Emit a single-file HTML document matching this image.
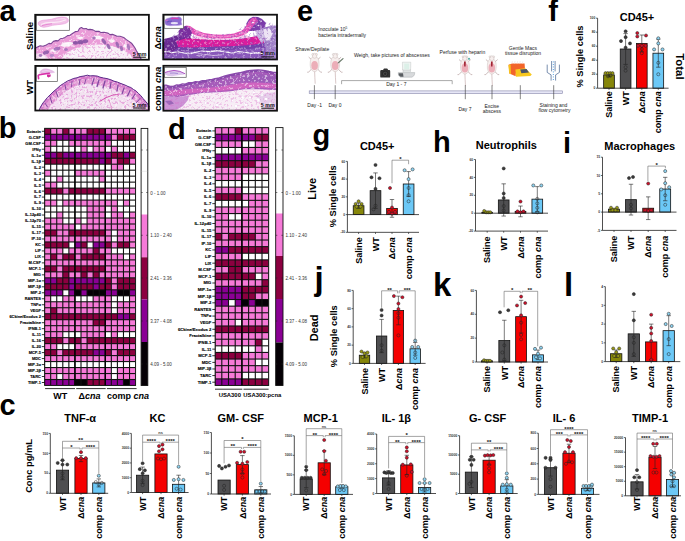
<!DOCTYPE html>
<html><head><meta charset="utf-8"><style>
html,body{margin:0;padding:0;background:#fff;width:685px;height:541px;overflow:hidden}
svg{display:block;font-family:"Liberation Sans",sans-serif}
</style></head><body>
<svg width="685" height="541" viewBox="0 0 685 541" style="font-family:'Liberation Sans', sans-serif">
<rect x="0.00" y="0.00" width="685.00" height="541.00" fill="#fff"/>
<text x="-0.40" y="21.30" font-size="29" font-weight="bold" text-anchor="start" fill="#000">a</text>
<text x="296.90" y="20.70" font-size="29" font-weight="bold" text-anchor="start" fill="#000">e</text>
<text x="548.20" y="21.30" font-size="29" font-weight="bold" text-anchor="start" fill="#000">f</text>
<text x="-1.20" y="138.20" font-size="29" font-weight="bold" text-anchor="start" fill="#000">b</text>
<text x="168.10" y="138.50" font-size="29" font-weight="bold" text-anchor="start" fill="#000">d</text>
<text x="312.50" y="145.10" font-size="29" font-weight="bold" text-anchor="start" fill="#000">g</text>
<text x="432.90" y="152.00" font-size="29" font-weight="bold" text-anchor="start" fill="#000">h</text>
<text x="563.00" y="152.70" font-size="29" font-weight="bold" text-anchor="start" fill="#000">i</text>
<text x="-0.40" y="415.10" font-size="29" font-weight="bold" text-anchor="start" fill="#000">c</text>
<text x="314.50" y="290.00" font-size="33" font-weight="bold" text-anchor="start" fill="#000">j</text>
<text x="432.90" y="296.00" font-size="33" font-weight="bold" text-anchor="start" fill="#000">k</text>
<text x="564.00" y="295.90" font-size="33" font-weight="bold" text-anchor="start" fill="#000">l</text>
<rect x="44.60" y="128.30" width="91.00" height="257.20" fill="#111"/>
<rect x="45.15" y="128.85" width="4.97" height="4.88" fill="#8c0040"/>
<rect x="51.22" y="128.85" width="4.97" height="4.88" fill="#f67ad8"/>
<rect x="57.28" y="128.85" width="4.97" height="4.88" fill="#f67ad8"/>
<rect x="63.35" y="128.85" width="4.97" height="4.88" fill="#8c0040"/>
<rect x="69.42" y="128.85" width="4.97" height="4.88" fill="#f67ad8"/>
<rect x="75.48" y="128.85" width="4.97" height="4.88" fill="#f67ad8"/>
<rect x="81.55" y="128.85" width="4.97" height="4.88" fill="#f67ad8"/>
<rect x="87.62" y="128.85" width="4.97" height="4.88" fill="#8c0040"/>
<rect x="93.68" y="128.85" width="4.97" height="4.88" fill="#8c0040"/>
<rect x="99.75" y="128.85" width="4.97" height="4.88" fill="#8c0040"/>
<rect x="105.82" y="128.85" width="4.97" height="4.88" fill="#f67ad8"/>
<rect x="111.88" y="128.85" width="4.97" height="4.88" fill="#f67ad8"/>
<rect x="117.95" y="128.85" width="4.97" height="4.88" fill="#f67ad8"/>
<rect x="124.02" y="128.85" width="4.97" height="4.88" fill="#f67ad8"/>
<rect x="130.08" y="128.85" width="4.97" height="4.88" fill="#f67ad8"/>
<rect x="45.15" y="134.83" width="4.97" height="4.88" fill="#8a0094"/>
<rect x="51.22" y="134.83" width="4.97" height="4.88" fill="#8a0094"/>
<rect x="57.28" y="134.83" width="4.97" height="4.88" fill="#8a0094"/>
<rect x="63.35" y="134.83" width="4.97" height="4.88" fill="#8a0094"/>
<rect x="69.42" y="134.83" width="4.97" height="4.88" fill="#8a0094"/>
<rect x="75.48" y="134.83" width="4.97" height="4.88" fill="#8a0094"/>
<rect x="81.55" y="134.83" width="4.97" height="4.88" fill="#8a0094"/>
<rect x="87.62" y="134.83" width="4.97" height="4.88" fill="#8a0094"/>
<rect x="93.68" y="134.83" width="4.97" height="4.88" fill="#8a0094"/>
<rect x="99.75" y="134.83" width="4.97" height="4.88" fill="#8a0094"/>
<rect x="105.82" y="134.83" width="4.97" height="4.88" fill="#8a0094"/>
<rect x="111.88" y="134.83" width="4.97" height="4.88" fill="#f67ad8"/>
<rect x="117.95" y="134.83" width="4.97" height="4.88" fill="#8c0040"/>
<rect x="124.02" y="134.83" width="4.97" height="4.88" fill="#8c0040"/>
<rect x="130.08" y="134.83" width="4.97" height="4.88" fill="#8c0040"/>
<rect x="45.15" y="140.81" width="4.97" height="4.88" fill="#f67ad8"/>
<rect x="51.22" y="140.81" width="4.97" height="4.88" fill="#f67ad8"/>
<rect x="57.28" y="140.81" width="4.97" height="4.88" fill="#ffffff"/>
<rect x="63.35" y="140.81" width="4.97" height="4.88" fill="#ffffff"/>
<rect x="69.42" y="140.81" width="4.97" height="4.88" fill="#f67ad8"/>
<rect x="75.48" y="140.81" width="4.97" height="4.88" fill="#f67ad8"/>
<rect x="81.55" y="140.81" width="4.97" height="4.88" fill="#f67ad8"/>
<rect x="87.62" y="140.81" width="4.97" height="4.88" fill="#f67ad8"/>
<rect x="93.68" y="140.81" width="4.97" height="4.88" fill="#f67ad8"/>
<rect x="99.75" y="140.81" width="4.97" height="4.88" fill="#f67ad8"/>
<rect x="105.82" y="140.81" width="4.97" height="4.88" fill="#f67ad8"/>
<rect x="111.88" y="140.81" width="4.97" height="4.88" fill="#ffffff"/>
<rect x="117.95" y="140.81" width="4.97" height="4.88" fill="#ffffff"/>
<rect x="124.02" y="140.81" width="4.97" height="4.88" fill="#ffffff"/>
<rect x="130.08" y="140.81" width="4.97" height="4.88" fill="#ffffff"/>
<rect x="45.15" y="146.79" width="4.97" height="4.88" fill="#f67ad8"/>
<rect x="51.22" y="146.79" width="4.97" height="4.88" fill="#ffffff"/>
<rect x="57.28" y="146.79" width="4.97" height="4.88" fill="#ffffff"/>
<rect x="63.35" y="146.79" width="4.97" height="4.88" fill="#ffffff"/>
<rect x="69.42" y="146.79" width="4.97" height="4.88" fill="#ffffff"/>
<rect x="75.48" y="146.79" width="4.97" height="4.88" fill="#ffffff"/>
<rect x="81.55" y="146.79" width="4.97" height="4.88" fill="#f67ad8"/>
<rect x="87.62" y="146.79" width="4.97" height="4.88" fill="#ffffff"/>
<rect x="93.68" y="146.79" width="4.97" height="4.88" fill="#f67ad8"/>
<rect x="99.75" y="146.79" width="4.97" height="4.88" fill="#f67ad8"/>
<rect x="105.82" y="146.79" width="4.97" height="4.88" fill="#ffffff"/>
<rect x="111.88" y="146.79" width="4.97" height="4.88" fill="#f67ad8"/>
<rect x="117.95" y="146.79" width="4.97" height="4.88" fill="#ffffff"/>
<rect x="124.02" y="146.79" width="4.97" height="4.88" fill="#ffffff"/>
<rect x="130.08" y="146.79" width="4.97" height="4.88" fill="#ffffff"/>
<rect x="45.15" y="152.78" width="4.97" height="4.88" fill="#8a0094"/>
<rect x="51.22" y="152.78" width="4.97" height="4.88" fill="#8a0094"/>
<rect x="57.28" y="152.78" width="4.97" height="4.88" fill="#8c0040"/>
<rect x="63.35" y="152.78" width="4.97" height="4.88" fill="#8a0094"/>
<rect x="69.42" y="152.78" width="4.97" height="4.88" fill="#8a0094"/>
<rect x="75.48" y="152.78" width="4.97" height="4.88" fill="#8a0094"/>
<rect x="81.55" y="152.78" width="4.97" height="4.88" fill="#8a0094"/>
<rect x="87.62" y="152.78" width="4.97" height="4.88" fill="#8a0094"/>
<rect x="93.68" y="152.78" width="4.97" height="4.88" fill="#8a0094"/>
<rect x="99.75" y="152.78" width="4.97" height="4.88" fill="#8a0094"/>
<rect x="105.82" y="152.78" width="4.97" height="4.88" fill="#8a0094"/>
<rect x="111.88" y="152.78" width="4.97" height="4.88" fill="#8c0040"/>
<rect x="117.95" y="152.78" width="4.97" height="4.88" fill="#8c0040"/>
<rect x="124.02" y="152.78" width="4.97" height="4.88" fill="#8a0094"/>
<rect x="130.08" y="152.78" width="4.97" height="4.88" fill="#8c0040"/>
<rect x="45.15" y="158.76" width="4.97" height="4.88" fill="#8c0040"/>
<rect x="51.22" y="158.76" width="4.97" height="4.88" fill="#8c0040"/>
<rect x="57.28" y="158.76" width="4.97" height="4.88" fill="#8c0040"/>
<rect x="63.35" y="158.76" width="4.97" height="4.88" fill="#8c0040"/>
<rect x="69.42" y="158.76" width="4.97" height="4.88" fill="#8c0040"/>
<rect x="75.48" y="158.76" width="4.97" height="4.88" fill="#8c0040"/>
<rect x="81.55" y="158.76" width="4.97" height="4.88" fill="#8c0040"/>
<rect x="87.62" y="158.76" width="4.97" height="4.88" fill="#8c0040"/>
<rect x="93.68" y="158.76" width="4.97" height="4.88" fill="#8c0040"/>
<rect x="99.75" y="158.76" width="4.97" height="4.88" fill="#8a0094"/>
<rect x="105.82" y="158.76" width="4.97" height="4.88" fill="#8c0040"/>
<rect x="111.88" y="158.76" width="4.97" height="4.88" fill="#f67ad8"/>
<rect x="117.95" y="158.76" width="4.97" height="4.88" fill="#8c0040"/>
<rect x="124.02" y="158.76" width="4.97" height="4.88" fill="#8c0040"/>
<rect x="130.08" y="158.76" width="4.97" height="4.88" fill="#f67ad8"/>
<rect x="45.15" y="164.74" width="4.97" height="4.88" fill="#ffffff"/>
<rect x="51.22" y="164.74" width="4.97" height="4.88" fill="#ffffff"/>
<rect x="57.28" y="164.74" width="4.97" height="4.88" fill="#ffffff"/>
<rect x="63.35" y="164.74" width="4.97" height="4.88" fill="#ffffff"/>
<rect x="69.42" y="164.74" width="4.97" height="4.88" fill="#ffffff"/>
<rect x="75.48" y="164.74" width="4.97" height="4.88" fill="#ffffff"/>
<rect x="81.55" y="164.74" width="4.97" height="4.88" fill="#ffffff"/>
<rect x="87.62" y="164.74" width="4.97" height="4.88" fill="#ffffff"/>
<rect x="93.68" y="164.74" width="4.97" height="4.88" fill="#ffffff"/>
<rect x="99.75" y="164.74" width="4.97" height="4.88" fill="#ffffff"/>
<rect x="105.82" y="164.74" width="4.97" height="4.88" fill="#ffffff"/>
<rect x="111.88" y="164.74" width="4.97" height="4.88" fill="#f67ad8"/>
<rect x="117.95" y="164.74" width="4.97" height="4.88" fill="#f67ad8"/>
<rect x="124.02" y="164.74" width="4.97" height="4.88" fill="#ffffff"/>
<rect x="130.08" y="164.74" width="4.97" height="4.88" fill="#ffffff"/>
<rect x="45.15" y="170.72" width="4.97" height="4.88" fill="#f67ad8"/>
<rect x="51.22" y="170.72" width="4.97" height="4.88" fill="#ffffff"/>
<rect x="57.28" y="170.72" width="4.97" height="4.88" fill="#ffffff"/>
<rect x="63.35" y="170.72" width="4.97" height="4.88" fill="#ffffff"/>
<rect x="69.42" y="170.72" width="4.97" height="4.88" fill="#ffffff"/>
<rect x="75.48" y="170.72" width="4.97" height="4.88" fill="#f67ad8"/>
<rect x="81.55" y="170.72" width="4.97" height="4.88" fill="#f67ad8"/>
<rect x="87.62" y="170.72" width="4.97" height="4.88" fill="#f67ad8"/>
<rect x="93.68" y="170.72" width="4.97" height="4.88" fill="#f67ad8"/>
<rect x="99.75" y="170.72" width="4.97" height="4.88" fill="#f67ad8"/>
<rect x="105.82" y="170.72" width="4.97" height="4.88" fill="#ffffff"/>
<rect x="111.88" y="170.72" width="4.97" height="4.88" fill="#ffffff"/>
<rect x="117.95" y="170.72" width="4.97" height="4.88" fill="#ffffff"/>
<rect x="124.02" y="170.72" width="4.97" height="4.88" fill="#ffffff"/>
<rect x="130.08" y="170.72" width="4.97" height="4.88" fill="#ffffff"/>
<rect x="45.15" y="176.70" width="4.97" height="4.88" fill="#ffffff"/>
<rect x="51.22" y="176.70" width="4.97" height="4.88" fill="#ffffff"/>
<rect x="57.28" y="176.70" width="4.97" height="4.88" fill="#f67ad8"/>
<rect x="63.35" y="176.70" width="4.97" height="4.88" fill="#ffffff"/>
<rect x="69.42" y="176.70" width="4.97" height="4.88" fill="#ffffff"/>
<rect x="75.48" y="176.70" width="4.97" height="4.88" fill="#ffffff"/>
<rect x="81.55" y="176.70" width="4.97" height="4.88" fill="#ffffff"/>
<rect x="87.62" y="176.70" width="4.97" height="4.88" fill="#ffffff"/>
<rect x="93.68" y="176.70" width="4.97" height="4.88" fill="#ffffff"/>
<rect x="99.75" y="176.70" width="4.97" height="4.88" fill="#f67ad8"/>
<rect x="105.82" y="176.70" width="4.97" height="4.88" fill="#ffffff"/>
<rect x="111.88" y="176.70" width="4.97" height="4.88" fill="#ffffff"/>
<rect x="117.95" y="176.70" width="4.97" height="4.88" fill="#ffffff"/>
<rect x="124.02" y="176.70" width="4.97" height="4.88" fill="#ffffff"/>
<rect x="130.08" y="176.70" width="4.97" height="4.88" fill="#ffffff"/>
<rect x="45.15" y="182.68" width="4.97" height="4.88" fill="#f67ad8"/>
<rect x="51.22" y="182.68" width="4.97" height="4.88" fill="#f67ad8"/>
<rect x="57.28" y="182.68" width="4.97" height="4.88" fill="#ffffff"/>
<rect x="63.35" y="182.68" width="4.97" height="4.88" fill="#ffffff"/>
<rect x="69.42" y="182.68" width="4.97" height="4.88" fill="#ffffff"/>
<rect x="75.48" y="182.68" width="4.97" height="4.88" fill="#ffffff"/>
<rect x="81.55" y="182.68" width="4.97" height="4.88" fill="#ffffff"/>
<rect x="87.62" y="182.68" width="4.97" height="4.88" fill="#ffffff"/>
<rect x="93.68" y="182.68" width="4.97" height="4.88" fill="#ffffff"/>
<rect x="99.75" y="182.68" width="4.97" height="4.88" fill="#ffffff"/>
<rect x="105.82" y="182.68" width="4.97" height="4.88" fill="#ffffff"/>
<rect x="111.88" y="182.68" width="4.97" height="4.88" fill="#ffffff"/>
<rect x="117.95" y="182.68" width="4.97" height="4.88" fill="#ffffff"/>
<rect x="124.02" y="182.68" width="4.97" height="4.88" fill="#ffffff"/>
<rect x="130.08" y="182.68" width="4.97" height="4.88" fill="#ffffff"/>
<rect x="45.15" y="188.66" width="4.97" height="4.88" fill="#8c0040"/>
<rect x="51.22" y="188.66" width="4.97" height="4.88" fill="#8c0040"/>
<rect x="57.28" y="188.66" width="4.97" height="4.88" fill="#8c0040"/>
<rect x="63.35" y="188.66" width="4.97" height="4.88" fill="#f67ad8"/>
<rect x="69.42" y="188.66" width="4.97" height="4.88" fill="#8c0040"/>
<rect x="75.48" y="188.66" width="4.97" height="4.88" fill="#8c0040"/>
<rect x="81.55" y="188.66" width="4.97" height="4.88" fill="#8c0040"/>
<rect x="87.62" y="188.66" width="4.97" height="4.88" fill="#8c0040"/>
<rect x="93.68" y="188.66" width="4.97" height="4.88" fill="#8c0040"/>
<rect x="99.75" y="188.66" width="4.97" height="4.88" fill="#8c0040"/>
<rect x="105.82" y="188.66" width="4.97" height="4.88" fill="#f67ad8"/>
<rect x="111.88" y="188.66" width="4.97" height="4.88" fill="#f67ad8"/>
<rect x="117.95" y="188.66" width="4.97" height="4.88" fill="#f67ad8"/>
<rect x="124.02" y="188.66" width="4.97" height="4.88" fill="#f67ad8"/>
<rect x="130.08" y="188.66" width="4.97" height="4.88" fill="#f67ad8"/>
<rect x="45.15" y="194.65" width="4.97" height="4.88" fill="#ffffff"/>
<rect x="51.22" y="194.65" width="4.97" height="4.88" fill="#ffffff"/>
<rect x="57.28" y="194.65" width="4.97" height="4.88" fill="#ffffff"/>
<rect x="63.35" y="194.65" width="4.97" height="4.88" fill="#ffffff"/>
<rect x="69.42" y="194.65" width="4.97" height="4.88" fill="#ffffff"/>
<rect x="75.48" y="194.65" width="4.97" height="4.88" fill="#ffffff"/>
<rect x="81.55" y="194.65" width="4.97" height="4.88" fill="#ffffff"/>
<rect x="87.62" y="194.65" width="4.97" height="4.88" fill="#ffffff"/>
<rect x="93.68" y="194.65" width="4.97" height="4.88" fill="#ffffff"/>
<rect x="99.75" y="194.65" width="4.97" height="4.88" fill="#ffffff"/>
<rect x="105.82" y="194.65" width="4.97" height="4.88" fill="#ffffff"/>
<rect x="111.88" y="194.65" width="4.97" height="4.88" fill="#ffffff"/>
<rect x="117.95" y="194.65" width="4.97" height="4.88" fill="#ffffff"/>
<rect x="124.02" y="194.65" width="4.97" height="4.88" fill="#ffffff"/>
<rect x="130.08" y="194.65" width="4.97" height="4.88" fill="#ffffff"/>
<rect x="45.15" y="200.63" width="4.97" height="4.88" fill="#f67ad8"/>
<rect x="51.22" y="200.63" width="4.97" height="4.88" fill="#f67ad8"/>
<rect x="57.28" y="200.63" width="4.97" height="4.88" fill="#ffffff"/>
<rect x="63.35" y="200.63" width="4.97" height="4.88" fill="#f67ad8"/>
<rect x="69.42" y="200.63" width="4.97" height="4.88" fill="#f67ad8"/>
<rect x="75.48" y="200.63" width="4.97" height="4.88" fill="#f67ad8"/>
<rect x="81.55" y="200.63" width="4.97" height="4.88" fill="#f67ad8"/>
<rect x="87.62" y="200.63" width="4.97" height="4.88" fill="#f67ad8"/>
<rect x="93.68" y="200.63" width="4.97" height="4.88" fill="#f67ad8"/>
<rect x="99.75" y="200.63" width="4.97" height="4.88" fill="#f67ad8"/>
<rect x="105.82" y="200.63" width="4.97" height="4.88" fill="#f67ad8"/>
<rect x="111.88" y="200.63" width="4.97" height="4.88" fill="#f67ad8"/>
<rect x="117.95" y="200.63" width="4.97" height="4.88" fill="#ffffff"/>
<rect x="124.02" y="200.63" width="4.97" height="4.88" fill="#f67ad8"/>
<rect x="130.08" y="200.63" width="4.97" height="4.88" fill="#ffffff"/>
<rect x="45.15" y="206.61" width="4.97" height="4.88" fill="#ffffff"/>
<rect x="51.22" y="206.61" width="4.97" height="4.88" fill="#ffffff"/>
<rect x="57.28" y="206.61" width="4.97" height="4.88" fill="#ffffff"/>
<rect x="63.35" y="206.61" width="4.97" height="4.88" fill="#ffffff"/>
<rect x="69.42" y="206.61" width="4.97" height="4.88" fill="#ffffff"/>
<rect x="75.48" y="206.61" width="4.97" height="4.88" fill="#ffffff"/>
<rect x="81.55" y="206.61" width="4.97" height="4.88" fill="#ffffff"/>
<rect x="87.62" y="206.61" width="4.97" height="4.88" fill="#f67ad8"/>
<rect x="93.68" y="206.61" width="4.97" height="4.88" fill="#f67ad8"/>
<rect x="99.75" y="206.61" width="4.97" height="4.88" fill="#f67ad8"/>
<rect x="105.82" y="206.61" width="4.97" height="4.88" fill="#ffffff"/>
<rect x="111.88" y="206.61" width="4.97" height="4.88" fill="#f67ad8"/>
<rect x="117.95" y="206.61" width="4.97" height="4.88" fill="#ffffff"/>
<rect x="124.02" y="206.61" width="4.97" height="4.88" fill="#ffffff"/>
<rect x="130.08" y="206.61" width="4.97" height="4.88" fill="#ffffff"/>
<rect x="45.15" y="212.59" width="4.97" height="4.88" fill="#ffffff"/>
<rect x="51.22" y="212.59" width="4.97" height="4.88" fill="#ffffff"/>
<rect x="57.28" y="212.59" width="4.97" height="4.88" fill="#f67ad8"/>
<rect x="63.35" y="212.59" width="4.97" height="4.88" fill="#ffffff"/>
<rect x="69.42" y="212.59" width="4.97" height="4.88" fill="#ffffff"/>
<rect x="75.48" y="212.59" width="4.97" height="4.88" fill="#ffffff"/>
<rect x="81.55" y="212.59" width="4.97" height="4.88" fill="#ffffff"/>
<rect x="87.62" y="212.59" width="4.97" height="4.88" fill="#f67ad8"/>
<rect x="93.68" y="212.59" width="4.97" height="4.88" fill="#f67ad8"/>
<rect x="99.75" y="212.59" width="4.97" height="4.88" fill="#f67ad8"/>
<rect x="105.82" y="212.59" width="4.97" height="4.88" fill="#ffffff"/>
<rect x="111.88" y="212.59" width="4.97" height="4.88" fill="#f67ad8"/>
<rect x="117.95" y="212.59" width="4.97" height="4.88" fill="#f67ad8"/>
<rect x="124.02" y="212.59" width="4.97" height="4.88" fill="#ffffff"/>
<rect x="130.08" y="212.59" width="4.97" height="4.88" fill="#f67ad8"/>
<rect x="45.15" y="218.57" width="4.97" height="4.88" fill="#f67ad8"/>
<rect x="51.22" y="218.57" width="4.97" height="4.88" fill="#f67ad8"/>
<rect x="57.28" y="218.57" width="4.97" height="4.88" fill="#f67ad8"/>
<rect x="63.35" y="218.57" width="4.97" height="4.88" fill="#ffffff"/>
<rect x="69.42" y="218.57" width="4.97" height="4.88" fill="#ffffff"/>
<rect x="75.48" y="218.57" width="4.97" height="4.88" fill="#f67ad8"/>
<rect x="81.55" y="218.57" width="4.97" height="4.88" fill="#ffffff"/>
<rect x="87.62" y="218.57" width="4.97" height="4.88" fill="#f67ad8"/>
<rect x="93.68" y="218.57" width="4.97" height="4.88" fill="#f67ad8"/>
<rect x="99.75" y="218.57" width="4.97" height="4.88" fill="#f67ad8"/>
<rect x="105.82" y="218.57" width="4.97" height="4.88" fill="#f67ad8"/>
<rect x="111.88" y="218.57" width="4.97" height="4.88" fill="#f67ad8"/>
<rect x="117.95" y="218.57" width="4.97" height="4.88" fill="#f67ad8"/>
<rect x="124.02" y="218.57" width="4.97" height="4.88" fill="#f67ad8"/>
<rect x="130.08" y="218.57" width="4.97" height="4.88" fill="#f67ad8"/>
<rect x="45.15" y="224.55" width="4.97" height="4.88" fill="#f67ad8"/>
<rect x="51.22" y="224.55" width="4.97" height="4.88" fill="#f67ad8"/>
<rect x="57.28" y="224.55" width="4.97" height="4.88" fill="#f67ad8"/>
<rect x="63.35" y="224.55" width="4.97" height="4.88" fill="#f67ad8"/>
<rect x="69.42" y="224.55" width="4.97" height="4.88" fill="#f67ad8"/>
<rect x="75.48" y="224.55" width="4.97" height="4.88" fill="#ffffff"/>
<rect x="81.55" y="224.55" width="4.97" height="4.88" fill="#f67ad8"/>
<rect x="87.62" y="224.55" width="4.97" height="4.88" fill="#f67ad8"/>
<rect x="93.68" y="224.55" width="4.97" height="4.88" fill="#f67ad8"/>
<rect x="99.75" y="224.55" width="4.97" height="4.88" fill="#f67ad8"/>
<rect x="105.82" y="224.55" width="4.97" height="4.88" fill="#f67ad8"/>
<rect x="111.88" y="224.55" width="4.97" height="4.88" fill="#f67ad8"/>
<rect x="117.95" y="224.55" width="4.97" height="4.88" fill="#f67ad8"/>
<rect x="124.02" y="224.55" width="4.97" height="4.88" fill="#f67ad8"/>
<rect x="130.08" y="224.55" width="4.97" height="4.88" fill="#f67ad8"/>
<rect x="45.15" y="230.53" width="4.97" height="4.88" fill="#8c0040"/>
<rect x="51.22" y="230.53" width="4.97" height="4.88" fill="#8c0040"/>
<rect x="57.28" y="230.53" width="4.97" height="4.88" fill="#f67ad8"/>
<rect x="63.35" y="230.53" width="4.97" height="4.88" fill="#f67ad8"/>
<rect x="69.42" y="230.53" width="4.97" height="4.88" fill="#8c0040"/>
<rect x="75.48" y="230.53" width="4.97" height="4.88" fill="#8c0040"/>
<rect x="81.55" y="230.53" width="4.97" height="4.88" fill="#8c0040"/>
<rect x="87.62" y="230.53" width="4.97" height="4.88" fill="#8c0040"/>
<rect x="93.68" y="230.53" width="4.97" height="4.88" fill="#8c0040"/>
<rect x="99.75" y="230.53" width="4.97" height="4.88" fill="#8c0040"/>
<rect x="105.82" y="230.53" width="4.97" height="4.88" fill="#f67ad8"/>
<rect x="111.88" y="230.53" width="4.97" height="4.88" fill="#ffffff"/>
<rect x="117.95" y="230.53" width="4.97" height="4.88" fill="#f67ad8"/>
<rect x="124.02" y="230.53" width="4.97" height="4.88" fill="#f67ad8"/>
<rect x="130.08" y="230.53" width="4.97" height="4.88" fill="#f67ad8"/>
<rect x="45.15" y="236.52" width="4.97" height="4.88" fill="#f67ad8"/>
<rect x="51.22" y="236.52" width="4.97" height="4.88" fill="#f67ad8"/>
<rect x="57.28" y="236.52" width="4.97" height="4.88" fill="#f67ad8"/>
<rect x="63.35" y="236.52" width="4.97" height="4.88" fill="#f67ad8"/>
<rect x="69.42" y="236.52" width="4.97" height="4.88" fill="#f67ad8"/>
<rect x="75.48" y="236.52" width="4.97" height="4.88" fill="#f67ad8"/>
<rect x="81.55" y="236.52" width="4.97" height="4.88" fill="#f67ad8"/>
<rect x="87.62" y="236.52" width="4.97" height="4.88" fill="#f67ad8"/>
<rect x="93.68" y="236.52" width="4.97" height="4.88" fill="#f67ad8"/>
<rect x="99.75" y="236.52" width="4.97" height="4.88" fill="#f67ad8"/>
<rect x="105.82" y="236.52" width="4.97" height="4.88" fill="#f67ad8"/>
<rect x="111.88" y="236.52" width="4.97" height="4.88" fill="#ffffff"/>
<rect x="117.95" y="236.52" width="4.97" height="4.88" fill="#f67ad8"/>
<rect x="124.02" y="236.52" width="4.97" height="4.88" fill="#f67ad8"/>
<rect x="130.08" y="236.52" width="4.97" height="4.88" fill="#f67ad8"/>
<rect x="45.15" y="242.50" width="4.97" height="4.88" fill="#8c0040"/>
<rect x="51.22" y="242.50" width="4.97" height="4.88" fill="#8c0040"/>
<rect x="57.28" y="242.50" width="4.97" height="4.88" fill="#8c0040"/>
<rect x="63.35" y="242.50" width="4.97" height="4.88" fill="#8c0040"/>
<rect x="69.42" y="242.50" width="4.97" height="4.88" fill="#ffffff"/>
<rect x="75.48" y="242.50" width="4.97" height="4.88" fill="#8a0094"/>
<rect x="81.55" y="242.50" width="4.97" height="4.88" fill="#8c0040"/>
<rect x="87.62" y="242.50" width="4.97" height="4.88" fill="#ffffff"/>
<rect x="93.68" y="242.50" width="4.97" height="4.88" fill="#8a0094"/>
<rect x="99.75" y="242.50" width="4.97" height="4.88" fill="#8a0094"/>
<rect x="105.82" y="242.50" width="4.97" height="4.88" fill="#8c0040"/>
<rect x="111.88" y="242.50" width="4.97" height="4.88" fill="#f67ad8"/>
<rect x="117.95" y="242.50" width="4.97" height="4.88" fill="#8c0040"/>
<rect x="124.02" y="242.50" width="4.97" height="4.88" fill="#8c0040"/>
<rect x="130.08" y="242.50" width="4.97" height="4.88" fill="#f67ad8"/>
<rect x="45.15" y="248.48" width="4.97" height="4.88" fill="#f67ad8"/>
<rect x="51.22" y="248.48" width="4.97" height="4.88" fill="#f67ad8"/>
<rect x="57.28" y="248.48" width="4.97" height="4.88" fill="#f67ad8"/>
<rect x="63.35" y="248.48" width="4.97" height="4.88" fill="#ffffff"/>
<rect x="69.42" y="248.48" width="4.97" height="4.88" fill="#f67ad8"/>
<rect x="75.48" y="248.48" width="4.97" height="4.88" fill="#f67ad8"/>
<rect x="81.55" y="248.48" width="4.97" height="4.88" fill="#f67ad8"/>
<rect x="87.62" y="248.48" width="4.97" height="4.88" fill="#f67ad8"/>
<rect x="93.68" y="248.48" width="4.97" height="4.88" fill="#8c0040"/>
<rect x="99.75" y="248.48" width="4.97" height="4.88" fill="#f67ad8"/>
<rect x="105.82" y="248.48" width="4.97" height="4.88" fill="#f67ad8"/>
<rect x="111.88" y="248.48" width="4.97" height="4.88" fill="#ffffff"/>
<rect x="117.95" y="248.48" width="4.97" height="4.88" fill="#ffffff"/>
<rect x="124.02" y="248.48" width="4.97" height="4.88" fill="#ffffff"/>
<rect x="130.08" y="248.48" width="4.97" height="4.88" fill="#ffffff"/>
<rect x="45.15" y="254.46" width="4.97" height="4.88" fill="#f67ad8"/>
<rect x="51.22" y="254.46" width="4.97" height="4.88" fill="#8c0040"/>
<rect x="57.28" y="254.46" width="4.97" height="4.88" fill="#f67ad8"/>
<rect x="63.35" y="254.46" width="4.97" height="4.88" fill="#8c0040"/>
<rect x="69.42" y="254.46" width="4.97" height="4.88" fill="#8c0040"/>
<rect x="75.48" y="254.46" width="4.97" height="4.88" fill="#f67ad8"/>
<rect x="81.55" y="254.46" width="4.97" height="4.88" fill="#8c0040"/>
<rect x="87.62" y="254.46" width="4.97" height="4.88" fill="#8c0040"/>
<rect x="93.68" y="254.46" width="4.97" height="4.88" fill="#8c0040"/>
<rect x="99.75" y="254.46" width="4.97" height="4.88" fill="#8c0040"/>
<rect x="105.82" y="254.46" width="4.97" height="4.88" fill="#f67ad8"/>
<rect x="111.88" y="254.46" width="4.97" height="4.88" fill="#f67ad8"/>
<rect x="117.95" y="254.46" width="4.97" height="4.88" fill="#f67ad8"/>
<rect x="124.02" y="254.46" width="4.97" height="4.88" fill="#ffffff"/>
<rect x="130.08" y="254.46" width="4.97" height="4.88" fill="#f67ad8"/>
<rect x="45.15" y="260.44" width="4.97" height="4.88" fill="#f67ad8"/>
<rect x="51.22" y="260.44" width="4.97" height="4.88" fill="#f67ad8"/>
<rect x="57.28" y="260.44" width="4.97" height="4.88" fill="#f67ad8"/>
<rect x="63.35" y="260.44" width="4.97" height="4.88" fill="#f67ad8"/>
<rect x="69.42" y="260.44" width="4.97" height="4.88" fill="#f67ad8"/>
<rect x="75.48" y="260.44" width="4.97" height="4.88" fill="#f67ad8"/>
<rect x="81.55" y="260.44" width="4.97" height="4.88" fill="#f67ad8"/>
<rect x="87.62" y="260.44" width="4.97" height="4.88" fill="#f67ad8"/>
<rect x="93.68" y="260.44" width="4.97" height="4.88" fill="#f67ad8"/>
<rect x="99.75" y="260.44" width="4.97" height="4.88" fill="#f67ad8"/>
<rect x="105.82" y="260.44" width="4.97" height="4.88" fill="#f67ad8"/>
<rect x="111.88" y="260.44" width="4.97" height="4.88" fill="#f67ad8"/>
<rect x="117.95" y="260.44" width="4.97" height="4.88" fill="#f67ad8"/>
<rect x="124.02" y="260.44" width="4.97" height="4.88" fill="#f67ad8"/>
<rect x="130.08" y="260.44" width="4.97" height="4.88" fill="#f67ad8"/>
<rect x="45.15" y="266.42" width="4.97" height="4.88" fill="#8c0040"/>
<rect x="51.22" y="266.42" width="4.97" height="4.88" fill="#8c0040"/>
<rect x="57.28" y="266.42" width="4.97" height="4.88" fill="#f67ad8"/>
<rect x="63.35" y="266.42" width="4.97" height="4.88" fill="#8c0040"/>
<rect x="69.42" y="266.42" width="4.97" height="4.88" fill="#8c0040"/>
<rect x="75.48" y="266.42" width="4.97" height="4.88" fill="#8c0040"/>
<rect x="81.55" y="266.42" width="4.97" height="4.88" fill="#8c0040"/>
<rect x="87.62" y="266.42" width="4.97" height="4.88" fill="#8c0040"/>
<rect x="93.68" y="266.42" width="4.97" height="4.88" fill="#8c0040"/>
<rect x="99.75" y="266.42" width="4.97" height="4.88" fill="#8c0040"/>
<rect x="105.82" y="266.42" width="4.97" height="4.88" fill="#f67ad8"/>
<rect x="111.88" y="266.42" width="4.97" height="4.88" fill="#f67ad8"/>
<rect x="117.95" y="266.42" width="4.97" height="4.88" fill="#f67ad8"/>
<rect x="124.02" y="266.42" width="4.97" height="4.88" fill="#f67ad8"/>
<rect x="130.08" y="266.42" width="4.97" height="4.88" fill="#f67ad8"/>
<rect x="45.15" y="272.40" width="4.97" height="4.88" fill="#f67ad8"/>
<rect x="51.22" y="272.40" width="4.97" height="4.88" fill="#f67ad8"/>
<rect x="57.28" y="272.40" width="4.97" height="4.88" fill="#f67ad8"/>
<rect x="63.35" y="272.40" width="4.97" height="4.88" fill="#8c0040"/>
<rect x="69.42" y="272.40" width="4.97" height="4.88" fill="#f67ad8"/>
<rect x="75.48" y="272.40" width="4.97" height="4.88" fill="#f67ad8"/>
<rect x="81.55" y="272.40" width="4.97" height="4.88" fill="#8c0040"/>
<rect x="87.62" y="272.40" width="4.97" height="4.88" fill="#f67ad8"/>
<rect x="93.68" y="272.40" width="4.97" height="4.88" fill="#8c0040"/>
<rect x="99.75" y="272.40" width="4.97" height="4.88" fill="#f67ad8"/>
<rect x="105.82" y="272.40" width="4.97" height="4.88" fill="#f67ad8"/>
<rect x="111.88" y="272.40" width="4.97" height="4.88" fill="#f67ad8"/>
<rect x="117.95" y="272.40" width="4.97" height="4.88" fill="#f67ad8"/>
<rect x="124.02" y="272.40" width="4.97" height="4.88" fill="#f67ad8"/>
<rect x="130.08" y="272.40" width="4.97" height="4.88" fill="#f67ad8"/>
<rect x="45.15" y="278.38" width="4.97" height="4.88" fill="#8a0094"/>
<rect x="51.22" y="278.38" width="4.97" height="4.88" fill="#8a0094"/>
<rect x="57.28" y="278.38" width="4.97" height="4.88" fill="#8c0040"/>
<rect x="63.35" y="278.38" width="4.97" height="4.88" fill="#8c0040"/>
<rect x="69.42" y="278.38" width="4.97" height="4.88" fill="#8a0094"/>
<rect x="75.48" y="278.38" width="4.97" height="4.88" fill="#8a0094"/>
<rect x="81.55" y="278.38" width="4.97" height="4.88" fill="#8a0094"/>
<rect x="87.62" y="278.38" width="4.97" height="4.88" fill="#8a0094"/>
<rect x="93.68" y="278.38" width="4.97" height="4.88" fill="#8a0094"/>
<rect x="99.75" y="278.38" width="4.97" height="4.88" fill="#8a0094"/>
<rect x="105.82" y="278.38" width="4.97" height="4.88" fill="#8c0040"/>
<rect x="111.88" y="278.38" width="4.97" height="4.88" fill="#f67ad8"/>
<rect x="117.95" y="278.38" width="4.97" height="4.88" fill="#8c0040"/>
<rect x="124.02" y="278.38" width="4.97" height="4.88" fill="#8c0040"/>
<rect x="130.08" y="278.38" width="4.97" height="4.88" fill="#8c0040"/>
<rect x="45.15" y="284.37" width="4.97" height="4.88" fill="#8c0040"/>
<rect x="51.22" y="284.37" width="4.97" height="4.88" fill="#8c0040"/>
<rect x="57.28" y="284.37" width="4.97" height="4.88" fill="#8c0040"/>
<rect x="63.35" y="284.37" width="4.97" height="4.88" fill="#8c0040"/>
<rect x="69.42" y="284.37" width="4.97" height="4.88" fill="#8a0094"/>
<rect x="75.48" y="284.37" width="4.97" height="4.88" fill="#8c0040"/>
<rect x="81.55" y="284.37" width="4.97" height="4.88" fill="#8c0040"/>
<rect x="87.62" y="284.37" width="4.97" height="4.88" fill="#8c0040"/>
<rect x="93.68" y="284.37" width="4.97" height="4.88" fill="#8a0094"/>
<rect x="99.75" y="284.37" width="4.97" height="4.88" fill="#8c0040"/>
<rect x="105.82" y="284.37" width="4.97" height="4.88" fill="#8c0040"/>
<rect x="111.88" y="284.37" width="4.97" height="4.88" fill="#f67ad8"/>
<rect x="117.95" y="284.37" width="4.97" height="4.88" fill="#8c0040"/>
<rect x="124.02" y="284.37" width="4.97" height="4.88" fill="#8c0040"/>
<rect x="130.08" y="284.37" width="4.97" height="4.88" fill="#8c0040"/>
<rect x="45.15" y="290.35" width="4.97" height="4.88" fill="#8a0094"/>
<rect x="51.22" y="290.35" width="4.97" height="4.88" fill="#8a0094"/>
<rect x="57.28" y="290.35" width="4.97" height="4.88" fill="#8a0094"/>
<rect x="63.35" y="290.35" width="4.97" height="4.88" fill="#ffffff"/>
<rect x="69.42" y="290.35" width="4.97" height="4.88" fill="#8a0094"/>
<rect x="75.48" y="290.35" width="4.97" height="4.88" fill="#050005"/>
<rect x="81.55" y="290.35" width="4.97" height="4.88" fill="#8a0094"/>
<rect x="87.62" y="290.35" width="4.97" height="4.88" fill="#050005"/>
<rect x="93.68" y="290.35" width="4.97" height="4.88" fill="#050005"/>
<rect x="99.75" y="290.35" width="4.97" height="4.88" fill="#050005"/>
<rect x="105.82" y="290.35" width="4.97" height="4.88" fill="#8a0094"/>
<rect x="111.88" y="290.35" width="4.97" height="4.88" fill="#8a0094"/>
<rect x="117.95" y="290.35" width="4.97" height="4.88" fill="#050005"/>
<rect x="124.02" y="290.35" width="4.97" height="4.88" fill="#050005"/>
<rect x="130.08" y="290.35" width="4.97" height="4.88" fill="#8a0094"/>
<rect x="45.15" y="296.33" width="4.97" height="4.88" fill="#f67ad8"/>
<rect x="51.22" y="296.33" width="4.97" height="4.88" fill="#ffffff"/>
<rect x="57.28" y="296.33" width="4.97" height="4.88" fill="#ffffff"/>
<rect x="63.35" y="296.33" width="4.97" height="4.88" fill="#f67ad8"/>
<rect x="69.42" y="296.33" width="4.97" height="4.88" fill="#f67ad8"/>
<rect x="75.48" y="296.33" width="4.97" height="4.88" fill="#ffffff"/>
<rect x="81.55" y="296.33" width="4.97" height="4.88" fill="#ffffff"/>
<rect x="87.62" y="296.33" width="4.97" height="4.88" fill="#ffffff"/>
<rect x="93.68" y="296.33" width="4.97" height="4.88" fill="#f67ad8"/>
<rect x="99.75" y="296.33" width="4.97" height="4.88" fill="#f67ad8"/>
<rect x="105.82" y="296.33" width="4.97" height="4.88" fill="#f67ad8"/>
<rect x="111.88" y="296.33" width="4.97" height="4.88" fill="#ffffff"/>
<rect x="117.95" y="296.33" width="4.97" height="4.88" fill="#ffffff"/>
<rect x="124.02" y="296.33" width="4.97" height="4.88" fill="#ffffff"/>
<rect x="130.08" y="296.33" width="4.97" height="4.88" fill="#f67ad8"/>
<rect x="45.15" y="302.31" width="4.97" height="4.88" fill="#f67ad8"/>
<rect x="51.22" y="302.31" width="4.97" height="4.88" fill="#f67ad8"/>
<rect x="57.28" y="302.31" width="4.97" height="4.88" fill="#f67ad8"/>
<rect x="63.35" y="302.31" width="4.97" height="4.88" fill="#f67ad8"/>
<rect x="69.42" y="302.31" width="4.97" height="4.88" fill="#f67ad8"/>
<rect x="75.48" y="302.31" width="4.97" height="4.88" fill="#f67ad8"/>
<rect x="81.55" y="302.31" width="4.97" height="4.88" fill="#f67ad8"/>
<rect x="87.62" y="302.31" width="4.97" height="4.88" fill="#f67ad8"/>
<rect x="93.68" y="302.31" width="4.97" height="4.88" fill="#f67ad8"/>
<rect x="99.75" y="302.31" width="4.97" height="4.88" fill="#f67ad8"/>
<rect x="105.82" y="302.31" width="4.97" height="4.88" fill="#f67ad8"/>
<rect x="111.88" y="302.31" width="4.97" height="4.88" fill="#ffffff"/>
<rect x="117.95" y="302.31" width="4.97" height="4.88" fill="#f67ad8"/>
<rect x="124.02" y="302.31" width="4.97" height="4.88" fill="#f67ad8"/>
<rect x="130.08" y="302.31" width="4.97" height="4.88" fill="#f67ad8"/>
<rect x="45.15" y="308.29" width="4.97" height="4.88" fill="#f67ad8"/>
<rect x="51.22" y="308.29" width="4.97" height="4.88" fill="#8c0040"/>
<rect x="57.28" y="308.29" width="4.97" height="4.88" fill="#f67ad8"/>
<rect x="63.35" y="308.29" width="4.97" height="4.88" fill="#f67ad8"/>
<rect x="69.42" y="308.29" width="4.97" height="4.88" fill="#f67ad8"/>
<rect x="75.48" y="308.29" width="4.97" height="4.88" fill="#f67ad8"/>
<rect x="81.55" y="308.29" width="4.97" height="4.88" fill="#f67ad8"/>
<rect x="87.62" y="308.29" width="4.97" height="4.88" fill="#f67ad8"/>
<rect x="93.68" y="308.29" width="4.97" height="4.88" fill="#f67ad8"/>
<rect x="99.75" y="308.29" width="4.97" height="4.88" fill="#f67ad8"/>
<rect x="105.82" y="308.29" width="4.97" height="4.88" fill="#f67ad8"/>
<rect x="111.88" y="308.29" width="4.97" height="4.88" fill="#ffffff"/>
<rect x="117.95" y="308.29" width="4.97" height="4.88" fill="#f67ad8"/>
<rect x="124.02" y="308.29" width="4.97" height="4.88" fill="#f67ad8"/>
<rect x="130.08" y="308.29" width="4.97" height="4.88" fill="#f67ad8"/>
<rect x="45.15" y="314.27" width="4.97" height="4.88" fill="#8c0040"/>
<rect x="51.22" y="314.27" width="4.97" height="4.88" fill="#8c0040"/>
<rect x="57.28" y="314.27" width="4.97" height="4.88" fill="#8c0040"/>
<rect x="63.35" y="314.27" width="4.97" height="4.88" fill="#8c0040"/>
<rect x="69.42" y="314.27" width="4.97" height="4.88" fill="#8c0040"/>
<rect x="75.48" y="314.27" width="4.97" height="4.88" fill="#8c0040"/>
<rect x="81.55" y="314.27" width="4.97" height="4.88" fill="#8c0040"/>
<rect x="87.62" y="314.27" width="4.97" height="4.88" fill="#8c0040"/>
<rect x="93.68" y="314.27" width="4.97" height="4.88" fill="#8c0040"/>
<rect x="99.75" y="314.27" width="4.97" height="4.88" fill="#8c0040"/>
<rect x="105.82" y="314.27" width="4.97" height="4.88" fill="#8c0040"/>
<rect x="111.88" y="314.27" width="4.97" height="4.88" fill="#8c0040"/>
<rect x="117.95" y="314.27" width="4.97" height="4.88" fill="#8a0094"/>
<rect x="124.02" y="314.27" width="4.97" height="4.88" fill="#8a0094"/>
<rect x="130.08" y="314.27" width="4.97" height="4.88" fill="#8c0040"/>
<rect x="45.15" y="320.25" width="4.97" height="4.88" fill="#f67ad8"/>
<rect x="51.22" y="320.25" width="4.97" height="4.88" fill="#f67ad8"/>
<rect x="57.28" y="320.25" width="4.97" height="4.88" fill="#f67ad8"/>
<rect x="63.35" y="320.25" width="4.97" height="4.88" fill="#f67ad8"/>
<rect x="69.42" y="320.25" width="4.97" height="4.88" fill="#f67ad8"/>
<rect x="75.48" y="320.25" width="4.97" height="4.88" fill="#f67ad8"/>
<rect x="81.55" y="320.25" width="4.97" height="4.88" fill="#f67ad8"/>
<rect x="87.62" y="320.25" width="4.97" height="4.88" fill="#f67ad8"/>
<rect x="93.68" y="320.25" width="4.97" height="4.88" fill="#8c0040"/>
<rect x="99.75" y="320.25" width="4.97" height="4.88" fill="#8c0040"/>
<rect x="105.82" y="320.25" width="4.97" height="4.88" fill="#f67ad8"/>
<rect x="111.88" y="320.25" width="4.97" height="4.88" fill="#f67ad8"/>
<rect x="117.95" y="320.25" width="4.97" height="4.88" fill="#f67ad8"/>
<rect x="124.02" y="320.25" width="4.97" height="4.88" fill="#f67ad8"/>
<rect x="130.08" y="320.25" width="4.97" height="4.88" fill="#f67ad8"/>
<rect x="45.15" y="326.24" width="4.97" height="4.88" fill="#f67ad8"/>
<rect x="51.22" y="326.24" width="4.97" height="4.88" fill="#f67ad8"/>
<rect x="57.28" y="326.24" width="4.97" height="4.88" fill="#f67ad8"/>
<rect x="63.35" y="326.24" width="4.97" height="4.88" fill="#f67ad8"/>
<rect x="69.42" y="326.24" width="4.97" height="4.88" fill="#f67ad8"/>
<rect x="75.48" y="326.24" width="4.97" height="4.88" fill="#f67ad8"/>
<rect x="81.55" y="326.24" width="4.97" height="4.88" fill="#f67ad8"/>
<rect x="87.62" y="326.24" width="4.97" height="4.88" fill="#f67ad8"/>
<rect x="93.68" y="326.24" width="4.97" height="4.88" fill="#f67ad8"/>
<rect x="99.75" y="326.24" width="4.97" height="4.88" fill="#f67ad8"/>
<rect x="105.82" y="326.24" width="4.97" height="4.88" fill="#f67ad8"/>
<rect x="111.88" y="326.24" width="4.97" height="4.88" fill="#f67ad8"/>
<rect x="117.95" y="326.24" width="4.97" height="4.88" fill="#f67ad8"/>
<rect x="124.02" y="326.24" width="4.97" height="4.88" fill="#f67ad8"/>
<rect x="130.08" y="326.24" width="4.97" height="4.88" fill="#f67ad8"/>
<rect x="45.15" y="332.22" width="4.97" height="4.88" fill="#f67ad8"/>
<rect x="51.22" y="332.22" width="4.97" height="4.88" fill="#f67ad8"/>
<rect x="57.28" y="332.22" width="4.97" height="4.88" fill="#f67ad8"/>
<rect x="63.35" y="332.22" width="4.97" height="4.88" fill="#ffffff"/>
<rect x="69.42" y="332.22" width="4.97" height="4.88" fill="#ffffff"/>
<rect x="75.48" y="332.22" width="4.97" height="4.88" fill="#ffffff"/>
<rect x="81.55" y="332.22" width="4.97" height="4.88" fill="#f67ad8"/>
<rect x="87.62" y="332.22" width="4.97" height="4.88" fill="#f67ad8"/>
<rect x="93.68" y="332.22" width="4.97" height="4.88" fill="#f67ad8"/>
<rect x="99.75" y="332.22" width="4.97" height="4.88" fill="#f67ad8"/>
<rect x="105.82" y="332.22" width="4.97" height="4.88" fill="#ffffff"/>
<rect x="111.88" y="332.22" width="4.97" height="4.88" fill="#f67ad8"/>
<rect x="117.95" y="332.22" width="4.97" height="4.88" fill="#ffffff"/>
<rect x="124.02" y="332.22" width="4.97" height="4.88" fill="#ffffff"/>
<rect x="130.08" y="332.22" width="4.97" height="4.88" fill="#ffffff"/>
<rect x="45.15" y="338.20" width="4.97" height="4.88" fill="#8c0040"/>
<rect x="51.22" y="338.20" width="4.97" height="4.88" fill="#8c0040"/>
<rect x="57.28" y="338.20" width="4.97" height="4.88" fill="#8c0040"/>
<rect x="63.35" y="338.20" width="4.97" height="4.88" fill="#f67ad8"/>
<rect x="69.42" y="338.20" width="4.97" height="4.88" fill="#8c0040"/>
<rect x="75.48" y="338.20" width="4.97" height="4.88" fill="#8c0040"/>
<rect x="81.55" y="338.20" width="4.97" height="4.88" fill="#f67ad8"/>
<rect x="87.62" y="338.20" width="4.97" height="4.88" fill="#8c0040"/>
<rect x="93.68" y="338.20" width="4.97" height="4.88" fill="#8c0040"/>
<rect x="99.75" y="338.20" width="4.97" height="4.88" fill="#8c0040"/>
<rect x="105.82" y="338.20" width="4.97" height="4.88" fill="#8c0040"/>
<rect x="111.88" y="338.20" width="4.97" height="4.88" fill="#8c0040"/>
<rect x="117.95" y="338.20" width="4.97" height="4.88" fill="#8c0040"/>
<rect x="124.02" y="338.20" width="4.97" height="4.88" fill="#8c0040"/>
<rect x="130.08" y="338.20" width="4.97" height="4.88" fill="#8c0040"/>
<rect x="45.15" y="344.18" width="4.97" height="4.88" fill="#f67ad8"/>
<rect x="51.22" y="344.18" width="4.97" height="4.88" fill="#f67ad8"/>
<rect x="57.28" y="344.18" width="4.97" height="4.88" fill="#ffffff"/>
<rect x="63.35" y="344.18" width="4.97" height="4.88" fill="#ffffff"/>
<rect x="69.42" y="344.18" width="4.97" height="4.88" fill="#ffffff"/>
<rect x="75.48" y="344.18" width="4.97" height="4.88" fill="#f67ad8"/>
<rect x="81.55" y="344.18" width="4.97" height="4.88" fill="#f67ad8"/>
<rect x="87.62" y="344.18" width="4.97" height="4.88" fill="#f67ad8"/>
<rect x="93.68" y="344.18" width="4.97" height="4.88" fill="#f67ad8"/>
<rect x="99.75" y="344.18" width="4.97" height="4.88" fill="#f67ad8"/>
<rect x="105.82" y="344.18" width="4.97" height="4.88" fill="#f67ad8"/>
<rect x="111.88" y="344.18" width="4.97" height="4.88" fill="#f67ad8"/>
<rect x="117.95" y="344.18" width="4.97" height="4.88" fill="#f67ad8"/>
<rect x="124.02" y="344.18" width="4.97" height="4.88" fill="#f67ad8"/>
<rect x="130.08" y="344.18" width="4.97" height="4.88" fill="#f67ad8"/>
<rect x="45.15" y="350.16" width="4.97" height="4.88" fill="#8c0040"/>
<rect x="51.22" y="350.16" width="4.97" height="4.88" fill="#8c0040"/>
<rect x="57.28" y="350.16" width="4.97" height="4.88" fill="#f67ad8"/>
<rect x="63.35" y="350.16" width="4.97" height="4.88" fill="#8c0040"/>
<rect x="69.42" y="350.16" width="4.97" height="4.88" fill="#8c0040"/>
<rect x="75.48" y="350.16" width="4.97" height="4.88" fill="#8c0040"/>
<rect x="81.55" y="350.16" width="4.97" height="4.88" fill="#8c0040"/>
<rect x="87.62" y="350.16" width="4.97" height="4.88" fill="#8c0040"/>
<rect x="93.68" y="350.16" width="4.97" height="4.88" fill="#8a0094"/>
<rect x="99.75" y="350.16" width="4.97" height="4.88" fill="#8a0094"/>
<rect x="105.82" y="350.16" width="4.97" height="4.88" fill="#8c0040"/>
<rect x="111.88" y="350.16" width="4.97" height="4.88" fill="#f67ad8"/>
<rect x="117.95" y="350.16" width="4.97" height="4.88" fill="#8c0040"/>
<rect x="124.02" y="350.16" width="4.97" height="4.88" fill="#8c0040"/>
<rect x="130.08" y="350.16" width="4.97" height="4.88" fill="#8c0040"/>
<rect x="45.15" y="356.14" width="4.97" height="4.88" fill="#f67ad8"/>
<rect x="51.22" y="356.14" width="4.97" height="4.88" fill="#f67ad8"/>
<rect x="57.28" y="356.14" width="4.97" height="4.88" fill="#f67ad8"/>
<rect x="63.35" y="356.14" width="4.97" height="4.88" fill="#f67ad8"/>
<rect x="69.42" y="356.14" width="4.97" height="4.88" fill="#f67ad8"/>
<rect x="75.48" y="356.14" width="4.97" height="4.88" fill="#f67ad8"/>
<rect x="81.55" y="356.14" width="4.97" height="4.88" fill="#f67ad8"/>
<rect x="87.62" y="356.14" width="4.97" height="4.88" fill="#f67ad8"/>
<rect x="93.68" y="356.14" width="4.97" height="4.88" fill="#f67ad8"/>
<rect x="99.75" y="356.14" width="4.97" height="4.88" fill="#f67ad8"/>
<rect x="105.82" y="356.14" width="4.97" height="4.88" fill="#f67ad8"/>
<rect x="111.88" y="356.14" width="4.97" height="4.88" fill="#f67ad8"/>
<rect x="117.95" y="356.14" width="4.97" height="4.88" fill="#f67ad8"/>
<rect x="124.02" y="356.14" width="4.97" height="4.88" fill="#f67ad8"/>
<rect x="130.08" y="356.14" width="4.97" height="4.88" fill="#f67ad8"/>
<rect x="45.15" y="362.12" width="4.97" height="4.88" fill="#ffffff"/>
<rect x="51.22" y="362.12" width="4.97" height="4.88" fill="#ffffff"/>
<rect x="57.28" y="362.12" width="4.97" height="4.88" fill="#ffffff"/>
<rect x="63.35" y="362.12" width="4.97" height="4.88" fill="#ffffff"/>
<rect x="69.42" y="362.12" width="4.97" height="4.88" fill="#ffffff"/>
<rect x="75.48" y="362.12" width="4.97" height="4.88" fill="#ffffff"/>
<rect x="81.55" y="362.12" width="4.97" height="4.88" fill="#ffffff"/>
<rect x="87.62" y="362.12" width="4.97" height="4.88" fill="#ffffff"/>
<rect x="93.68" y="362.12" width="4.97" height="4.88" fill="#ffffff"/>
<rect x="99.75" y="362.12" width="4.97" height="4.88" fill="#ffffff"/>
<rect x="105.82" y="362.12" width="4.97" height="4.88" fill="#ffffff"/>
<rect x="111.88" y="362.12" width="4.97" height="4.88" fill="#ffffff"/>
<rect x="117.95" y="362.12" width="4.97" height="4.88" fill="#ffffff"/>
<rect x="124.02" y="362.12" width="4.97" height="4.88" fill="#ffffff"/>
<rect x="130.08" y="362.12" width="4.97" height="4.88" fill="#ffffff"/>
<rect x="45.15" y="368.11" width="4.97" height="4.88" fill="#f67ad8"/>
<rect x="51.22" y="368.11" width="4.97" height="4.88" fill="#f67ad8"/>
<rect x="57.28" y="368.11" width="4.97" height="4.88" fill="#f67ad8"/>
<rect x="63.35" y="368.11" width="4.97" height="4.88" fill="#f67ad8"/>
<rect x="69.42" y="368.11" width="4.97" height="4.88" fill="#f67ad8"/>
<rect x="75.48" y="368.11" width="4.97" height="4.88" fill="#f67ad8"/>
<rect x="81.55" y="368.11" width="4.97" height="4.88" fill="#f67ad8"/>
<rect x="87.62" y="368.11" width="4.97" height="4.88" fill="#f67ad8"/>
<rect x="93.68" y="368.11" width="4.97" height="4.88" fill="#f67ad8"/>
<rect x="99.75" y="368.11" width="4.97" height="4.88" fill="#f67ad8"/>
<rect x="105.82" y="368.11" width="4.97" height="4.88" fill="#f67ad8"/>
<rect x="111.88" y="368.11" width="4.97" height="4.88" fill="#ffffff"/>
<rect x="117.95" y="368.11" width="4.97" height="4.88" fill="#f67ad8"/>
<rect x="124.02" y="368.11" width="4.97" height="4.88" fill="#f67ad8"/>
<rect x="130.08" y="368.11" width="4.97" height="4.88" fill="#f67ad8"/>
<rect x="45.15" y="374.09" width="4.97" height="4.88" fill="#f67ad8"/>
<rect x="51.22" y="374.09" width="4.97" height="4.88" fill="#f67ad8"/>
<rect x="57.28" y="374.09" width="4.97" height="4.88" fill="#ffffff"/>
<rect x="63.35" y="374.09" width="4.97" height="4.88" fill="#f67ad8"/>
<rect x="69.42" y="374.09" width="4.97" height="4.88" fill="#f67ad8"/>
<rect x="75.48" y="374.09" width="4.97" height="4.88" fill="#f67ad8"/>
<rect x="81.55" y="374.09" width="4.97" height="4.88" fill="#f67ad8"/>
<rect x="87.62" y="374.09" width="4.97" height="4.88" fill="#f67ad8"/>
<rect x="93.68" y="374.09" width="4.97" height="4.88" fill="#f67ad8"/>
<rect x="99.75" y="374.09" width="4.97" height="4.88" fill="#f67ad8"/>
<rect x="105.82" y="374.09" width="4.97" height="4.88" fill="#f67ad8"/>
<rect x="111.88" y="374.09" width="4.97" height="4.88" fill="#ffffff"/>
<rect x="117.95" y="374.09" width="4.97" height="4.88" fill="#f67ad8"/>
<rect x="124.02" y="374.09" width="4.97" height="4.88" fill="#f67ad8"/>
<rect x="130.08" y="374.09" width="4.97" height="4.88" fill="#f67ad8"/>
<rect x="45.15" y="380.07" width="4.97" height="4.88" fill="#8a0094"/>
<rect x="51.22" y="380.07" width="4.97" height="4.88" fill="#8a0094"/>
<rect x="57.28" y="380.07" width="4.97" height="4.88" fill="#8a0094"/>
<rect x="63.35" y="380.07" width="4.97" height="4.88" fill="#8a0094"/>
<rect x="69.42" y="380.07" width="4.97" height="4.88" fill="#8a0094"/>
<rect x="75.48" y="380.07" width="4.97" height="4.88" fill="#050005"/>
<rect x="81.55" y="380.07" width="4.97" height="4.88" fill="#050005"/>
<rect x="87.62" y="380.07" width="4.97" height="4.88" fill="#8c0040"/>
<rect x="93.68" y="380.07" width="4.97" height="4.88" fill="#8c0040"/>
<rect x="99.75" y="380.07" width="4.97" height="4.88" fill="#8c0040"/>
<rect x="105.82" y="380.07" width="4.97" height="4.88" fill="#8a0094"/>
<rect x="111.88" y="380.07" width="4.97" height="4.88" fill="#8a0094"/>
<rect x="117.95" y="380.07" width="4.97" height="4.88" fill="#8a0094"/>
<rect x="124.02" y="380.07" width="4.97" height="4.88" fill="#050005"/>
<rect x="130.08" y="380.07" width="4.97" height="4.88" fill="#8a0094"/>
<line x1="74.93" y1="128.30" x2="74.93" y2="385.50" stroke="#000" stroke-width="1.4"/>
<line x1="105.27" y1="128.30" x2="105.27" y2="385.50" stroke="#000" stroke-width="1.4"/>
<rect x="44.60" y="128.30" width="91.00" height="257.20" fill="none" stroke="#111" stroke-width="0.9"/>
<line x1="41.80" y1="131.29" x2="44.60" y2="131.29" stroke="#000" stroke-width="0.8"/>
<text x="40.90" y="132.69" font-size="3.95" font-weight="bold" text-anchor="end" fill="#000" stroke="#000" stroke-width="0.12">Eotaxin</text>
<line x1="41.80" y1="137.27" x2="44.60" y2="137.27" stroke="#000" stroke-width="0.8"/>
<text x="40.90" y="138.67" font-size="3.95" font-weight="bold" text-anchor="end" fill="#000" stroke="#000" stroke-width="0.12">G-CSF</text>
<line x1="41.80" y1="143.25" x2="44.60" y2="143.25" stroke="#000" stroke-width="0.8"/>
<text x="40.90" y="144.65" font-size="3.95" font-weight="bold" text-anchor="end" fill="#000" stroke="#000" stroke-width="0.12">GM-CSF</text>
<line x1="41.80" y1="149.23" x2="44.60" y2="149.23" stroke="#000" stroke-width="0.8"/>
<text x="40.90" y="150.63" font-size="3.95" font-weight="bold" text-anchor="end" fill="#000" stroke="#000" stroke-width="0.12">IFNγ</text>
<line x1="41.80" y1="155.22" x2="44.60" y2="155.22" stroke="#000" stroke-width="0.8"/>
<text x="40.90" y="156.62" font-size="3.95" font-weight="bold" text-anchor="end" fill="#000" stroke="#000" stroke-width="0.12">IL-1α</text>
<line x1="41.80" y1="161.20" x2="44.60" y2="161.20" stroke="#000" stroke-width="0.8"/>
<text x="40.90" y="162.60" font-size="3.95" font-weight="bold" text-anchor="end" fill="#000" stroke="#000" stroke-width="0.12">IL-1β</text>
<line x1="41.80" y1="167.18" x2="44.60" y2="167.18" stroke="#000" stroke-width="0.8"/>
<text x="40.90" y="168.58" font-size="3.95" font-weight="bold" text-anchor="end" fill="#000" stroke="#000" stroke-width="0.12">IL-2</text>
<line x1="41.80" y1="173.16" x2="44.60" y2="173.16" stroke="#000" stroke-width="0.8"/>
<text x="40.90" y="174.56" font-size="3.95" font-weight="bold" text-anchor="end" fill="#000" stroke="#000" stroke-width="0.12">IL-3</text>
<line x1="41.80" y1="179.14" x2="44.60" y2="179.14" stroke="#000" stroke-width="0.8"/>
<text x="40.90" y="180.54" font-size="3.95" font-weight="bold" text-anchor="end" fill="#000" stroke="#000" stroke-width="0.12">IL-4</text>
<line x1="41.80" y1="185.12" x2="44.60" y2="185.12" stroke="#000" stroke-width="0.8"/>
<text x="40.90" y="186.52" font-size="3.95" font-weight="bold" text-anchor="end" fill="#000" stroke="#000" stroke-width="0.12">IL-5</text>
<line x1="41.80" y1="191.10" x2="44.60" y2="191.10" stroke="#000" stroke-width="0.8"/>
<text x="40.90" y="192.50" font-size="3.95" font-weight="bold" text-anchor="end" fill="#000" stroke="#000" stroke-width="0.12">IL-6</text>
<line x1="41.80" y1="197.09" x2="44.60" y2="197.09" stroke="#000" stroke-width="0.8"/>
<text x="40.90" y="198.49" font-size="3.95" font-weight="bold" text-anchor="end" fill="#000" stroke="#000" stroke-width="0.12">IL-7</text>
<line x1="41.80" y1="203.07" x2="44.60" y2="203.07" stroke="#000" stroke-width="0.8"/>
<text x="40.90" y="204.47" font-size="3.95" font-weight="bold" text-anchor="end" fill="#000" stroke="#000" stroke-width="0.12">IL-9</text>
<line x1="41.80" y1="209.05" x2="44.60" y2="209.05" stroke="#000" stroke-width="0.8"/>
<text x="40.90" y="210.45" font-size="3.95" font-weight="bold" text-anchor="end" fill="#000" stroke="#000" stroke-width="0.12">IL-10</text>
<line x1="41.80" y1="215.03" x2="44.60" y2="215.03" stroke="#000" stroke-width="0.8"/>
<text x="40.90" y="216.43" font-size="3.95" font-weight="bold" text-anchor="end" fill="#000" stroke="#000" stroke-width="0.12">IL-12p40</text>
<line x1="41.80" y1="221.01" x2="44.60" y2="221.01" stroke="#000" stroke-width="0.8"/>
<text x="40.90" y="222.41" font-size="3.95" font-weight="bold" text-anchor="end" fill="#000" stroke="#000" stroke-width="0.12">IL-12p70</text>
<line x1="41.80" y1="226.99" x2="44.60" y2="226.99" stroke="#000" stroke-width="0.8"/>
<text x="40.90" y="228.39" font-size="3.95" font-weight="bold" text-anchor="end" fill="#000" stroke="#000" stroke-width="0.12">IL-15</text>
<line x1="41.80" y1="232.97" x2="44.60" y2="232.97" stroke="#000" stroke-width="0.8"/>
<text x="40.90" y="234.37" font-size="3.95" font-weight="bold" text-anchor="end" fill="#000" stroke="#000" stroke-width="0.12">IL-17</text>
<line x1="41.80" y1="238.96" x2="44.60" y2="238.96" stroke="#000" stroke-width="0.8"/>
<text x="40.90" y="240.36" font-size="3.95" font-weight="bold" text-anchor="end" fill="#000" stroke="#000" stroke-width="0.12">IP-10</text>
<line x1="41.80" y1="244.94" x2="44.60" y2="244.94" stroke="#000" stroke-width="0.8"/>
<text x="40.90" y="246.34" font-size="3.95" font-weight="bold" text-anchor="end" fill="#000" stroke="#000" stroke-width="0.12">KC</text>
<line x1="41.80" y1="250.92" x2="44.60" y2="250.92" stroke="#000" stroke-width="0.8"/>
<text x="40.90" y="252.32" font-size="3.95" font-weight="bold" text-anchor="end" fill="#000" stroke="#000" stroke-width="0.12">LIF</text>
<line x1="41.80" y1="256.90" x2="44.60" y2="256.90" stroke="#000" stroke-width="0.8"/>
<text x="40.90" y="258.30" font-size="3.95" font-weight="bold" text-anchor="end" fill="#000" stroke="#000" stroke-width="0.12">LIX</text>
<line x1="41.80" y1="262.88" x2="44.60" y2="262.88" stroke="#000" stroke-width="0.8"/>
<text x="40.90" y="264.28" font-size="3.95" font-weight="bold" text-anchor="end" fill="#000" stroke="#000" stroke-width="0.12">M-CSF</text>
<line x1="41.80" y1="268.86" x2="44.60" y2="268.86" stroke="#000" stroke-width="0.8"/>
<text x="40.90" y="270.26" font-size="3.95" font-weight="bold" text-anchor="end" fill="#000" stroke="#000" stroke-width="0.12">MCP-1</text>
<line x1="41.80" y1="274.84" x2="44.60" y2="274.84" stroke="#000" stroke-width="0.8"/>
<text x="40.90" y="276.24" font-size="3.95" font-weight="bold" text-anchor="end" fill="#000" stroke="#000" stroke-width="0.12">MIG</text>
<line x1="41.80" y1="280.83" x2="44.60" y2="280.83" stroke="#000" stroke-width="0.8"/>
<text x="40.90" y="282.23" font-size="3.95" font-weight="bold" text-anchor="end" fill="#000" stroke="#000" stroke-width="0.12">MIP-1α</text>
<line x1="41.80" y1="286.81" x2="44.60" y2="286.81" stroke="#000" stroke-width="0.8"/>
<text x="40.90" y="288.21" font-size="3.95" font-weight="bold" text-anchor="end" fill="#000" stroke="#000" stroke-width="0.12">MIP-1β</text>
<line x1="41.80" y1="292.79" x2="44.60" y2="292.79" stroke="#000" stroke-width="0.8"/>
<text x="40.90" y="294.19" font-size="3.95" font-weight="bold" text-anchor="end" fill="#000" stroke="#000" stroke-width="0.12">MIP-2</text>
<line x1="41.80" y1="298.77" x2="44.60" y2="298.77" stroke="#000" stroke-width="0.8"/>
<text x="40.90" y="300.17" font-size="3.95" font-weight="bold" text-anchor="end" fill="#000" stroke="#000" stroke-width="0.12">RANTES</text>
<line x1="41.80" y1="304.75" x2="44.60" y2="304.75" stroke="#000" stroke-width="0.8"/>
<text x="40.90" y="306.15" font-size="3.95" font-weight="bold" text-anchor="end" fill="#000" stroke="#000" stroke-width="0.12">TNFα</text>
<line x1="41.80" y1="310.73" x2="44.60" y2="310.73" stroke="#000" stroke-width="0.8"/>
<text x="40.90" y="312.13" font-size="3.95" font-weight="bold" text-anchor="end" fill="#000" stroke="#000" stroke-width="0.12">VEGF</text>
<line x1="41.80" y1="316.71" x2="44.60" y2="316.71" stroke="#000" stroke-width="0.8"/>
<text x="40.90" y="318.11" font-size="3.95" font-weight="bold" text-anchor="end" fill="#000" stroke="#000" stroke-width="0.12">6Ckine/Exodus 2</text>
<line x1="41.80" y1="322.70" x2="44.60" y2="322.70" stroke="#000" stroke-width="0.8"/>
<text x="40.90" y="324.10" font-size="3.95" font-weight="bold" text-anchor="end" fill="#000" stroke="#000" stroke-width="0.12">Fractalkine</text>
<line x1="41.80" y1="328.68" x2="44.60" y2="328.68" stroke="#000" stroke-width="0.8"/>
<text x="40.90" y="330.08" font-size="3.95" font-weight="bold" text-anchor="end" fill="#000" stroke="#000" stroke-width="0.12">IFNB-1</text>
<line x1="41.80" y1="334.66" x2="44.60" y2="334.66" stroke="#000" stroke-width="0.8"/>
<text x="40.90" y="336.06" font-size="3.95" font-weight="bold" text-anchor="end" fill="#000" stroke="#000" stroke-width="0.12">IL-11</text>
<line x1="41.80" y1="340.64" x2="44.60" y2="340.64" stroke="#000" stroke-width="0.8"/>
<text x="40.90" y="342.04" font-size="3.95" font-weight="bold" text-anchor="end" fill="#000" stroke="#000" stroke-width="0.12">IL-16</text>
<line x1="41.80" y1="346.62" x2="44.60" y2="346.62" stroke="#000" stroke-width="0.8"/>
<text x="40.90" y="348.02" font-size="3.95" font-weight="bold" text-anchor="end" fill="#000" stroke="#000" stroke-width="0.12">IL-20</text>
<line x1="41.80" y1="352.60" x2="44.60" y2="352.60" stroke="#000" stroke-width="0.8"/>
<text x="40.90" y="354.00" font-size="3.95" font-weight="bold" text-anchor="end" fill="#000" stroke="#000" stroke-width="0.12">MCP-5</text>
<line x1="41.80" y1="358.58" x2="44.60" y2="358.58" stroke="#000" stroke-width="0.8"/>
<text x="40.90" y="359.98" font-size="3.95" font-weight="bold" text-anchor="end" fill="#000" stroke="#000" stroke-width="0.12">MDC</text>
<line x1="41.80" y1="364.57" x2="44.60" y2="364.57" stroke="#000" stroke-width="0.8"/>
<text x="40.90" y="365.97" font-size="3.95" font-weight="bold" text-anchor="end" fill="#000" stroke="#000" stroke-width="0.12">MIP-3α</text>
<line x1="41.80" y1="370.55" x2="44.60" y2="370.55" stroke="#000" stroke-width="0.8"/>
<text x="40.90" y="371.95" font-size="3.95" font-weight="bold" text-anchor="end" fill="#000" stroke="#000" stroke-width="0.12">MIP-3β</text>
<line x1="41.80" y1="376.53" x2="44.60" y2="376.53" stroke="#000" stroke-width="0.8"/>
<text x="40.90" y="377.93" font-size="3.95" font-weight="bold" text-anchor="end" fill="#000" stroke="#000" stroke-width="0.12">TARC</text>
<line x1="41.80" y1="382.51" x2="44.60" y2="382.51" stroke="#000" stroke-width="0.8"/>
<text x="40.90" y="383.91" font-size="3.95" font-weight="bold" text-anchor="end" fill="#000" stroke="#000" stroke-width="0.12">TIMP-1</text>
<rect x="215.10" y="127.60" width="53.60" height="257.90" fill="#111"/>
<rect x="215.65" y="128.15" width="5.60" height="5.51" fill="#f67ad8"/>
<rect x="222.35" y="128.15" width="5.60" height="5.51" fill="#f67ad8"/>
<rect x="229.05" y="128.15" width="5.60" height="5.51" fill="#f67ad8"/>
<rect x="235.75" y="128.15" width="5.60" height="5.51" fill="#8c0040"/>
<rect x="242.45" y="128.15" width="5.60" height="5.51" fill="#f67ad8"/>
<rect x="249.15" y="128.15" width="5.60" height="5.51" fill="#f67ad8"/>
<rect x="255.85" y="128.15" width="5.60" height="5.51" fill="#f67ad8"/>
<rect x="262.55" y="128.15" width="5.60" height="5.51" fill="#f67ad8"/>
<rect x="215.65" y="134.76" width="5.60" height="5.51" fill="#8a0094"/>
<rect x="222.35" y="134.76" width="5.60" height="5.51" fill="#8a0094"/>
<rect x="229.05" y="134.76" width="5.60" height="5.51" fill="#8a0094"/>
<rect x="235.75" y="134.76" width="5.60" height="5.51" fill="#8a0094"/>
<rect x="242.45" y="134.76" width="5.60" height="5.51" fill="#8a0094"/>
<rect x="249.15" y="134.76" width="5.60" height="5.51" fill="#8a0094"/>
<rect x="255.85" y="134.76" width="5.60" height="5.51" fill="#8c0040"/>
<rect x="262.55" y="134.76" width="5.60" height="5.51" fill="#8c0040"/>
<rect x="215.65" y="141.38" width="5.60" height="5.51" fill="#f67ad8"/>
<rect x="222.35" y="141.38" width="5.60" height="5.51" fill="#f67ad8"/>
<rect x="229.05" y="141.38" width="5.60" height="5.51" fill="#f67ad8"/>
<rect x="235.75" y="141.38" width="5.60" height="5.51" fill="#f67ad8"/>
<rect x="242.45" y="141.38" width="5.60" height="5.51" fill="#ffffff"/>
<rect x="249.15" y="141.38" width="5.60" height="5.51" fill="#ffffff"/>
<rect x="255.85" y="141.38" width="5.60" height="5.51" fill="#f67ad8"/>
<rect x="262.55" y="141.38" width="5.60" height="5.51" fill="#f67ad8"/>
<rect x="215.65" y="147.99" width="5.60" height="5.51" fill="#ffffff"/>
<rect x="222.35" y="147.99" width="5.60" height="5.51" fill="#ffffff"/>
<rect x="229.05" y="147.99" width="5.60" height="5.51" fill="#ffffff"/>
<rect x="235.75" y="147.99" width="5.60" height="5.51" fill="#ffffff"/>
<rect x="242.45" y="147.99" width="5.60" height="5.51" fill="#f67ad8"/>
<rect x="249.15" y="147.99" width="5.60" height="5.51" fill="#f67ad8"/>
<rect x="255.85" y="147.99" width="5.60" height="5.51" fill="#f67ad8"/>
<rect x="262.55" y="147.99" width="5.60" height="5.51" fill="#f67ad8"/>
<rect x="215.65" y="154.60" width="5.60" height="5.51" fill="#8a0094"/>
<rect x="222.35" y="154.60" width="5.60" height="5.51" fill="#8a0094"/>
<rect x="229.05" y="154.60" width="5.60" height="5.51" fill="#8a0094"/>
<rect x="235.75" y="154.60" width="5.60" height="5.51" fill="#8a0094"/>
<rect x="242.45" y="154.60" width="5.60" height="5.51" fill="#8a0094"/>
<rect x="249.15" y="154.60" width="5.60" height="5.51" fill="#8a0094"/>
<rect x="255.85" y="154.60" width="5.60" height="5.51" fill="#8a0094"/>
<rect x="262.55" y="154.60" width="5.60" height="5.51" fill="#8a0094"/>
<rect x="215.65" y="161.21" width="5.60" height="5.51" fill="#8c0040"/>
<rect x="222.35" y="161.21" width="5.60" height="5.51" fill="#8c0040"/>
<rect x="229.05" y="161.21" width="5.60" height="5.51" fill="#8c0040"/>
<rect x="235.75" y="161.21" width="5.60" height="5.51" fill="#8c0040"/>
<rect x="242.45" y="161.21" width="5.60" height="5.51" fill="#8c0040"/>
<rect x="249.15" y="161.21" width="5.60" height="5.51" fill="#8c0040"/>
<rect x="255.85" y="161.21" width="5.60" height="5.51" fill="#f67ad8"/>
<rect x="262.55" y="161.21" width="5.60" height="5.51" fill="#f67ad8"/>
<rect x="215.65" y="167.83" width="5.60" height="5.51" fill="#f67ad8"/>
<rect x="222.35" y="167.83" width="5.60" height="5.51" fill="#f67ad8"/>
<rect x="229.05" y="167.83" width="5.60" height="5.51" fill="#f67ad8"/>
<rect x="235.75" y="167.83" width="5.60" height="5.51" fill="#f67ad8"/>
<rect x="242.45" y="167.83" width="5.60" height="5.51" fill="#f67ad8"/>
<rect x="249.15" y="167.83" width="5.60" height="5.51" fill="#f67ad8"/>
<rect x="255.85" y="167.83" width="5.60" height="5.51" fill="#f67ad8"/>
<rect x="262.55" y="167.83" width="5.60" height="5.51" fill="#f67ad8"/>
<rect x="215.65" y="174.44" width="5.60" height="5.51" fill="#f67ad8"/>
<rect x="222.35" y="174.44" width="5.60" height="5.51" fill="#f67ad8"/>
<rect x="229.05" y="174.44" width="5.60" height="5.51" fill="#f67ad8"/>
<rect x="235.75" y="174.44" width="5.60" height="5.51" fill="#f67ad8"/>
<rect x="242.45" y="174.44" width="5.60" height="5.51" fill="#ffffff"/>
<rect x="249.15" y="174.44" width="5.60" height="5.51" fill="#ffffff"/>
<rect x="255.85" y="174.44" width="5.60" height="5.51" fill="#ffffff"/>
<rect x="262.55" y="174.44" width="5.60" height="5.51" fill="#ffffff"/>
<rect x="215.65" y="181.05" width="5.60" height="5.51" fill="#ffffff"/>
<rect x="222.35" y="181.05" width="5.60" height="5.51" fill="#ffffff"/>
<rect x="229.05" y="181.05" width="5.60" height="5.51" fill="#ffffff"/>
<rect x="235.75" y="181.05" width="5.60" height="5.51" fill="#ffffff"/>
<rect x="242.45" y="181.05" width="5.60" height="5.51" fill="#ffffff"/>
<rect x="249.15" y="181.05" width="5.60" height="5.51" fill="#ffffff"/>
<rect x="255.85" y="181.05" width="5.60" height="5.51" fill="#ffffff"/>
<rect x="262.55" y="181.05" width="5.60" height="5.51" fill="#ffffff"/>
<rect x="215.65" y="187.67" width="5.60" height="5.51" fill="#f67ad8"/>
<rect x="222.35" y="187.67" width="5.60" height="5.51" fill="#f67ad8"/>
<rect x="229.05" y="187.67" width="5.60" height="5.51" fill="#f67ad8"/>
<rect x="235.75" y="187.67" width="5.60" height="5.51" fill="#f67ad8"/>
<rect x="242.45" y="187.67" width="5.60" height="5.51" fill="#ffffff"/>
<rect x="249.15" y="187.67" width="5.60" height="5.51" fill="#ffffff"/>
<rect x="255.85" y="187.67" width="5.60" height="5.51" fill="#ffffff"/>
<rect x="262.55" y="187.67" width="5.60" height="5.51" fill="#ffffff"/>
<rect x="215.65" y="194.28" width="5.60" height="5.51" fill="#8c0040"/>
<rect x="222.35" y="194.28" width="5.60" height="5.51" fill="#8c0040"/>
<rect x="229.05" y="194.28" width="5.60" height="5.51" fill="#8c0040"/>
<rect x="235.75" y="194.28" width="5.60" height="5.51" fill="#8c0040"/>
<rect x="242.45" y="194.28" width="5.60" height="5.51" fill="#f67ad8"/>
<rect x="249.15" y="194.28" width="5.60" height="5.51" fill="#f67ad8"/>
<rect x="255.85" y="194.28" width="5.60" height="5.51" fill="#f67ad8"/>
<rect x="262.55" y="194.28" width="5.60" height="5.51" fill="#f67ad8"/>
<rect x="215.65" y="200.89" width="5.60" height="5.51" fill="#ffffff"/>
<rect x="222.35" y="200.89" width="5.60" height="5.51" fill="#ffffff"/>
<rect x="229.05" y="200.89" width="5.60" height="5.51" fill="#ffffff"/>
<rect x="235.75" y="200.89" width="5.60" height="5.51" fill="#ffffff"/>
<rect x="242.45" y="200.89" width="5.60" height="5.51" fill="#ffffff"/>
<rect x="249.15" y="200.89" width="5.60" height="5.51" fill="#f67ad8"/>
<rect x="255.85" y="200.89" width="5.60" height="5.51" fill="#f67ad8"/>
<rect x="262.55" y="200.89" width="5.60" height="5.51" fill="#f67ad8"/>
<rect x="215.65" y="207.50" width="5.60" height="5.51" fill="#f67ad8"/>
<rect x="222.35" y="207.50" width="5.60" height="5.51" fill="#f67ad8"/>
<rect x="229.05" y="207.50" width="5.60" height="5.51" fill="#f67ad8"/>
<rect x="235.75" y="207.50" width="5.60" height="5.51" fill="#f67ad8"/>
<rect x="242.45" y="207.50" width="5.60" height="5.51" fill="#f67ad8"/>
<rect x="249.15" y="207.50" width="5.60" height="5.51" fill="#f67ad8"/>
<rect x="255.85" y="207.50" width="5.60" height="5.51" fill="#f67ad8"/>
<rect x="262.55" y="207.50" width="5.60" height="5.51" fill="#f67ad8"/>
<rect x="215.65" y="214.12" width="5.60" height="5.51" fill="#f67ad8"/>
<rect x="222.35" y="214.12" width="5.60" height="5.51" fill="#f67ad8"/>
<rect x="229.05" y="214.12" width="5.60" height="5.51" fill="#ffffff"/>
<rect x="235.75" y="214.12" width="5.60" height="5.51" fill="#ffffff"/>
<rect x="242.45" y="214.12" width="5.60" height="5.51" fill="#f67ad8"/>
<rect x="249.15" y="214.12" width="5.60" height="5.51" fill="#f67ad8"/>
<rect x="255.85" y="214.12" width="5.60" height="5.51" fill="#f67ad8"/>
<rect x="262.55" y="214.12" width="5.60" height="5.51" fill="#f67ad8"/>
<rect x="215.65" y="220.73" width="5.60" height="5.51" fill="#f67ad8"/>
<rect x="222.35" y="220.73" width="5.60" height="5.51" fill="#f67ad8"/>
<rect x="229.05" y="220.73" width="5.60" height="5.51" fill="#f67ad8"/>
<rect x="235.75" y="220.73" width="5.60" height="5.51" fill="#f67ad8"/>
<rect x="242.45" y="220.73" width="5.60" height="5.51" fill="#f67ad8"/>
<rect x="249.15" y="220.73" width="5.60" height="5.51" fill="#f67ad8"/>
<rect x="255.85" y="220.73" width="5.60" height="5.51" fill="#f67ad8"/>
<rect x="262.55" y="220.73" width="5.60" height="5.51" fill="#f67ad8"/>
<rect x="215.65" y="227.34" width="5.60" height="5.51" fill="#f67ad8"/>
<rect x="222.35" y="227.34" width="5.60" height="5.51" fill="#f67ad8"/>
<rect x="229.05" y="227.34" width="5.60" height="5.51" fill="#f67ad8"/>
<rect x="235.75" y="227.34" width="5.60" height="5.51" fill="#f67ad8"/>
<rect x="242.45" y="227.34" width="5.60" height="5.51" fill="#f67ad8"/>
<rect x="249.15" y="227.34" width="5.60" height="5.51" fill="#f67ad8"/>
<rect x="255.85" y="227.34" width="5.60" height="5.51" fill="#f67ad8"/>
<rect x="262.55" y="227.34" width="5.60" height="5.51" fill="#f67ad8"/>
<rect x="215.65" y="233.96" width="5.60" height="5.51" fill="#8c0040"/>
<rect x="222.35" y="233.96" width="5.60" height="5.51" fill="#f67ad8"/>
<rect x="229.05" y="233.96" width="5.60" height="5.51" fill="#8c0040"/>
<rect x="235.75" y="233.96" width="5.60" height="5.51" fill="#8c0040"/>
<rect x="242.45" y="233.96" width="5.60" height="5.51" fill="#8c0040"/>
<rect x="249.15" y="233.96" width="5.60" height="5.51" fill="#8c0040"/>
<rect x="255.85" y="233.96" width="5.60" height="5.51" fill="#f67ad8"/>
<rect x="262.55" y="233.96" width="5.60" height="5.51" fill="#f67ad8"/>
<rect x="215.65" y="240.57" width="5.60" height="5.51" fill="#f67ad8"/>
<rect x="222.35" y="240.57" width="5.60" height="5.51" fill="#f67ad8"/>
<rect x="229.05" y="240.57" width="5.60" height="5.51" fill="#f67ad8"/>
<rect x="235.75" y="240.57" width="5.60" height="5.51" fill="#f67ad8"/>
<rect x="242.45" y="240.57" width="5.60" height="5.51" fill="#f67ad8"/>
<rect x="249.15" y="240.57" width="5.60" height="5.51" fill="#f67ad8"/>
<rect x="255.85" y="240.57" width="5.60" height="5.51" fill="#f67ad8"/>
<rect x="262.55" y="240.57" width="5.60" height="5.51" fill="#f67ad8"/>
<rect x="215.65" y="247.18" width="5.60" height="5.51" fill="#8a0094"/>
<rect x="222.35" y="247.18" width="5.60" height="5.51" fill="#8a0094"/>
<rect x="229.05" y="247.18" width="5.60" height="5.51" fill="#8c0040"/>
<rect x="235.75" y="247.18" width="5.60" height="5.51" fill="#8c0040"/>
<rect x="242.45" y="247.18" width="5.60" height="5.51" fill="#8c0040"/>
<rect x="249.15" y="247.18" width="5.60" height="5.51" fill="#8c0040"/>
<rect x="255.85" y="247.18" width="5.60" height="5.51" fill="#8c0040"/>
<rect x="262.55" y="247.18" width="5.60" height="5.51" fill="#8c0040"/>
<rect x="215.65" y="253.79" width="5.60" height="5.51" fill="#f67ad8"/>
<rect x="222.35" y="253.79" width="5.60" height="5.51" fill="#f67ad8"/>
<rect x="229.05" y="253.79" width="5.60" height="5.51" fill="#f67ad8"/>
<rect x="235.75" y="253.79" width="5.60" height="5.51" fill="#f67ad8"/>
<rect x="242.45" y="253.79" width="5.60" height="5.51" fill="#ffffff"/>
<rect x="249.15" y="253.79" width="5.60" height="5.51" fill="#ffffff"/>
<rect x="255.85" y="253.79" width="5.60" height="5.51" fill="#ffffff"/>
<rect x="262.55" y="253.79" width="5.60" height="5.51" fill="#ffffff"/>
<rect x="215.65" y="260.41" width="5.60" height="5.51" fill="#8c0040"/>
<rect x="222.35" y="260.41" width="5.60" height="5.51" fill="#8c0040"/>
<rect x="229.05" y="260.41" width="5.60" height="5.51" fill="#8c0040"/>
<rect x="235.75" y="260.41" width="5.60" height="5.51" fill="#8c0040"/>
<rect x="242.45" y="260.41" width="5.60" height="5.51" fill="#8c0040"/>
<rect x="249.15" y="260.41" width="5.60" height="5.51" fill="#8c0040"/>
<rect x="255.85" y="260.41" width="5.60" height="5.51" fill="#8c0040"/>
<rect x="262.55" y="260.41" width="5.60" height="5.51" fill="#8c0040"/>
<rect x="215.65" y="267.02" width="5.60" height="5.51" fill="#f67ad8"/>
<rect x="222.35" y="267.02" width="5.60" height="5.51" fill="#f67ad8"/>
<rect x="229.05" y="267.02" width="5.60" height="5.51" fill="#8c0040"/>
<rect x="235.75" y="267.02" width="5.60" height="5.51" fill="#8c0040"/>
<rect x="242.45" y="267.02" width="5.60" height="5.51" fill="#f67ad8"/>
<rect x="249.15" y="267.02" width="5.60" height="5.51" fill="#f67ad8"/>
<rect x="255.85" y="267.02" width="5.60" height="5.51" fill="#f67ad8"/>
<rect x="262.55" y="267.02" width="5.60" height="5.51" fill="#f67ad8"/>
<rect x="215.65" y="273.63" width="5.60" height="5.51" fill="#8c0040"/>
<rect x="222.35" y="273.63" width="5.60" height="5.51" fill="#8c0040"/>
<rect x="229.05" y="273.63" width="5.60" height="5.51" fill="#8c0040"/>
<rect x="235.75" y="273.63" width="5.60" height="5.51" fill="#8c0040"/>
<rect x="242.45" y="273.63" width="5.60" height="5.51" fill="#8c0040"/>
<rect x="249.15" y="273.63" width="5.60" height="5.51" fill="#8c0040"/>
<rect x="255.85" y="273.63" width="5.60" height="5.51" fill="#ffffff"/>
<rect x="262.55" y="273.63" width="5.60" height="5.51" fill="#f67ad8"/>
<rect x="215.65" y="280.24" width="5.60" height="5.51" fill="#f67ad8"/>
<rect x="222.35" y="280.24" width="5.60" height="5.51" fill="#f67ad8"/>
<rect x="229.05" y="280.24" width="5.60" height="5.51" fill="#f67ad8"/>
<rect x="235.75" y="280.24" width="5.60" height="5.51" fill="#f67ad8"/>
<rect x="242.45" y="280.24" width="5.60" height="5.51" fill="#f67ad8"/>
<rect x="249.15" y="280.24" width="5.60" height="5.51" fill="#f67ad8"/>
<rect x="255.85" y="280.24" width="5.60" height="5.51" fill="#f67ad8"/>
<rect x="262.55" y="280.24" width="5.60" height="5.51" fill="#8c0040"/>
<rect x="215.65" y="286.86" width="5.60" height="5.51" fill="#8a0094"/>
<rect x="222.35" y="286.86" width="5.60" height="5.51" fill="#8a0094"/>
<rect x="229.05" y="286.86" width="5.60" height="5.51" fill="#8a0094"/>
<rect x="235.75" y="286.86" width="5.60" height="5.51" fill="#8a0094"/>
<rect x="242.45" y="286.86" width="5.60" height="5.51" fill="#8c0040"/>
<rect x="249.15" y="286.86" width="5.60" height="5.51" fill="#8c0040"/>
<rect x="255.85" y="286.86" width="5.60" height="5.51" fill="#8c0040"/>
<rect x="262.55" y="286.86" width="5.60" height="5.51" fill="#8c0040"/>
<rect x="215.65" y="293.47" width="5.60" height="5.51" fill="#8a0094"/>
<rect x="222.35" y="293.47" width="5.60" height="5.51" fill="#8a0094"/>
<rect x="229.05" y="293.47" width="5.60" height="5.51" fill="#8a0094"/>
<rect x="235.75" y="293.47" width="5.60" height="5.51" fill="#8a0094"/>
<rect x="242.45" y="293.47" width="5.60" height="5.51" fill="#8c0040"/>
<rect x="249.15" y="293.47" width="5.60" height="5.51" fill="#8c0040"/>
<rect x="255.85" y="293.47" width="5.60" height="5.51" fill="#f67ad8"/>
<rect x="262.55" y="293.47" width="5.60" height="5.51" fill="#f67ad8"/>
<rect x="215.65" y="300.08" width="5.60" height="5.51" fill="#8a0094"/>
<rect x="222.35" y="300.08" width="5.60" height="5.51" fill="#8a0094"/>
<rect x="229.05" y="300.08" width="5.60" height="5.51" fill="#ffffff"/>
<rect x="235.75" y="300.08" width="5.60" height="5.51" fill="#8a0094"/>
<rect x="242.45" y="300.08" width="5.60" height="5.51" fill="#050005"/>
<rect x="249.15" y="300.08" width="5.60" height="5.51" fill="#8a0094"/>
<rect x="255.85" y="300.08" width="5.60" height="5.51" fill="#050005"/>
<rect x="262.55" y="300.08" width="5.60" height="5.51" fill="#050005"/>
<rect x="215.65" y="306.70" width="5.60" height="5.51" fill="#f67ad8"/>
<rect x="222.35" y="306.70" width="5.60" height="5.51" fill="#f67ad8"/>
<rect x="229.05" y="306.70" width="5.60" height="5.51" fill="#f67ad8"/>
<rect x="235.75" y="306.70" width="5.60" height="5.51" fill="#f67ad8"/>
<rect x="242.45" y="306.70" width="5.60" height="5.51" fill="#f67ad8"/>
<rect x="249.15" y="306.70" width="5.60" height="5.51" fill="#f67ad8"/>
<rect x="255.85" y="306.70" width="5.60" height="5.51" fill="#f67ad8"/>
<rect x="262.55" y="306.70" width="5.60" height="5.51" fill="#f67ad8"/>
<rect x="215.65" y="313.31" width="5.60" height="5.51" fill="#f67ad8"/>
<rect x="222.35" y="313.31" width="5.60" height="5.51" fill="#f67ad8"/>
<rect x="229.05" y="313.31" width="5.60" height="5.51" fill="#f67ad8"/>
<rect x="235.75" y="313.31" width="5.60" height="5.51" fill="#f67ad8"/>
<rect x="242.45" y="313.31" width="5.60" height="5.51" fill="#f67ad8"/>
<rect x="249.15" y="313.31" width="5.60" height="5.51" fill="#f67ad8"/>
<rect x="255.85" y="313.31" width="5.60" height="5.51" fill="#f67ad8"/>
<rect x="262.55" y="313.31" width="5.60" height="5.51" fill="#f67ad8"/>
<rect x="215.65" y="319.92" width="5.60" height="5.51" fill="#f67ad8"/>
<rect x="222.35" y="319.92" width="5.60" height="5.51" fill="#f67ad8"/>
<rect x="229.05" y="319.92" width="5.60" height="5.51" fill="#f67ad8"/>
<rect x="235.75" y="319.92" width="5.60" height="5.51" fill="#ffffff"/>
<rect x="242.45" y="319.92" width="5.60" height="5.51" fill="#f67ad8"/>
<rect x="249.15" y="319.92" width="5.60" height="5.51" fill="#f67ad8"/>
<rect x="255.85" y="319.92" width="5.60" height="5.51" fill="#f67ad8"/>
<rect x="262.55" y="319.92" width="5.60" height="5.51" fill="#f67ad8"/>
<rect x="215.65" y="326.53" width="5.60" height="5.51" fill="#8c0040"/>
<rect x="222.35" y="326.53" width="5.60" height="5.51" fill="#8c0040"/>
<rect x="229.05" y="326.53" width="5.60" height="5.51" fill="#8c0040"/>
<rect x="235.75" y="326.53" width="5.60" height="5.51" fill="#8c0040"/>
<rect x="242.45" y="326.53" width="5.60" height="5.51" fill="#8c0040"/>
<rect x="249.15" y="326.53" width="5.60" height="5.51" fill="#8c0040"/>
<rect x="255.85" y="326.53" width="5.60" height="5.51" fill="#8c0040"/>
<rect x="262.55" y="326.53" width="5.60" height="5.51" fill="#8c0040"/>
<rect x="215.65" y="333.15" width="5.60" height="5.51" fill="#f67ad8"/>
<rect x="222.35" y="333.15" width="5.60" height="5.51" fill="#f67ad8"/>
<rect x="229.05" y="333.15" width="5.60" height="5.51" fill="#f67ad8"/>
<rect x="235.75" y="333.15" width="5.60" height="5.51" fill="#f67ad8"/>
<rect x="242.45" y="333.15" width="5.60" height="5.51" fill="#f67ad8"/>
<rect x="249.15" y="333.15" width="5.60" height="5.51" fill="#f67ad8"/>
<rect x="255.85" y="333.15" width="5.60" height="5.51" fill="#f67ad8"/>
<rect x="262.55" y="333.15" width="5.60" height="5.51" fill="#f67ad8"/>
<rect x="215.65" y="339.76" width="5.60" height="5.51" fill="#f67ad8"/>
<rect x="222.35" y="339.76" width="5.60" height="5.51" fill="#f67ad8"/>
<rect x="229.05" y="339.76" width="5.60" height="5.51" fill="#f67ad8"/>
<rect x="235.75" y="339.76" width="5.60" height="5.51" fill="#f67ad8"/>
<rect x="242.45" y="339.76" width="5.60" height="5.51" fill="#f67ad8"/>
<rect x="249.15" y="339.76" width="5.60" height="5.51" fill="#f67ad8"/>
<rect x="255.85" y="339.76" width="5.60" height="5.51" fill="#8c0040"/>
<rect x="262.55" y="339.76" width="5.60" height="5.51" fill="#ffffff"/>
<rect x="215.65" y="346.37" width="5.60" height="5.51" fill="#ffffff"/>
<rect x="222.35" y="346.37" width="5.60" height="5.51" fill="#ffffff"/>
<rect x="229.05" y="346.37" width="5.60" height="5.51" fill="#ffffff"/>
<rect x="235.75" y="346.37" width="5.60" height="5.51" fill="#ffffff"/>
<rect x="242.45" y="346.37" width="5.60" height="5.51" fill="#ffffff"/>
<rect x="249.15" y="346.37" width="5.60" height="5.51" fill="#ffffff"/>
<rect x="255.85" y="346.37" width="5.60" height="5.51" fill="#f67ad8"/>
<rect x="262.55" y="346.37" width="5.60" height="5.51" fill="#ffffff"/>
<rect x="215.65" y="352.99" width="5.60" height="5.51" fill="#8c0040"/>
<rect x="222.35" y="352.99" width="5.60" height="5.51" fill="#8c0040"/>
<rect x="229.05" y="352.99" width="5.60" height="5.51" fill="#8c0040"/>
<rect x="235.75" y="352.99" width="5.60" height="5.51" fill="#8c0040"/>
<rect x="242.45" y="352.99" width="5.60" height="5.51" fill="#f67ad8"/>
<rect x="249.15" y="352.99" width="5.60" height="5.51" fill="#f67ad8"/>
<rect x="255.85" y="352.99" width="5.60" height="5.51" fill="#f67ad8"/>
<rect x="262.55" y="352.99" width="5.60" height="5.51" fill="#f67ad8"/>
<rect x="215.65" y="359.60" width="5.60" height="5.51" fill="#f67ad8"/>
<rect x="222.35" y="359.60" width="5.60" height="5.51" fill="#f67ad8"/>
<rect x="229.05" y="359.60" width="5.60" height="5.51" fill="#f67ad8"/>
<rect x="235.75" y="359.60" width="5.60" height="5.51" fill="#f67ad8"/>
<rect x="242.45" y="359.60" width="5.60" height="5.51" fill="#f67ad8"/>
<rect x="249.15" y="359.60" width="5.60" height="5.51" fill="#f67ad8"/>
<rect x="255.85" y="359.60" width="5.60" height="5.51" fill="#ffffff"/>
<rect x="262.55" y="359.60" width="5.60" height="5.51" fill="#ffffff"/>
<rect x="215.65" y="366.21" width="5.60" height="5.51" fill="#f67ad8"/>
<rect x="222.35" y="366.21" width="5.60" height="5.51" fill="#f67ad8"/>
<rect x="229.05" y="366.21" width="5.60" height="5.51" fill="#f67ad8"/>
<rect x="235.75" y="366.21" width="5.60" height="5.51" fill="#f67ad8"/>
<rect x="242.45" y="366.21" width="5.60" height="5.51" fill="#f67ad8"/>
<rect x="249.15" y="366.21" width="5.60" height="5.51" fill="#f67ad8"/>
<rect x="255.85" y="366.21" width="5.60" height="5.51" fill="#f67ad8"/>
<rect x="262.55" y="366.21" width="5.60" height="5.51" fill="#f67ad8"/>
<rect x="215.65" y="372.82" width="5.60" height="5.51" fill="#f67ad8"/>
<rect x="222.35" y="372.82" width="5.60" height="5.51" fill="#f67ad8"/>
<rect x="229.05" y="372.82" width="5.60" height="5.51" fill="#f67ad8"/>
<rect x="235.75" y="372.82" width="5.60" height="5.51" fill="#f67ad8"/>
<rect x="242.45" y="372.82" width="5.60" height="5.51" fill="#ffffff"/>
<rect x="249.15" y="372.82" width="5.60" height="5.51" fill="#ffffff"/>
<rect x="255.85" y="372.82" width="5.60" height="5.51" fill="#ffffff"/>
<rect x="262.55" y="372.82" width="5.60" height="5.51" fill="#ffffff"/>
<rect x="215.65" y="379.44" width="5.60" height="5.51" fill="#8a0094"/>
<rect x="222.35" y="379.44" width="5.60" height="5.51" fill="#8a0094"/>
<rect x="229.05" y="379.44" width="5.60" height="5.51" fill="#8a0094"/>
<rect x="235.75" y="379.44" width="5.60" height="5.51" fill="#8a0094"/>
<rect x="242.45" y="379.44" width="5.60" height="5.51" fill="#8c0040"/>
<rect x="249.15" y="379.44" width="5.60" height="5.51" fill="#8c0040"/>
<rect x="255.85" y="379.44" width="5.60" height="5.51" fill="#8c0040"/>
<rect x="262.55" y="379.44" width="5.60" height="5.51" fill="#8c0040"/>
<line x1="241.90" y1="127.60" x2="241.90" y2="385.50" stroke="#000" stroke-width="1.4"/>
<rect x="215.10" y="127.60" width="53.60" height="257.90" fill="none" stroke="#111" stroke-width="0.9"/>
<line x1="212.30" y1="130.91" x2="215.10" y2="130.91" stroke="#000" stroke-width="0.8"/>
<text x="211.40" y="132.31" font-size="4.2" font-weight="bold" text-anchor="end" fill="#000" stroke="#000" stroke-width="0.12">Eotaxin</text>
<line x1="212.30" y1="137.52" x2="215.10" y2="137.52" stroke="#000" stroke-width="0.8"/>
<text x="211.40" y="138.92" font-size="4.2" font-weight="bold" text-anchor="end" fill="#000" stroke="#000" stroke-width="0.12">G-CSF</text>
<line x1="212.30" y1="144.13" x2="215.10" y2="144.13" stroke="#000" stroke-width="0.8"/>
<text x="211.40" y="145.53" font-size="4.2" font-weight="bold" text-anchor="end" fill="#000" stroke="#000" stroke-width="0.12">GM-CSF</text>
<line x1="212.30" y1="150.74" x2="215.10" y2="150.74" stroke="#000" stroke-width="0.8"/>
<text x="211.40" y="152.14" font-size="4.2" font-weight="bold" text-anchor="end" fill="#000" stroke="#000" stroke-width="0.12">IFNγ</text>
<line x1="212.30" y1="157.36" x2="215.10" y2="157.36" stroke="#000" stroke-width="0.8"/>
<text x="211.40" y="158.76" font-size="4.2" font-weight="bold" text-anchor="end" fill="#000" stroke="#000" stroke-width="0.12">IL-1α</text>
<line x1="212.30" y1="163.97" x2="215.10" y2="163.97" stroke="#000" stroke-width="0.8"/>
<text x="211.40" y="165.37" font-size="4.2" font-weight="bold" text-anchor="end" fill="#000" stroke="#000" stroke-width="0.12">IL-1β</text>
<line x1="212.30" y1="170.58" x2="215.10" y2="170.58" stroke="#000" stroke-width="0.8"/>
<text x="211.40" y="171.98" font-size="4.2" font-weight="bold" text-anchor="end" fill="#000" stroke="#000" stroke-width="0.12">IL-2</text>
<line x1="212.30" y1="177.20" x2="215.10" y2="177.20" stroke="#000" stroke-width="0.8"/>
<text x="211.40" y="178.60" font-size="4.2" font-weight="bold" text-anchor="end" fill="#000" stroke="#000" stroke-width="0.12">IL-3</text>
<line x1="212.30" y1="183.81" x2="215.10" y2="183.81" stroke="#000" stroke-width="0.8"/>
<text x="211.40" y="185.21" font-size="4.2" font-weight="bold" text-anchor="end" fill="#000" stroke="#000" stroke-width="0.12">IL-4</text>
<line x1="212.30" y1="190.42" x2="215.10" y2="190.42" stroke="#000" stroke-width="0.8"/>
<text x="211.40" y="191.82" font-size="4.2" font-weight="bold" text-anchor="end" fill="#000" stroke="#000" stroke-width="0.12">IL-5</text>
<line x1="212.30" y1="197.03" x2="215.10" y2="197.03" stroke="#000" stroke-width="0.8"/>
<text x="211.40" y="198.43" font-size="4.2" font-weight="bold" text-anchor="end" fill="#000" stroke="#000" stroke-width="0.12">IL-6</text>
<line x1="212.30" y1="203.65" x2="215.10" y2="203.65" stroke="#000" stroke-width="0.8"/>
<text x="211.40" y="205.05" font-size="4.2" font-weight="bold" text-anchor="end" fill="#000" stroke="#000" stroke-width="0.12">IL-7</text>
<line x1="212.30" y1="210.26" x2="215.10" y2="210.26" stroke="#000" stroke-width="0.8"/>
<text x="211.40" y="211.66" font-size="4.2" font-weight="bold" text-anchor="end" fill="#000" stroke="#000" stroke-width="0.12">IL-9</text>
<line x1="212.30" y1="216.87" x2="215.10" y2="216.87" stroke="#000" stroke-width="0.8"/>
<text x="211.40" y="218.27" font-size="4.2" font-weight="bold" text-anchor="end" fill="#000" stroke="#000" stroke-width="0.12">IL-10</text>
<line x1="212.30" y1="223.49" x2="215.10" y2="223.49" stroke="#000" stroke-width="0.8"/>
<text x="211.40" y="224.89" font-size="4.2" font-weight="bold" text-anchor="end" fill="#000" stroke="#000" stroke-width="0.12">IL-12p40</text>
<line x1="212.30" y1="230.10" x2="215.10" y2="230.10" stroke="#000" stroke-width="0.8"/>
<text x="211.40" y="231.50" font-size="4.2" font-weight="bold" text-anchor="end" fill="#000" stroke="#000" stroke-width="0.12">IL-15</text>
<line x1="212.30" y1="236.71" x2="215.10" y2="236.71" stroke="#000" stroke-width="0.8"/>
<text x="211.40" y="238.11" font-size="4.2" font-weight="bold" text-anchor="end" fill="#000" stroke="#000" stroke-width="0.12">IL-17</text>
<line x1="212.30" y1="243.32" x2="215.10" y2="243.32" stroke="#000" stroke-width="0.8"/>
<text x="211.40" y="244.72" font-size="4.2" font-weight="bold" text-anchor="end" fill="#000" stroke="#000" stroke-width="0.12">IP-10</text>
<line x1="212.30" y1="249.94" x2="215.10" y2="249.94" stroke="#000" stroke-width="0.8"/>
<text x="211.40" y="251.34" font-size="4.2" font-weight="bold" text-anchor="end" fill="#000" stroke="#000" stroke-width="0.12">KC</text>
<line x1="212.30" y1="256.55" x2="215.10" y2="256.55" stroke="#000" stroke-width="0.8"/>
<text x="211.40" y="257.95" font-size="4.2" font-weight="bold" text-anchor="end" fill="#000" stroke="#000" stroke-width="0.12">LIF</text>
<line x1="212.30" y1="263.16" x2="215.10" y2="263.16" stroke="#000" stroke-width="0.8"/>
<text x="211.40" y="264.56" font-size="4.2" font-weight="bold" text-anchor="end" fill="#000" stroke="#000" stroke-width="0.12">LIX</text>
<line x1="212.30" y1="269.78" x2="215.10" y2="269.78" stroke="#000" stroke-width="0.8"/>
<text x="211.40" y="271.18" font-size="4.2" font-weight="bold" text-anchor="end" fill="#000" stroke="#000" stroke-width="0.12">M-CSF</text>
<line x1="212.30" y1="276.39" x2="215.10" y2="276.39" stroke="#000" stroke-width="0.8"/>
<text x="211.40" y="277.79" font-size="4.2" font-weight="bold" text-anchor="end" fill="#000" stroke="#000" stroke-width="0.12">MCP-1</text>
<line x1="212.30" y1="283.00" x2="215.10" y2="283.00" stroke="#000" stroke-width="0.8"/>
<text x="211.40" y="284.40" font-size="4.2" font-weight="bold" text-anchor="end" fill="#000" stroke="#000" stroke-width="0.12">MIG</text>
<line x1="212.30" y1="289.61" x2="215.10" y2="289.61" stroke="#000" stroke-width="0.8"/>
<text x="211.40" y="291.01" font-size="4.2" font-weight="bold" text-anchor="end" fill="#000" stroke="#000" stroke-width="0.12">MIP-1α</text>
<line x1="212.30" y1="296.23" x2="215.10" y2="296.23" stroke="#000" stroke-width="0.8"/>
<text x="211.40" y="297.63" font-size="4.2" font-weight="bold" text-anchor="end" fill="#000" stroke="#000" stroke-width="0.12">MIP-1β</text>
<line x1="212.30" y1="302.84" x2="215.10" y2="302.84" stroke="#000" stroke-width="0.8"/>
<text x="211.40" y="304.24" font-size="4.2" font-weight="bold" text-anchor="end" fill="#000" stroke="#000" stroke-width="0.12">MIP-2</text>
<line x1="212.30" y1="309.45" x2="215.10" y2="309.45" stroke="#000" stroke-width="0.8"/>
<text x="211.40" y="310.85" font-size="4.2" font-weight="bold" text-anchor="end" fill="#000" stroke="#000" stroke-width="0.12">RANTES</text>
<line x1="212.30" y1="316.07" x2="215.10" y2="316.07" stroke="#000" stroke-width="0.8"/>
<text x="211.40" y="317.47" font-size="4.2" font-weight="bold" text-anchor="end" fill="#000" stroke="#000" stroke-width="0.12">TNFα</text>
<line x1="212.30" y1="322.68" x2="215.10" y2="322.68" stroke="#000" stroke-width="0.8"/>
<text x="211.40" y="324.08" font-size="4.2" font-weight="bold" text-anchor="end" fill="#000" stroke="#000" stroke-width="0.12">VEGF</text>
<line x1="212.30" y1="329.29" x2="215.10" y2="329.29" stroke="#000" stroke-width="0.8"/>
<text x="211.40" y="330.69" font-size="4.2" font-weight="bold" text-anchor="end" fill="#000" stroke="#000" stroke-width="0.12">6Ckine/Exodus 2</text>
<line x1="212.30" y1="335.90" x2="215.10" y2="335.90" stroke="#000" stroke-width="0.8"/>
<text x="211.40" y="337.30" font-size="4.2" font-weight="bold" text-anchor="end" fill="#000" stroke="#000" stroke-width="0.12">Fractalkine</text>
<line x1="212.30" y1="342.52" x2="215.10" y2="342.52" stroke="#000" stroke-width="0.8"/>
<text x="211.40" y="343.92" font-size="4.2" font-weight="bold" text-anchor="end" fill="#000" stroke="#000" stroke-width="0.12">IFNB-1</text>
<line x1="212.30" y1="349.13" x2="215.10" y2="349.13" stroke="#000" stroke-width="0.8"/>
<text x="211.40" y="350.53" font-size="4.2" font-weight="bold" text-anchor="end" fill="#000" stroke="#000" stroke-width="0.12">IL-11</text>
<line x1="212.30" y1="355.74" x2="215.10" y2="355.74" stroke="#000" stroke-width="0.8"/>
<text x="211.40" y="357.14" font-size="4.2" font-weight="bold" text-anchor="end" fill="#000" stroke="#000" stroke-width="0.12">MCP-5</text>
<line x1="212.30" y1="362.36" x2="215.10" y2="362.36" stroke="#000" stroke-width="0.8"/>
<text x="211.40" y="363.76" font-size="4.2" font-weight="bold" text-anchor="end" fill="#000" stroke="#000" stroke-width="0.12">MDC</text>
<line x1="212.30" y1="368.97" x2="215.10" y2="368.97" stroke="#000" stroke-width="0.8"/>
<text x="211.40" y="370.37" font-size="4.2" font-weight="bold" text-anchor="end" fill="#000" stroke="#000" stroke-width="0.12">MIP-3β</text>
<line x1="212.30" y1="375.58" x2="215.10" y2="375.58" stroke="#000" stroke-width="0.8"/>
<text x="211.40" y="376.98" font-size="4.2" font-weight="bold" text-anchor="end" fill="#000" stroke="#000" stroke-width="0.12">TARC</text>
<line x1="212.30" y1="382.19" x2="215.10" y2="382.19" stroke="#000" stroke-width="0.8"/>
<text x="211.40" y="383.59" font-size="4.2" font-weight="bold" text-anchor="end" fill="#000" stroke="#000" stroke-width="0.12">TIMP-1</text>
<rect x="141.10" y="128.40" width="6.70" height="86.10" fill="#ffffff"/>
<rect x="141.10" y="214.50" width="6.70" height="42.80" fill="#f67ad8"/>
<rect x="141.10" y="257.30" width="6.70" height="42.10" fill="#8c0040"/>
<rect x="141.10" y="299.40" width="6.70" height="42.60" fill="#8a0094"/>
<rect x="141.10" y="342.00" width="6.70" height="43.50" fill="#050005"/>
<rect x="141.10" y="128.40" width="6.70" height="257.10" fill="none" stroke="#111" stroke-width="0.9"/>
<line x1="141.10" y1="192.50" x2="142.70" y2="192.50" stroke="#222" stroke-width="0.6"/>
<line x1="146.20" y1="192.50" x2="147.80" y2="192.50" stroke="#222" stroke-width="0.6"/>
<text x="150.20" y="194.50" font-size="4.5" font-weight="normal" text-anchor="start" fill="#333">0 - 1.00</text>
<line x1="141.10" y1="235.30" x2="142.70" y2="235.30" stroke="#222" stroke-width="0.6"/>
<line x1="146.20" y1="235.30" x2="147.80" y2="235.30" stroke="#222" stroke-width="0.6"/>
<text x="150.20" y="237.30" font-size="4.5" font-weight="normal" text-anchor="start" fill="#333">1.10 - 2.40</text>
<line x1="141.10" y1="278.00" x2="142.70" y2="278.00" stroke="#222" stroke-width="0.6"/>
<line x1="146.20" y1="278.00" x2="147.80" y2="278.00" stroke="#222" stroke-width="0.6"/>
<text x="150.20" y="280.00" font-size="4.5" font-weight="normal" text-anchor="start" fill="#333">2.41 - 3.36</text>
<line x1="141.10" y1="321.00" x2="142.70" y2="321.00" stroke="#222" stroke-width="0.6"/>
<line x1="146.20" y1="321.00" x2="147.80" y2="321.00" stroke="#222" stroke-width="0.6"/>
<text x="150.20" y="323.00" font-size="4.5" font-weight="normal" text-anchor="start" fill="#333">3.37 - 4.08</text>
<line x1="141.10" y1="364.00" x2="142.70" y2="364.00" stroke="#222" stroke-width="0.6"/>
<line x1="146.20" y1="364.00" x2="147.80" y2="364.00" stroke="#222" stroke-width="0.6"/>
<text x="150.20" y="366.00" font-size="4.5" font-weight="normal" text-anchor="start" fill="#333">4.09 - 5.00</text>
<line x1="141.10" y1="150.00" x2="142.70" y2="150.00" stroke="#222" stroke-width="0.6"/>
<line x1="146.20" y1="150.00" x2="147.80" y2="150.00" stroke="#222" stroke-width="0.6"/>
<line x1="141.60" y1="171.30" x2="147.30" y2="171.30" stroke="#d8d8d8" stroke-width="0.5"/>
<rect x="275.70" y="127.60" width="7.30" height="85.90" fill="#ffffff"/>
<rect x="275.70" y="213.50" width="7.30" height="42.50" fill="#f67ad8"/>
<rect x="275.70" y="256.00" width="7.30" height="43.00" fill="#8c0040"/>
<rect x="275.70" y="299.00" width="7.30" height="43.50" fill="#8a0094"/>
<rect x="275.70" y="342.50" width="7.30" height="43.00" fill="#050005"/>
<rect x="275.70" y="127.60" width="7.30" height="257.90" fill="none" stroke="#111" stroke-width="0.9"/>
<line x1="275.70" y1="192.50" x2="277.30" y2="192.50" stroke="#222" stroke-width="0.6"/>
<line x1="281.40" y1="192.50" x2="283.00" y2="192.50" stroke="#222" stroke-width="0.6"/>
<text x="285.40" y="194.50" font-size="4.5" font-weight="normal" text-anchor="start" fill="#333">0 - 1.00</text>
<line x1="275.70" y1="235.30" x2="277.30" y2="235.30" stroke="#222" stroke-width="0.6"/>
<line x1="281.40" y1="235.30" x2="283.00" y2="235.30" stroke="#222" stroke-width="0.6"/>
<text x="285.40" y="237.30" font-size="4.5" font-weight="normal" text-anchor="start" fill="#333">1.10 - 2.40</text>
<line x1="275.70" y1="278.00" x2="277.30" y2="278.00" stroke="#222" stroke-width="0.6"/>
<line x1="281.40" y1="278.00" x2="283.00" y2="278.00" stroke="#222" stroke-width="0.6"/>
<text x="285.40" y="280.00" font-size="4.5" font-weight="normal" text-anchor="start" fill="#333">2.41 - 3.36</text>
<line x1="275.70" y1="321.00" x2="277.30" y2="321.00" stroke="#222" stroke-width="0.6"/>
<line x1="281.40" y1="321.00" x2="283.00" y2="321.00" stroke="#222" stroke-width="0.6"/>
<text x="285.40" y="323.00" font-size="4.5" font-weight="normal" text-anchor="start" fill="#333">3.37 - 4.08</text>
<line x1="275.70" y1="364.00" x2="277.30" y2="364.00" stroke="#222" stroke-width="0.6"/>
<line x1="281.40" y1="364.00" x2="283.00" y2="364.00" stroke="#222" stroke-width="0.6"/>
<text x="285.40" y="366.00" font-size="4.5" font-weight="normal" text-anchor="start" fill="#333">4.09 - 5.00</text>
<line x1="275.70" y1="150.00" x2="277.30" y2="150.00" stroke="#222" stroke-width="0.6"/>
<line x1="281.40" y1="150.00" x2="283.00" y2="150.00" stroke="#222" stroke-width="0.6"/>
<line x1="276.20" y1="171.30" x2="282.50" y2="171.30" stroke="#d8d8d8" stroke-width="0.5"/>
<line x1="45.10" y1="388.60" x2="75.00" y2="388.60" stroke="#333" stroke-width="1.0"/>
<line x1="76.20" y1="388.60" x2="105.70" y2="388.60" stroke="#333" stroke-width="1.0"/>
<line x1="106.90" y1="388.60" x2="136.60" y2="388.60" stroke="#333" stroke-width="1.0"/>
<text x="60.20" y="399.00" font-size="9" font-weight="bold" text-anchor="middle" fill="#000">WT</text>
<text x="89.60" y="399.00" font-size="9" font-weight="bold" text-anchor="middle" fill="#000">Δ<tspan font-style="italic">cna</tspan></text>
<text x="106.90" y="399.00" font-size="9" font-weight="bold" text-anchor="start" fill="#000">comp <tspan font-style="italic">cna</tspan></text>
<line x1="215.00" y1="389.20" x2="242.30" y2="389.20" stroke="#333" stroke-width="1.0"/>
<line x1="243.50" y1="389.20" x2="268.60" y2="389.20" stroke="#333" stroke-width="1.0"/>
<text x="229.80" y="396.50" font-size="5.9" font-weight="bold" text-anchor="middle" fill="#000">USA300</text>
<text x="262.30" y="396.50" font-size="5.9" font-weight="bold" text-anchor="middle" fill="#000">USA300:pcna</text>
<line x1="597.60" y1="18.20" x2="597.60" y2="88.20" stroke="#222" stroke-width="0.8"/>
<line x1="596.00" y1="88.20" x2="597.60" y2="88.20" stroke="#222" stroke-width="0.7"/>
<text x="595.30" y="89.35" font-size="3.3" font-weight="bold" text-anchor="end" fill="#333">0</text>
<line x1="596.00" y1="74.20" x2="597.60" y2="74.20" stroke="#222" stroke-width="0.7"/>
<text x="595.30" y="75.35" font-size="3.3" font-weight="bold" text-anchor="end" fill="#333">20</text>
<line x1="596.00" y1="60.20" x2="597.60" y2="60.20" stroke="#222" stroke-width="0.7"/>
<text x="595.30" y="61.35" font-size="3.3" font-weight="bold" text-anchor="end" fill="#333">40</text>
<line x1="596.00" y1="46.20" x2="597.60" y2="46.20" stroke="#222" stroke-width="0.7"/>
<text x="595.30" y="47.35" font-size="3.3" font-weight="bold" text-anchor="end" fill="#333">60</text>
<line x1="596.00" y1="32.20" x2="597.60" y2="32.20" stroke="#222" stroke-width="0.7"/>
<text x="595.30" y="33.35" font-size="3.3" font-weight="bold" text-anchor="end" fill="#333">80</text>
<line x1="596.00" y1="18.20" x2="597.60" y2="18.20" stroke="#222" stroke-width="0.7"/>
<text x="595.30" y="19.35" font-size="3.3" font-weight="bold" text-anchor="end" fill="#333">100</text>
<rect x="603.65" y="74.90" width="10.70" height="13.30" fill="#86860a" stroke="#111" stroke-width="0.8"/>
<rect x="620.25" y="49.00" width="10.70" height="39.20" fill="#4f4f51" stroke="#111" stroke-width="0.8"/>
<rect x="636.45" y="43.40" width="10.70" height="44.80" fill="#f50000" stroke="#111" stroke-width="0.8"/>
<rect x="652.95" y="53.20" width="10.70" height="35.00" fill="#6cc8f6" stroke="#111" stroke-width="0.8"/>
<line x1="609.00" y1="73.15" x2="609.00" y2="76.65" stroke="#222" stroke-width="0.6"/>
<line x1="606.80" y1="73.15" x2="611.20" y2="73.15" stroke="#222" stroke-width="0.6"/>
<line x1="606.80" y1="76.65" x2="611.20" y2="76.65" stroke="#222" stroke-width="0.6"/>
<circle cx="605.50" cy="73.15" r="1.55" fill="#9a9a14" stroke="#222" stroke-width="0.5"/>
<circle cx="607.80" cy="73.15" r="1.55" fill="#9a9a14" stroke="#222" stroke-width="0.5"/>
<circle cx="610.20" cy="73.15" r="1.55" fill="#9a9a14" stroke="#222" stroke-width="0.5"/>
<circle cx="612.50" cy="73.15" r="1.55" fill="#9a9a14" stroke="#222" stroke-width="0.5"/>
<circle cx="608.00" cy="76.30" r="1.55" fill="none" stroke="#222" stroke-width="0.5"/>
<circle cx="610.50" cy="75.60" r="1.55" fill="none" stroke="#222" stroke-width="0.5"/>
<line x1="625.60" y1="33.60" x2="625.60" y2="64.40" stroke="#222" stroke-width="0.6"/>
<line x1="623.40" y1="33.60" x2="627.80" y2="33.60" stroke="#222" stroke-width="0.6"/>
<line x1="623.40" y1="64.40" x2="627.80" y2="64.40" stroke="#222" stroke-width="0.6"/>
<circle cx="625.60" cy="31.29" r="1.55" fill="#3a3a3a" stroke="#222" stroke-width="0.5"/>
<circle cx="625.60" cy="37.17" r="1.55" fill="#3a3a3a" stroke="#222" stroke-width="0.5"/>
<circle cx="621.00" cy="41.09" r="1.55" fill="#3a3a3a" stroke="#222" stroke-width="0.5"/>
<circle cx="630.00" cy="43.40" r="1.55" fill="#3a3a3a" stroke="#222" stroke-width="0.5"/>
<circle cx="625.60" cy="47.60" r="1.55" fill="#3a3a3a" stroke="#222" stroke-width="0.5"/>
<circle cx="625.60" cy="67.20" r="1.55" fill="none" stroke="#222" stroke-width="0.5"/>
<circle cx="625.60" cy="70.70" r="1.55" fill="none" stroke="#222" stroke-width="0.5"/>
<line x1="641.80" y1="35.00" x2="641.80" y2="51.80" stroke="#222" stroke-width="0.6"/>
<line x1="639.60" y1="35.00" x2="644.00" y2="35.00" stroke="#222" stroke-width="0.6"/>
<line x1="639.60" y1="51.80" x2="644.00" y2="51.80" stroke="#222" stroke-width="0.6"/>
<circle cx="637.30" cy="33.04" r="1.55" fill="#d0102a" stroke="#222" stroke-width="0.5"/>
<circle cx="637.30" cy="36.47" r="1.55" fill="#d0102a" stroke="#222" stroke-width="0.5"/>
<circle cx="646.00" cy="35.49" r="1.55" fill="#d0102a" stroke="#222" stroke-width="0.5"/>
<circle cx="638.00" cy="45.78" r="1.55" fill="#d0102a" stroke="#222" stroke-width="0.5"/>
<circle cx="641.80" cy="45.78" r="1.55" fill="#d0102a" stroke="#222" stroke-width="0.5"/>
<circle cx="645.60" cy="45.78" r="1.55" fill="#d0102a" stroke="#222" stroke-width="0.5"/>
<circle cx="641.80" cy="49.00" r="1.55" fill="none" stroke="#222" stroke-width="0.5"/>
<circle cx="641.80" cy="53.20" r="1.55" fill="none" stroke="#222" stroke-width="0.5"/>
<line x1="658.30" y1="39.20" x2="658.30" y2="67.20" stroke="#222" stroke-width="0.6"/>
<line x1="656.10" y1="39.20" x2="660.50" y2="39.20" stroke="#222" stroke-width="0.6"/>
<line x1="656.10" y1="67.20" x2="660.50" y2="67.20" stroke="#222" stroke-width="0.6"/>
<circle cx="658.30" cy="38.29" r="1.55" fill="#8fd4f2" stroke="#222" stroke-width="0.5"/>
<circle cx="658.30" cy="43.40" r="1.55" fill="#8fd4f2" stroke="#222" stroke-width="0.5"/>
<circle cx="654.10" cy="49.42" r="1.55" fill="#8fd4f2" stroke="#222" stroke-width="0.5"/>
<circle cx="662.50" cy="49.42" r="1.55" fill="#8fd4f2" stroke="#222" stroke-width="0.5"/>
<circle cx="658.30" cy="62.79" r="1.55" fill="none" stroke="#222" stroke-width="0.5"/>
<circle cx="658.30" cy="74.27" r="1.55" fill="none" stroke="#222" stroke-width="0.5"/>
<line x1="597.60" y1="88.20" x2="668.60" y2="88.20" stroke="#222" stroke-width="0.8"/>
<line x1="609.00" y1="88.20" x2="609.00" y2="89.80" stroke="#222" stroke-width="0.7"/>
<line x1="625.60" y1="88.20" x2="625.60" y2="89.80" stroke="#222" stroke-width="0.7"/>
<line x1="641.80" y1="88.20" x2="641.80" y2="89.80" stroke="#222" stroke-width="0.7"/>
<line x1="658.30" y1="88.20" x2="658.30" y2="89.80" stroke="#222" stroke-width="0.7"/>
<text x="612.20" y="91.20" font-size="9" font-weight="bold" text-anchor="end" fill="#000" transform="rotate(-90 612.2 91.2)">Saline</text>
<text x="628.80" y="91.20" font-size="9" font-weight="bold" text-anchor="end" fill="#000" transform="rotate(-90 628.8000000000001 91.2)">WT</text>
<text x="645.00" y="91.20" font-size="9" font-weight="bold" text-anchor="end" fill="#000" transform="rotate(-90 645.0 91.2)">Δ<tspan font-style="italic">cna</tspan></text>
<text x="661.50" y="91.20" font-size="9" font-weight="bold" text-anchor="end" fill="#000" transform="rotate(-90 661.5 91.2)">comp <tspan font-style="italic">cna</tspan></text>
<text x="637.00" y="21.30" font-size="11" font-weight="bold" text-anchor="middle" fill="#000">CD45+</text>
<text x="583.00" y="56.50" font-size="9.3" font-weight="bold" text-anchor="middle" fill="#000" transform="rotate(-90 583.0 56.5)">% Single cells</text>
<text x="676.00" y="66.40" font-size="11.4" font-weight="bold" text-anchor="middle" fill="#000" transform="rotate(90 676.0 66.4)">Total</text>
<line x1="347.40" y1="161.38" x2="347.40" y2="232.34" stroke="#222" stroke-width="0.8"/>
<line x1="345.80" y1="232.34" x2="347.40" y2="232.34" stroke="#222" stroke-width="0.7"/>
<text x="345.10" y="233.49" font-size="3.3" font-weight="bold" text-anchor="end" fill="#333">-20</text>
<line x1="345.80" y1="214.60" x2="347.40" y2="214.60" stroke="#222" stroke-width="0.7"/>
<text x="345.10" y="215.75" font-size="3.3" font-weight="bold" text-anchor="end" fill="#333">0</text>
<line x1="345.80" y1="196.86" x2="347.40" y2="196.86" stroke="#222" stroke-width="0.7"/>
<text x="345.10" y="198.01" font-size="3.3" font-weight="bold" text-anchor="end" fill="#333">20</text>
<line x1="345.80" y1="179.12" x2="347.40" y2="179.12" stroke="#222" stroke-width="0.7"/>
<text x="345.10" y="180.27" font-size="3.3" font-weight="bold" text-anchor="end" fill="#333">40</text>
<line x1="345.80" y1="161.38" x2="347.40" y2="161.38" stroke="#222" stroke-width="0.7"/>
<text x="345.10" y="162.53" font-size="3.3" font-weight="bold" text-anchor="end" fill="#333">60</text>
<rect x="353.25" y="205.73" width="10.70" height="8.87" fill="#86860a" stroke="#111" stroke-width="0.8"/>
<rect x="370.15" y="190.65" width="10.70" height="23.95" fill="#4f4f51" stroke="#111" stroke-width="0.8"/>
<rect x="386.65" y="208.39" width="10.70" height="6.21" fill="#f50000" stroke="#111" stroke-width="0.8"/>
<rect x="403.25" y="184.00" width="10.70" height="30.60" fill="#6cc8f6" stroke="#111" stroke-width="0.8"/>
<line x1="358.60" y1="203.07" x2="358.60" y2="208.39" stroke="#222" stroke-width="0.6"/>
<line x1="356.40" y1="203.07" x2="360.80" y2="203.07" stroke="#222" stroke-width="0.6"/>
<line x1="356.40" y1="208.39" x2="360.80" y2="208.39" stroke="#222" stroke-width="0.6"/>
<circle cx="358.60" cy="201.29" r="1.55" fill="#9a9a14" stroke="#222" stroke-width="0.5"/>
<circle cx="355.60" cy="203.96" r="1.55" fill="#9a9a14" stroke="#222" stroke-width="0.5"/>
<circle cx="361.60" cy="203.96" r="1.55" fill="#9a9a14" stroke="#222" stroke-width="0.5"/>
<circle cx="356.60" cy="206.62" r="1.55" fill="#9a9a14" stroke="#222" stroke-width="0.5"/>
<circle cx="360.60" cy="206.62" r="1.55" fill="#9a9a14" stroke="#222" stroke-width="0.5"/>
<line x1="375.50" y1="172.91" x2="375.50" y2="208.39" stroke="#222" stroke-width="0.6"/>
<line x1="373.30" y1="172.91" x2="377.70" y2="172.91" stroke="#222" stroke-width="0.6"/>
<line x1="373.30" y1="208.39" x2="377.70" y2="208.39" stroke="#222" stroke-width="0.6"/>
<circle cx="375.50" cy="164.93" r="1.55" fill="#3a3a3a" stroke="#222" stroke-width="0.5"/>
<circle cx="371.50" cy="177.35" r="1.55" fill="#3a3a3a" stroke="#222" stroke-width="0.5"/>
<circle cx="379.50" cy="178.23" r="1.55" fill="#3a3a3a" stroke="#222" stroke-width="0.5"/>
<circle cx="375.50" cy="188.88" r="1.55" fill="#3a3a3a" stroke="#222" stroke-width="0.5"/>
<circle cx="375.50" cy="205.73" r="1.55" fill="none" stroke="#222" stroke-width="0.5"/>
<circle cx="373.50" cy="209.28" r="1.55" fill="none" stroke="#222" stroke-width="0.5"/>
<line x1="392.00" y1="199.52" x2="392.00" y2="217.26" stroke="#222" stroke-width="0.6"/>
<line x1="389.80" y1="199.52" x2="394.20" y2="199.52" stroke="#222" stroke-width="0.6"/>
<line x1="389.80" y1="217.26" x2="394.20" y2="217.26" stroke="#222" stroke-width="0.6"/>
<circle cx="390.00" cy="187.99" r="1.55" fill="#d0102a" stroke="#222" stroke-width="0.5"/>
<circle cx="392.00" cy="207.50" r="1.55" fill="#d0102a" stroke="#222" stroke-width="0.5"/>
<circle cx="389.00" cy="211.94" r="1.55" fill="#d0102a" stroke="#222" stroke-width="0.5"/>
<circle cx="395.00" cy="211.94" r="1.55" fill="#d0102a" stroke="#222" stroke-width="0.5"/>
<circle cx="392.00" cy="213.71" r="1.55" fill="#d0102a" stroke="#222" stroke-width="0.5"/>
<line x1="408.60" y1="171.58" x2="408.60" y2="196.42" stroke="#222" stroke-width="0.6"/>
<line x1="406.40" y1="171.58" x2="410.80" y2="171.58" stroke="#222" stroke-width="0.6"/>
<line x1="406.40" y1="196.42" x2="410.80" y2="196.42" stroke="#222" stroke-width="0.6"/>
<circle cx="404.60" cy="170.25" r="1.55" fill="#8fd4f2" stroke="#222" stroke-width="0.5"/>
<circle cx="412.60" cy="169.36" r="1.55" fill="#8fd4f2" stroke="#222" stroke-width="0.5"/>
<circle cx="408.60" cy="179.12" r="1.55" fill="#8fd4f2" stroke="#222" stroke-width="0.5"/>
<circle cx="408.60" cy="187.99" r="1.55" fill="none" stroke="#222" stroke-width="0.5"/>
<circle cx="408.60" cy="195.09" r="1.55" fill="none" stroke="#222" stroke-width="0.5"/>
<circle cx="408.60" cy="201.29" r="1.55" fill="none" stroke="#222" stroke-width="0.5"/>
<line x1="347.40" y1="214.60" x2="419.00" y2="214.60" stroke="#222" stroke-width="0.8"/>
<line x1="347.40" y1="232.34" x2="419.00" y2="232.34" stroke="#222" stroke-width="0.8"/>
<line x1="358.60" y1="232.34" x2="358.60" y2="233.94" stroke="#222" stroke-width="0.7"/>
<line x1="375.50" y1="232.34" x2="375.50" y2="233.94" stroke="#222" stroke-width="0.7"/>
<line x1="392.00" y1="232.34" x2="392.00" y2="233.94" stroke="#222" stroke-width="0.7"/>
<line x1="408.60" y1="232.34" x2="408.60" y2="233.94" stroke="#222" stroke-width="0.7"/>
<text x="361.80" y="237.20" font-size="9" font-weight="bold" text-anchor="end" fill="#000" transform="rotate(-90 361.8 237.2)">Saline</text>
<text x="378.70" y="237.20" font-size="9" font-weight="bold" text-anchor="end" fill="#000" transform="rotate(-90 378.7 237.2)">WT</text>
<text x="395.20" y="237.20" font-size="9" font-weight="bold" text-anchor="end" fill="#000" transform="rotate(-90 395.2 237.2)">Δ<tspan font-style="italic">cna</tspan></text>
<text x="411.80" y="237.20" font-size="9" font-weight="bold" text-anchor="end" fill="#000" transform="rotate(-90 411.8 237.2)">comp <tspan font-style="italic">cna</tspan></text>
<text x="377.20" y="150.20" font-size="11" font-weight="bold" text-anchor="middle" fill="#000">CD45+</text>
<text x="336.40" y="196.30" font-size="9.3" font-weight="bold" text-anchor="middle" fill="#000" transform="rotate(-90 336.4 196.3)">% Single cells</text>
<path d="M392.00 183.20V160.20H408.60V164.20" fill="none" stroke="#5a5a5a" stroke-width="0.55"/>
<text x="400.30" y="161.10" font-size="6.0" font-weight="bold" text-anchor="middle" fill="#111">*</text>
<text x="315.80" y="188.80" font-size="11" font-weight="bold" text-anchor="middle" fill="#000" transform="rotate(-90 315.8 188.8)">Live</text>
<line x1="475.50" y1="159.50" x2="475.50" y2="231.10" stroke="#222" stroke-width="0.8"/>
<line x1="473.90" y1="231.10" x2="475.50" y2="231.10" stroke="#222" stroke-width="0.7"/>
<text x="473.20" y="232.25" font-size="3.3" font-weight="bold" text-anchor="end" fill="#333">-20</text>
<line x1="473.90" y1="213.20" x2="475.50" y2="213.20" stroke="#222" stroke-width="0.7"/>
<text x="473.20" y="214.35" font-size="3.3" font-weight="bold" text-anchor="end" fill="#333">0</text>
<line x1="473.90" y1="195.30" x2="475.50" y2="195.30" stroke="#222" stroke-width="0.7"/>
<text x="473.20" y="196.45" font-size="3.3" font-weight="bold" text-anchor="end" fill="#333">20</text>
<line x1="473.90" y1="177.40" x2="475.50" y2="177.40" stroke="#222" stroke-width="0.7"/>
<text x="473.20" y="178.55" font-size="3.3" font-weight="bold" text-anchor="end" fill="#333">40</text>
<line x1="473.90" y1="159.50" x2="475.50" y2="159.50" stroke="#222" stroke-width="0.7"/>
<text x="473.20" y="160.65" font-size="3.3" font-weight="bold" text-anchor="end" fill="#333">60</text>
<rect x="481.85" y="212.30" width="10.70" height="0.90" fill="#86860a" stroke="#111" stroke-width="0.8"/>
<rect x="498.35" y="199.95" width="10.70" height="13.25" fill="#4f4f51" stroke="#111" stroke-width="0.8"/>
<rect x="515.15" y="211.41" width="10.70" height="1.79" fill="#f50000" stroke="#111" stroke-width="0.8"/>
<rect x="531.95" y="199.15" width="10.70" height="14.05" fill="#6cc8f6" stroke="#111" stroke-width="0.8"/>
<circle cx="484.20" cy="210.96" r="1.55" fill="#9a9a14" stroke="#222" stroke-width="0.5"/>
<circle cx="486.20" cy="212.30" r="1.55" fill="#9a9a14" stroke="#222" stroke-width="0.5"/>
<circle cx="488.20" cy="212.30" r="1.55" fill="#9a9a14" stroke="#222" stroke-width="0.5"/>
<circle cx="490.20" cy="212.30" r="1.55" fill="#9a9a14" stroke="#222" stroke-width="0.5"/>
<line x1="503.70" y1="183.84" x2="503.70" y2="216.06" stroke="#222" stroke-width="0.6"/>
<line x1="501.50" y1="183.84" x2="505.90" y2="183.84" stroke="#222" stroke-width="0.6"/>
<line x1="501.50" y1="216.06" x2="505.90" y2="216.06" stroke="#222" stroke-width="0.6"/>
<circle cx="503.70" cy="168.45" r="1.55" fill="#3a3a3a" stroke="#222" stroke-width="0.5"/>
<circle cx="503.70" cy="193.51" r="1.55" fill="#3a3a3a" stroke="#222" stroke-width="0.5"/>
<circle cx="503.70" cy="197.98" r="1.55" fill="#3a3a3a" stroke="#222" stroke-width="0.5"/>
<circle cx="503.70" cy="206.04" r="1.55" fill="none" stroke="#222" stroke-width="0.5"/>
<circle cx="503.70" cy="210.51" r="1.55" fill="none" stroke="#222" stroke-width="0.5"/>
<line x1="520.50" y1="206.04" x2="520.50" y2="216.78" stroke="#222" stroke-width="0.6"/>
<line x1="518.30" y1="206.04" x2="522.70" y2="206.04" stroke="#222" stroke-width="0.6"/>
<line x1="518.30" y1="216.78" x2="522.70" y2="216.78" stroke="#222" stroke-width="0.6"/>
<circle cx="520.50" cy="201.56" r="1.55" fill="#d0102a" stroke="#222" stroke-width="0.5"/>
<circle cx="517.50" cy="211.41" r="1.55" fill="#d0102a" stroke="#222" stroke-width="0.5"/>
<circle cx="520.50" cy="212.30" r="1.55" fill="#d0102a" stroke="#222" stroke-width="0.5"/>
<circle cx="523.50" cy="211.41" r="1.55" fill="#d0102a" stroke="#222" stroke-width="0.5"/>
<line x1="537.30" y1="186.62" x2="537.30" y2="211.68" stroke="#222" stroke-width="0.6"/>
<line x1="535.10" y1="186.62" x2="539.50" y2="186.62" stroke="#222" stroke-width="0.6"/>
<line x1="535.10" y1="211.68" x2="539.50" y2="211.68" stroke="#222" stroke-width="0.6"/>
<circle cx="533.30" cy="185.45" r="1.55" fill="#8fd4f2" stroke="#222" stroke-width="0.5"/>
<circle cx="541.30" cy="185.45" r="1.55" fill="#8fd4f2" stroke="#222" stroke-width="0.5"/>
<circle cx="537.30" cy="198.88" r="1.55" fill="none" stroke="#222" stroke-width="0.5"/>
<circle cx="537.30" cy="203.35" r="1.55" fill="none" stroke="#222" stroke-width="0.5"/>
<circle cx="537.30" cy="207.83" r="1.55" fill="none" stroke="#222" stroke-width="0.5"/>
<circle cx="537.30" cy="212.30" r="1.55" fill="none" stroke="#222" stroke-width="0.5"/>
<line x1="475.50" y1="213.20" x2="548.00" y2="213.20" stroke="#222" stroke-width="0.8"/>
<line x1="475.50" y1="231.10" x2="548.00" y2="231.10" stroke="#222" stroke-width="0.8"/>
<line x1="487.20" y1="231.10" x2="487.20" y2="232.70" stroke="#222" stroke-width="0.7"/>
<line x1="503.70" y1="231.10" x2="503.70" y2="232.70" stroke="#222" stroke-width="0.7"/>
<line x1="520.50" y1="231.10" x2="520.50" y2="232.70" stroke="#222" stroke-width="0.7"/>
<line x1="537.30" y1="231.10" x2="537.30" y2="232.70" stroke="#222" stroke-width="0.7"/>
<text x="490.40" y="236.50" font-size="9" font-weight="bold" text-anchor="end" fill="#000" transform="rotate(-90 490.4 236.5)">Saline</text>
<text x="506.90" y="236.50" font-size="9" font-weight="bold" text-anchor="end" fill="#000" transform="rotate(-90 506.9 236.5)">WT</text>
<text x="523.70" y="236.50" font-size="9" font-weight="bold" text-anchor="end" fill="#000" transform="rotate(-90 523.7 236.5)">Δ<tspan font-style="italic">cna</tspan></text>
<text x="540.50" y="236.50" font-size="9" font-weight="bold" text-anchor="end" fill="#000" transform="rotate(-90 540.5 236.5)">comp <tspan font-style="italic">cna</tspan></text>
<text x="506.30" y="148.60" font-size="11" font-weight="bold" text-anchor="middle" fill="#000">Neutrophils</text>
<line x1="602.50" y1="157.20" x2="602.50" y2="230.40" stroke="#222" stroke-width="0.8"/>
<line x1="600.90" y1="230.40" x2="602.50" y2="230.40" stroke="#222" stroke-width="0.7"/>
<text x="600.20" y="231.55" font-size="3.3" font-weight="bold" text-anchor="end" fill="#333">-5</text>
<line x1="600.90" y1="212.10" x2="602.50" y2="212.10" stroke="#222" stroke-width="0.7"/>
<text x="600.20" y="213.25" font-size="3.3" font-weight="bold" text-anchor="end" fill="#333">0</text>
<line x1="600.90" y1="193.80" x2="602.50" y2="193.80" stroke="#222" stroke-width="0.7"/>
<text x="600.20" y="194.95" font-size="3.3" font-weight="bold" text-anchor="end" fill="#333">5</text>
<line x1="600.90" y1="175.50" x2="602.50" y2="175.50" stroke="#222" stroke-width="0.7"/>
<text x="600.20" y="176.65" font-size="3.3" font-weight="bold" text-anchor="end" fill="#333">10</text>
<line x1="600.90" y1="157.20" x2="602.50" y2="157.20" stroke="#222" stroke-width="0.7"/>
<text x="600.20" y="158.35" font-size="3.3" font-weight="bold" text-anchor="end" fill="#333">15</text>
<rect x="608.55" y="209.17" width="10.90" height="2.93" fill="#86860a" stroke="#111" stroke-width="0.8"/>
<rect x="625.55" y="199.66" width="10.90" height="12.44" fill="#4f4f51" stroke="#111" stroke-width="0.8"/>
<rect x="642.75" y="208.22" width="10.90" height="3.88" fill="#f50000" stroke="#111" stroke-width="0.8"/>
<rect x="659.75" y="189.04" width="10.90" height="23.06" fill="#6cc8f6" stroke="#111" stroke-width="0.8"/>
<circle cx="611.00" cy="207.71" r="1.55" fill="#9a9a14" stroke="#222" stroke-width="0.5"/>
<circle cx="614.00" cy="209.54" r="1.55" fill="#9a9a14" stroke="#222" stroke-width="0.5"/>
<circle cx="617.00" cy="207.71" r="1.55" fill="#9a9a14" stroke="#222" stroke-width="0.5"/>
<circle cx="612.50" cy="210.27" r="1.55" fill="#9a9a14" stroke="#222" stroke-width="0.5"/>
<circle cx="615.50" cy="210.27" r="1.55" fill="#9a9a14" stroke="#222" stroke-width="0.5"/>
<line x1="631.00" y1="184.28" x2="631.00" y2="215.03" stroke="#222" stroke-width="0.6"/>
<line x1="628.80" y1="184.28" x2="633.20" y2="184.28" stroke="#222" stroke-width="0.6"/>
<line x1="628.80" y1="215.03" x2="633.20" y2="215.03" stroke="#222" stroke-width="0.6"/>
<circle cx="629.00" cy="178.06" r="1.55" fill="#3a3a3a" stroke="#222" stroke-width="0.5"/>
<circle cx="633.00" cy="176.96" r="1.55" fill="#3a3a3a" stroke="#222" stroke-width="0.5"/>
<circle cx="631.00" cy="204.78" r="1.55" fill="none" stroke="#222" stroke-width="0.5"/>
<circle cx="631.00" cy="208.44" r="1.55" fill="none" stroke="#222" stroke-width="0.5"/>
<line x1="648.20" y1="196.87" x2="648.20" y2="219.57" stroke="#222" stroke-width="0.6"/>
<line x1="646.00" y1="196.87" x2="650.40" y2="196.87" stroke="#222" stroke-width="0.6"/>
<line x1="646.00" y1="219.57" x2="650.40" y2="219.57" stroke="#222" stroke-width="0.6"/>
<circle cx="648.20" cy="183.55" r="1.55" fill="#d0102a" stroke="#222" stroke-width="0.5"/>
<circle cx="645.20" cy="210.27" r="1.55" fill="#d0102a" stroke="#222" stroke-width="0.5"/>
<circle cx="648.20" cy="211.00" r="1.55" fill="#d0102a" stroke="#222" stroke-width="0.5"/>
<circle cx="651.20" cy="210.27" r="1.55" fill="#d0102a" stroke="#222" stroke-width="0.5"/>
<line x1="665.20" y1="177.33" x2="665.20" y2="200.75" stroke="#222" stroke-width="0.6"/>
<line x1="663.00" y1="177.33" x2="667.40" y2="177.33" stroke="#222" stroke-width="0.6"/>
<line x1="663.00" y1="200.75" x2="667.40" y2="200.75" stroke="#222" stroke-width="0.6"/>
<circle cx="665.20" cy="171.11" r="1.55" fill="#8fd4f2" stroke="#222" stroke-width="0.5"/>
<circle cx="665.20" cy="183.19" r="1.55" fill="#8fd4f2" stroke="#222" stroke-width="0.5"/>
<circle cx="661.20" cy="189.41" r="1.55" fill="#8fd4f2" stroke="#222" stroke-width="0.5"/>
<circle cx="669.20" cy="187.21" r="1.55" fill="#8fd4f2" stroke="#222" stroke-width="0.5"/>
<circle cx="665.20" cy="195.26" r="1.55" fill="none" stroke="#222" stroke-width="0.5"/>
<circle cx="665.20" cy="204.78" r="1.55" fill="none" stroke="#222" stroke-width="0.5"/>
<line x1="602.50" y1="212.10" x2="676.50" y2="212.10" stroke="#222" stroke-width="0.8"/>
<line x1="602.50" y1="230.40" x2="676.50" y2="230.40" stroke="#222" stroke-width="0.8"/>
<line x1="614.00" y1="230.40" x2="614.00" y2="232.00" stroke="#222" stroke-width="0.7"/>
<line x1="631.00" y1="230.40" x2="631.00" y2="232.00" stroke="#222" stroke-width="0.7"/>
<line x1="648.20" y1="230.40" x2="648.20" y2="232.00" stroke="#222" stroke-width="0.7"/>
<line x1="665.20" y1="230.40" x2="665.20" y2="232.00" stroke="#222" stroke-width="0.7"/>
<text x="617.20" y="235.80" font-size="9" font-weight="bold" text-anchor="end" fill="#000" transform="rotate(-90 617.2 235.8)">Saline</text>
<text x="634.20" y="235.80" font-size="9" font-weight="bold" text-anchor="end" fill="#000" transform="rotate(-90 634.2 235.8)">WT</text>
<text x="651.40" y="235.80" font-size="9" font-weight="bold" text-anchor="end" fill="#000" transform="rotate(-90 651.4000000000001 235.8)">Δ<tspan font-style="italic">cna</tspan></text>
<text x="668.40" y="235.80" font-size="9" font-weight="bold" text-anchor="end" fill="#000" transform="rotate(-90 668.4000000000001 235.8)">comp <tspan font-style="italic">cna</tspan></text>
<text x="639.70" y="150.00" font-size="11" font-weight="bold" text-anchor="middle" fill="#000">Macrophages</text>
<path d="M647.90 181.10V166.10H665.40V168.30" fill="none" stroke="#5a5a5a" stroke-width="0.55"/>
<text x="656.65" y="167.00" font-size="6.0" font-weight="bold" text-anchor="middle" fill="#111">*</text>
<line x1="353.20" y1="290.40" x2="353.20" y2="363.40" stroke="#222" stroke-width="0.8"/>
<line x1="351.60" y1="363.40" x2="353.20" y2="363.40" stroke="#222" stroke-width="0.7"/>
<text x="350.90" y="364.55" font-size="3.3" font-weight="bold" text-anchor="end" fill="#333">0</text>
<line x1="351.60" y1="345.15" x2="353.20" y2="345.15" stroke="#222" stroke-width="0.7"/>
<text x="350.90" y="346.30" font-size="3.3" font-weight="bold" text-anchor="end" fill="#333">20</text>
<line x1="351.60" y1="326.90" x2="353.20" y2="326.90" stroke="#222" stroke-width="0.7"/>
<text x="350.90" y="328.05" font-size="3.3" font-weight="bold" text-anchor="end" fill="#333">40</text>
<line x1="351.60" y1="308.65" x2="353.20" y2="308.65" stroke="#222" stroke-width="0.7"/>
<text x="350.90" y="309.80" font-size="3.3" font-weight="bold" text-anchor="end" fill="#333">60</text>
<line x1="351.60" y1="290.40" x2="353.20" y2="290.40" stroke="#222" stroke-width="0.7"/>
<text x="350.90" y="291.55" font-size="3.3" font-weight="bold" text-anchor="end" fill="#333">80</text>
<rect x="359.30" y="355.19" width="10.40" height="8.21" fill="#86860a" stroke="#111" stroke-width="0.8"/>
<rect x="376.40" y="336.02" width="10.40" height="27.38" fill="#4f4f51" stroke="#111" stroke-width="0.8"/>
<rect x="393.20" y="310.47" width="10.40" height="52.93" fill="#f50000" stroke="#111" stroke-width="0.8"/>
<rect x="410.00" y="348.80" width="10.40" height="14.60" fill="#6cc8f6" stroke="#111" stroke-width="0.8"/>
<line x1="364.50" y1="352.45" x2="364.50" y2="357.92" stroke="#222" stroke-width="0.6"/>
<line x1="362.30" y1="352.45" x2="366.70" y2="352.45" stroke="#222" stroke-width="0.6"/>
<line x1="362.30" y1="357.92" x2="366.70" y2="357.92" stroke="#222" stroke-width="0.6"/>
<circle cx="361.50" cy="351.54" r="1.55" fill="#9a9a14" stroke="#222" stroke-width="0.5"/>
<circle cx="364.50" cy="353.36" r="1.55" fill="#9a9a14" stroke="#222" stroke-width="0.5"/>
<circle cx="367.50" cy="352.45" r="1.55" fill="#9a9a14" stroke="#222" stroke-width="0.5"/>
<circle cx="362.50" cy="357.01" r="1.55" fill="#9a9a14" stroke="#222" stroke-width="0.5"/>
<circle cx="366.50" cy="356.10" r="1.55" fill="#9a9a14" stroke="#222" stroke-width="0.5"/>
<line x1="381.60" y1="319.42" x2="381.60" y2="352.63" stroke="#222" stroke-width="0.6"/>
<line x1="379.40" y1="319.42" x2="383.80" y2="319.42" stroke="#222" stroke-width="0.6"/>
<line x1="379.40" y1="352.63" x2="383.80" y2="352.63" stroke="#222" stroke-width="0.6"/>
<circle cx="381.60" cy="310.02" r="1.55" fill="#3a3a3a" stroke="#222" stroke-width="0.5"/>
<circle cx="381.60" cy="315.49" r="1.55" fill="#3a3a3a" stroke="#222" stroke-width="0.5"/>
<circle cx="381.60" cy="345.15" r="1.55" fill="none" stroke="#222" stroke-width="0.5"/>
<circle cx="381.60" cy="350.62" r="1.55" fill="none" stroke="#222" stroke-width="0.5"/>
<line x1="398.40" y1="296.15" x2="398.40" y2="324.80" stroke="#222" stroke-width="0.6"/>
<line x1="396.20" y1="296.15" x2="400.60" y2="296.15" stroke="#222" stroke-width="0.6"/>
<line x1="396.20" y1="324.80" x2="400.60" y2="324.80" stroke="#222" stroke-width="0.6"/>
<circle cx="393.90" cy="296.06" r="1.55" fill="#d0102a" stroke="#222" stroke-width="0.5"/>
<circle cx="402.40" cy="297.24" r="1.55" fill="#d0102a" stroke="#222" stroke-width="0.5"/>
<circle cx="398.40" cy="303.54" r="1.55" fill="#d0102a" stroke="#222" stroke-width="0.5"/>
<circle cx="398.40" cy="309.01" r="1.55" fill="#d0102a" stroke="#222" stroke-width="0.5"/>
<circle cx="398.40" cy="313.21" r="1.55" fill="none" stroke="#222" stroke-width="0.5"/>
<circle cx="398.40" cy="317.77" r="1.55" fill="none" stroke="#222" stroke-width="0.5"/>
<circle cx="398.40" cy="335.39" r="1.55" fill="none" stroke="#222" stroke-width="0.5"/>
<line x1="415.20" y1="342.41" x2="415.20" y2="355.19" stroke="#222" stroke-width="0.6"/>
<line x1="413.00" y1="342.41" x2="417.40" y2="342.41" stroke="#222" stroke-width="0.6"/>
<line x1="413.00" y1="355.19" x2="417.40" y2="355.19" stroke="#222" stroke-width="0.6"/>
<circle cx="415.20" cy="340.59" r="1.55" fill="#8fd4f2" stroke="#222" stroke-width="0.5"/>
<circle cx="412.20" cy="346.97" r="1.55" fill="#8fd4f2" stroke="#222" stroke-width="0.5"/>
<circle cx="418.20" cy="346.97" r="1.55" fill="#8fd4f2" stroke="#222" stroke-width="0.5"/>
<circle cx="415.20" cy="352.45" r="1.55" fill="none" stroke="#222" stroke-width="0.5"/>
<circle cx="415.20" cy="357.92" r="1.55" fill="none" stroke="#222" stroke-width="0.5"/>
<line x1="353.20" y1="363.40" x2="425.60" y2="363.40" stroke="#222" stroke-width="0.8"/>
<line x1="364.50" y1="363.40" x2="364.50" y2="365.00" stroke="#222" stroke-width="0.7"/>
<line x1="381.60" y1="363.40" x2="381.60" y2="365.00" stroke="#222" stroke-width="0.7"/>
<line x1="398.40" y1="363.40" x2="398.40" y2="365.00" stroke="#222" stroke-width="0.7"/>
<line x1="415.20" y1="363.40" x2="415.20" y2="365.00" stroke="#222" stroke-width="0.7"/>
<text x="367.70" y="368.00" font-size="9" font-weight="bold" text-anchor="end" fill="#000" transform="rotate(-90 367.7 368.0)">Saline</text>
<text x="384.80" y="368.00" font-size="9" font-weight="bold" text-anchor="end" fill="#000" transform="rotate(-90 384.8 368.0)">WT</text>
<text x="401.60" y="368.00" font-size="9" font-weight="bold" text-anchor="end" fill="#000" transform="rotate(-90 401.59999999999997 368.0)">Δ<tspan font-style="italic">cna</tspan></text>
<text x="418.40" y="368.00" font-size="9" font-weight="bold" text-anchor="end" fill="#000" transform="rotate(-90 418.4 368.0)">comp <tspan font-style="italic">cna</tspan></text>
<text x="337.00" y="336.20" font-size="9.3" font-weight="bold" text-anchor="middle" fill="#000" transform="rotate(-90 337.0 336.2)">% Single cells</text>
<path d="M381.60 307.80V290.80H397.60V293.30" fill="none" stroke="#5a5a5a" stroke-width="0.55"/>
<text x="389.60" y="291.70" font-size="6.0" font-weight="bold" text-anchor="middle" fill="#111">**</text>
<path d="M399.20 293.30V290.80H415.20V340.80" fill="none" stroke="#5a5a5a" stroke-width="0.55"/>
<text x="407.20" y="291.70" font-size="6.0" font-weight="bold" text-anchor="middle" fill="#111">***</text>
<text x="318.00" y="327.90" font-size="11" font-weight="bold" text-anchor="middle" fill="#000" transform="rotate(-90 318.0 327.9)">Dead</text>
<line x1="476.40" y1="290.42" x2="476.40" y2="362.00" stroke="#222" stroke-width="0.8"/>
<line x1="474.80" y1="362.00" x2="476.40" y2="362.00" stroke="#222" stroke-width="0.7"/>
<text x="474.10" y="363.15" font-size="3.3" font-weight="bold" text-anchor="end" fill="#333">0</text>
<line x1="474.80" y1="338.14" x2="476.40" y2="338.14" stroke="#222" stroke-width="0.7"/>
<text x="474.10" y="339.29" font-size="3.3" font-weight="bold" text-anchor="end" fill="#333">20</text>
<line x1="474.80" y1="314.28" x2="476.40" y2="314.28" stroke="#222" stroke-width="0.7"/>
<text x="474.10" y="315.43" font-size="3.3" font-weight="bold" text-anchor="end" fill="#333">40</text>
<line x1="474.80" y1="290.42" x2="476.40" y2="290.42" stroke="#222" stroke-width="0.7"/>
<text x="474.10" y="291.57" font-size="3.3" font-weight="bold" text-anchor="end" fill="#333">60</text>
<rect x="481.55" y="360.81" width="10.90" height="1.19" fill="#86860a" stroke="#111" stroke-width="0.8"/>
<rect x="498.85" y="340.53" width="10.90" height="21.47" fill="#4f4f51" stroke="#111" stroke-width="0.8"/>
<rect x="515.65" y="316.67" width="10.90" height="45.33" fill="#f50000" stroke="#111" stroke-width="0.8"/>
<rect x="532.55" y="354.84" width="10.90" height="7.16" fill="#6cc8f6" stroke="#111" stroke-width="0.8"/>
<circle cx="484.00" cy="360.21" r="1.55" fill="#9a9a14" stroke="#222" stroke-width="0.5"/>
<circle cx="486.00" cy="360.81" r="1.55" fill="#9a9a14" stroke="#222" stroke-width="0.5"/>
<circle cx="488.00" cy="360.81" r="1.55" fill="#9a9a14" stroke="#222" stroke-width="0.5"/>
<circle cx="490.00" cy="360.81" r="1.55" fill="#9a9a14" stroke="#222" stroke-width="0.5"/>
<line x1="504.30" y1="320.25" x2="504.30" y2="360.81" stroke="#222" stroke-width="0.6"/>
<line x1="502.10" y1="320.25" x2="506.50" y2="320.25" stroke="#222" stroke-width="0.6"/>
<line x1="502.10" y1="360.81" x2="506.50" y2="360.81" stroke="#222" stroke-width="0.6"/>
<circle cx="500.00" cy="312.25" r="1.55" fill="#3a3a3a" stroke="#222" stroke-width="0.5"/>
<circle cx="508.30" cy="310.22" r="1.55" fill="#3a3a3a" stroke="#222" stroke-width="0.5"/>
<circle cx="504.30" cy="345.30" r="1.55" fill="none" stroke="#222" stroke-width="0.5"/>
<circle cx="502.30" cy="352.46" r="1.55" fill="none" stroke="#222" stroke-width="0.5"/>
<circle cx="504.30" cy="359.61" r="1.55" fill="none" stroke="#222" stroke-width="0.5"/>
<line x1="521.10" y1="300.32" x2="521.10" y2="333.01" stroke="#222" stroke-width="0.6"/>
<line x1="518.90" y1="300.32" x2="523.30" y2="300.32" stroke="#222" stroke-width="0.6"/>
<line x1="518.90" y1="333.01" x2="523.30" y2="333.01" stroke="#222" stroke-width="0.6"/>
<circle cx="521.10" cy="296.62" r="1.55" fill="#d0102a" stroke="#222" stroke-width="0.5"/>
<circle cx="517.00" cy="305.45" r="1.55" fill="#d0102a" stroke="#222" stroke-width="0.5"/>
<circle cx="525.20" cy="303.07" r="1.55" fill="#d0102a" stroke="#222" stroke-width="0.5"/>
<circle cx="521.10" cy="315.35" r="1.55" fill="#d0102a" stroke="#222" stroke-width="0.5"/>
<circle cx="521.10" cy="322.63" r="1.55" fill="none" stroke="#222" stroke-width="0.5"/>
<circle cx="521.10" cy="334.92" r="1.55" fill="none" stroke="#222" stroke-width="0.5"/>
<circle cx="521.10" cy="339.33" r="1.55" fill="none" stroke="#222" stroke-width="0.5"/>
<line x1="538.00" y1="350.07" x2="538.00" y2="359.61" stroke="#222" stroke-width="0.6"/>
<line x1="535.80" y1="350.07" x2="540.20" y2="350.07" stroke="#222" stroke-width="0.6"/>
<line x1="535.80" y1="359.61" x2="540.20" y2="359.61" stroke="#222" stroke-width="0.6"/>
<circle cx="535.00" cy="348.88" r="1.55" fill="#8fd4f2" stroke="#222" stroke-width="0.5"/>
<circle cx="541.00" cy="347.68" r="1.55" fill="#8fd4f2" stroke="#222" stroke-width="0.5"/>
<circle cx="538.00" cy="353.65" r="1.55" fill="#8fd4f2" stroke="#222" stroke-width="0.5"/>
<circle cx="536.00" cy="357.23" r="1.55" fill="#8fd4f2" stroke="#222" stroke-width="0.5"/>
<circle cx="540.00" cy="358.42" r="1.55" fill="#8fd4f2" stroke="#222" stroke-width="0.5"/>
<line x1="476.40" y1="362.00" x2="548.00" y2="362.00" stroke="#222" stroke-width="0.8"/>
<line x1="487.00" y1="362.00" x2="487.00" y2="363.60" stroke="#222" stroke-width="0.7"/>
<line x1="504.30" y1="362.00" x2="504.30" y2="363.60" stroke="#222" stroke-width="0.7"/>
<line x1="521.10" y1="362.00" x2="521.10" y2="363.60" stroke="#222" stroke-width="0.7"/>
<line x1="538.00" y1="362.00" x2="538.00" y2="363.60" stroke="#222" stroke-width="0.7"/>
<text x="490.20" y="366.00" font-size="9" font-weight="bold" text-anchor="end" fill="#000" transform="rotate(-90 490.2 366.0)">Saline</text>
<text x="507.50" y="366.00" font-size="9" font-weight="bold" text-anchor="end" fill="#000" transform="rotate(-90 507.5 366.0)">WT</text>
<text x="524.30" y="366.00" font-size="9" font-weight="bold" text-anchor="end" fill="#000" transform="rotate(-90 524.3000000000001 366.0)">Δ<tspan font-style="italic">cna</tspan></text>
<text x="541.20" y="366.00" font-size="9" font-weight="bold" text-anchor="end" fill="#000" transform="rotate(-90 541.2 366.0)">comp <tspan font-style="italic">cna</tspan></text>
<path d="M504.10 307.30V291.30H520.30V293.10" fill="none" stroke="#5a5a5a" stroke-width="0.55"/>
<text x="512.20" y="292.20" font-size="6.0" font-weight="bold" text-anchor="middle" fill="#111">*</text>
<path d="M522.00 293.10V291.30H537.70V346.30" fill="none" stroke="#5a5a5a" stroke-width="0.55"/>
<text x="529.85" y="292.20" font-size="6.0" font-weight="bold" text-anchor="middle" fill="#111">**</text>
<line x1="605.30" y1="286.60" x2="605.30" y2="361.60" stroke="#222" stroke-width="0.8"/>
<line x1="603.70" y1="361.60" x2="605.30" y2="361.60" stroke="#222" stroke-width="0.7"/>
<text x="603.00" y="362.75" font-size="3.3" font-weight="bold" text-anchor="end" fill="#333">0</text>
<line x1="603.70" y1="342.85" x2="605.30" y2="342.85" stroke="#222" stroke-width="0.7"/>
<text x="603.00" y="344.00" font-size="3.3" font-weight="bold" text-anchor="end" fill="#333">1</text>
<line x1="603.70" y1="324.10" x2="605.30" y2="324.10" stroke="#222" stroke-width="0.7"/>
<text x="603.00" y="325.25" font-size="3.3" font-weight="bold" text-anchor="end" fill="#333">2</text>
<line x1="603.70" y1="305.35" x2="605.30" y2="305.35" stroke="#222" stroke-width="0.7"/>
<text x="603.00" y="306.50" font-size="3.3" font-weight="bold" text-anchor="end" fill="#333">3</text>
<line x1="603.70" y1="286.60" x2="605.30" y2="286.60" stroke="#222" stroke-width="0.7"/>
<text x="603.00" y="287.75" font-size="3.3" font-weight="bold" text-anchor="end" fill="#333">4</text>
<rect x="610.55" y="353.73" width="11.30" height="7.88" fill="#86860a" stroke="#111" stroke-width="0.8"/>
<rect x="628.15" y="333.85" width="11.30" height="27.75" fill="#4f4f51" stroke="#111" stroke-width="0.8"/>
<rect x="645.55" y="341.91" width="11.30" height="19.69" fill="#f50000" stroke="#111" stroke-width="0.8"/>
<rect x="663.05" y="330.66" width="11.30" height="30.94" fill="#6cc8f6" stroke="#111" stroke-width="0.8"/>
<line x1="616.20" y1="349.98" x2="616.20" y2="357.48" stroke="#222" stroke-width="0.6"/>
<line x1="614.00" y1="349.98" x2="618.40" y2="349.98" stroke="#222" stroke-width="0.6"/>
<line x1="614.00" y1="357.48" x2="618.40" y2="357.48" stroke="#222" stroke-width="0.6"/>
<circle cx="613.20" cy="348.48" r="1.55" fill="#9a9a14" stroke="#222" stroke-width="0.5"/>
<circle cx="619.20" cy="348.48" r="1.55" fill="#9a9a14" stroke="#222" stroke-width="0.5"/>
<circle cx="616.20" cy="352.23" r="1.55" fill="#9a9a14" stroke="#222" stroke-width="0.5"/>
<circle cx="614.20" cy="355.98" r="1.55" fill="#9a9a14" stroke="#222" stroke-width="0.5"/>
<circle cx="618.20" cy="355.98" r="1.55" fill="#9a9a14" stroke="#222" stroke-width="0.5"/>
<line x1="633.80" y1="311.35" x2="633.80" y2="356.35" stroke="#222" stroke-width="0.6"/>
<line x1="631.60" y1="311.35" x2="636.00" y2="311.35" stroke="#222" stroke-width="0.6"/>
<line x1="631.60" y1="356.35" x2="636.00" y2="356.35" stroke="#222" stroke-width="0.6"/>
<circle cx="633.80" cy="294.10" r="1.55" fill="#3a3a3a" stroke="#222" stroke-width="0.5"/>
<circle cx="633.80" cy="320.35" r="1.55" fill="#3a3a3a" stroke="#222" stroke-width="0.5"/>
<circle cx="633.80" cy="337.23" r="1.55" fill="none" stroke="#222" stroke-width="0.5"/>
<circle cx="633.80" cy="342.85" r="1.55" fill="none" stroke="#222" stroke-width="0.5"/>
<circle cx="633.80" cy="354.10" r="1.55" fill="none" stroke="#222" stroke-width="0.5"/>
<line x1="651.20" y1="324.10" x2="651.20" y2="359.73" stroke="#222" stroke-width="0.6"/>
<line x1="649.00" y1="324.10" x2="653.40" y2="324.10" stroke="#222" stroke-width="0.6"/>
<line x1="649.00" y1="359.73" x2="653.40" y2="359.73" stroke="#222" stroke-width="0.6"/>
<circle cx="651.20" cy="314.73" r="1.55" fill="#d0102a" stroke="#222" stroke-width="0.5"/>
<circle cx="651.20" cy="327.85" r="1.55" fill="#d0102a" stroke="#222" stroke-width="0.5"/>
<circle cx="651.20" cy="333.48" r="1.55" fill="#d0102a" stroke="#222" stroke-width="0.5"/>
<circle cx="651.20" cy="340.98" r="1.55" fill="#d0102a" stroke="#222" stroke-width="0.5"/>
<circle cx="651.20" cy="359.73" r="1.55" fill="#d0102a" stroke="#222" stroke-width="0.5"/>
<line x1="668.70" y1="315.66" x2="668.70" y2="345.66" stroke="#222" stroke-width="0.6"/>
<line x1="666.50" y1="315.66" x2="670.90" y2="315.66" stroke="#222" stroke-width="0.6"/>
<line x1="666.50" y1="345.66" x2="670.90" y2="345.66" stroke="#222" stroke-width="0.6"/>
<circle cx="668.70" cy="313.79" r="1.55" fill="#8fd4f2" stroke="#222" stroke-width="0.5"/>
<circle cx="665.70" cy="324.10" r="1.55" fill="#8fd4f2" stroke="#222" stroke-width="0.5"/>
<circle cx="671.70" cy="325.98" r="1.55" fill="#8fd4f2" stroke="#222" stroke-width="0.5"/>
<circle cx="668.70" cy="339.10" r="1.55" fill="none" stroke="#222" stroke-width="0.5"/>
<circle cx="668.70" cy="354.10" r="1.55" fill="none" stroke="#222" stroke-width="0.5"/>
<line x1="605.30" y1="361.60" x2="680.30" y2="361.60" stroke="#222" stroke-width="0.8"/>
<line x1="616.20" y1="361.60" x2="616.20" y2="363.20" stroke="#222" stroke-width="0.7"/>
<line x1="633.80" y1="361.60" x2="633.80" y2="363.20" stroke="#222" stroke-width="0.7"/>
<line x1="651.20" y1="361.60" x2="651.20" y2="363.20" stroke="#222" stroke-width="0.7"/>
<line x1="668.70" y1="361.60" x2="668.70" y2="363.20" stroke="#222" stroke-width="0.7"/>
<text x="619.40" y="366.00" font-size="9" font-weight="bold" text-anchor="end" fill="#000" transform="rotate(-90 619.4000000000001 366.0)">Saline</text>
<text x="637.00" y="366.00" font-size="9" font-weight="bold" text-anchor="end" fill="#000" transform="rotate(-90 637.0 366.0)">WT</text>
<text x="654.40" y="366.00" font-size="9" font-weight="bold" text-anchor="end" fill="#000" transform="rotate(-90 654.4000000000001 366.0)">Δ<tspan font-style="italic">cna</tspan></text>
<text x="671.90" y="366.00" font-size="9" font-weight="bold" text-anchor="end" fill="#000" transform="rotate(-90 671.9000000000001 366.0)">comp <tspan font-style="italic">cna</tspan></text>
<line x1="50.30" y1="433.40" x2="50.30" y2="493.30" stroke="#222" stroke-width="0.8"/>
<line x1="48.70" y1="493.30" x2="50.30" y2="493.30" stroke="#222" stroke-width="0.7"/>
<text x="48.00" y="494.45" font-size="3.3" font-weight="bold" text-anchor="end" fill="#333">0</text>
<line x1="48.70" y1="473.33" x2="50.30" y2="473.33" stroke="#222" stroke-width="0.7"/>
<text x="48.00" y="474.48" font-size="3.3" font-weight="bold" text-anchor="end" fill="#333">50</text>
<line x1="48.70" y1="453.37" x2="50.30" y2="453.37" stroke="#222" stroke-width="0.7"/>
<text x="48.00" y="454.52" font-size="3.3" font-weight="bold" text-anchor="end" fill="#333">100</text>
<line x1="48.70" y1="433.40" x2="50.30" y2="433.40" stroke="#222" stroke-width="0.7"/>
<text x="48.00" y="434.55" font-size="3.3" font-weight="bold" text-anchor="end" fill="#333">150</text>
<rect x="56.40" y="470.14" width="12.20" height="23.16" fill="#4f4f51" stroke="#111" stroke-width="0.8"/>
<rect x="74.90" y="458.56" width="12.20" height="34.74" fill="#f50000" stroke="#111" stroke-width="0.8"/>
<rect x="92.70" y="482.92" width="12.20" height="10.38" fill="#6cc8f6" stroke="#111" stroke-width="0.8"/>
<line x1="62.50" y1="460.55" x2="62.50" y2="479.72" stroke="#222" stroke-width="0.6"/>
<line x1="60.30" y1="460.55" x2="64.70" y2="460.55" stroke="#222" stroke-width="0.6"/>
<line x1="60.30" y1="479.72" x2="64.70" y2="479.72" stroke="#222" stroke-width="0.6"/>
<circle cx="57.70" cy="462.95" r="1.55" fill="#3a3a3a" stroke="#222" stroke-width="0.5"/>
<circle cx="62.50" cy="460.16" r="1.55" fill="#3a3a3a" stroke="#222" stroke-width="0.5"/>
<circle cx="62.50" cy="464.55" r="1.55" fill="#3a3a3a" stroke="#222" stroke-width="0.5"/>
<circle cx="67.30" cy="464.55" r="1.55" fill="#3a3a3a" stroke="#222" stroke-width="0.5"/>
<circle cx="62.50" cy="473.33" r="1.55" fill="none" stroke="#222" stroke-width="0.5"/>
<circle cx="62.50" cy="477.33" r="1.55" fill="none" stroke="#222" stroke-width="0.5"/>
<line x1="81.00" y1="455.48" x2="81.00" y2="461.63" stroke="#222" stroke-width="0.6"/>
<line x1="78.80" y1="455.48" x2="83.20" y2="455.48" stroke="#222" stroke-width="0.6"/>
<line x1="78.80" y1="461.63" x2="83.20" y2="461.63" stroke="#222" stroke-width="0.6"/>
<circle cx="81.00" cy="452.17" r="1.55" fill="#d0102a" stroke="#222" stroke-width="0.5"/>
<circle cx="76.20" cy="458.16" r="1.55" fill="#d0102a" stroke="#222" stroke-width="0.5"/>
<circle cx="81.00" cy="458.16" r="1.55" fill="#d0102a" stroke="#222" stroke-width="0.5"/>
<circle cx="85.80" cy="458.16" r="1.55" fill="#d0102a" stroke="#222" stroke-width="0.5"/>
<line x1="98.80" y1="478.92" x2="98.80" y2="486.91" stroke="#222" stroke-width="0.6"/>
<line x1="96.60" y1="478.92" x2="101.00" y2="478.92" stroke="#222" stroke-width="0.6"/>
<line x1="96.60" y1="486.91" x2="101.00" y2="486.91" stroke="#222" stroke-width="0.6"/>
<circle cx="98.80" cy="475.73" r="1.55" fill="#8fd4f2" stroke="#222" stroke-width="0.5"/>
<circle cx="95.80" cy="482.12" r="1.55" fill="none" stroke="#222" stroke-width="0.5"/>
<circle cx="101.80" cy="482.92" r="1.55" fill="none" stroke="#222" stroke-width="0.5"/>
<circle cx="98.80" cy="484.51" r="1.55" fill="none" stroke="#222" stroke-width="0.5"/>
<line x1="50.30" y1="493.30" x2="108.20" y2="493.30" stroke="#222" stroke-width="0.8"/>
<line x1="62.50" y1="493.30" x2="62.50" y2="494.90" stroke="#222" stroke-width="0.7"/>
<line x1="81.00" y1="493.30" x2="81.00" y2="494.90" stroke="#222" stroke-width="0.7"/>
<line x1="98.80" y1="493.30" x2="98.80" y2="494.90" stroke="#222" stroke-width="0.7"/>
<text x="65.70" y="496.80" font-size="9" font-weight="bold" text-anchor="end" fill="#000" transform="rotate(-90 65.7 496.8)">WT</text>
<text x="84.20" y="496.80" font-size="9" font-weight="bold" text-anchor="end" fill="#000" transform="rotate(-90 84.2 496.8)">Δ<tspan font-style="italic">cna</tspan></text>
<text x="102.00" y="496.80" font-size="9" font-weight="bold" text-anchor="end" fill="#000" transform="rotate(-90 102.0 496.8)">comp <tspan font-style="italic">cna</tspan></text>
<text x="80.20" y="422.30" font-size="11" font-weight="bold" text-anchor="middle" fill="#000">TNF-α</text>
<path d="M62.50 448.00V441.30H98.80V448.00" fill="none" stroke="#5a5a5a" stroke-width="0.55"/>
<text x="80.65" y="442.20" font-size="6.0" font-weight="bold" text-anchor="middle" fill="#111">**</text>
<path d="M62.50 457.96V448.00H80.10V449.60" fill="none" stroke="#5a5a5a" stroke-width="0.55"/>
<text x="71.30" y="448.90" font-size="6.0" font-weight="bold" text-anchor="middle" fill="#111">*</text>
<path d="M81.90 449.60V448.00H98.80V473.53" fill="none" stroke="#5a5a5a" stroke-width="0.55"/>
<text x="90.35" y="448.90" font-size="6.0" font-weight="bold" text-anchor="middle" fill="#111">****</text>
<line x1="131.30" y1="433.40" x2="131.30" y2="492.50" stroke="#222" stroke-width="0.8"/>
<line x1="129.70" y1="492.50" x2="131.30" y2="492.50" stroke="#222" stroke-width="0.7"/>
<text x="129.00" y="493.65" font-size="3.3" font-weight="bold" text-anchor="end" fill="#333">0</text>
<line x1="129.70" y1="477.73" x2="131.30" y2="477.73" stroke="#222" stroke-width="0.7"/>
<text x="129.00" y="478.88" font-size="3.3" font-weight="bold" text-anchor="end" fill="#333">1000</text>
<line x1="129.70" y1="462.95" x2="131.30" y2="462.95" stroke="#222" stroke-width="0.7"/>
<text x="129.00" y="464.10" font-size="3.3" font-weight="bold" text-anchor="end" fill="#333">2000</text>
<line x1="129.70" y1="448.17" x2="131.30" y2="448.17" stroke="#222" stroke-width="0.7"/>
<text x="129.00" y="449.32" font-size="3.3" font-weight="bold" text-anchor="end" fill="#333">3000</text>
<line x1="129.70" y1="433.40" x2="131.30" y2="433.40" stroke="#222" stroke-width="0.7"/>
<text x="129.00" y="434.55" font-size="3.3" font-weight="bold" text-anchor="end" fill="#333">4000</text>
<rect x="136.50" y="475.21" width="12.20" height="17.29" fill="#4f4f51" stroke="#111" stroke-width="0.8"/>
<rect x="154.90" y="453.94" width="12.20" height="38.56" fill="#f50000" stroke="#111" stroke-width="0.8"/>
<rect x="172.50" y="484.30" width="12.20" height="8.20" fill="#6cc8f6" stroke="#111" stroke-width="0.8"/>
<line x1="142.60" y1="467.09" x2="142.60" y2="483.34" stroke="#222" stroke-width="0.6"/>
<line x1="140.40" y1="467.09" x2="144.80" y2="467.09" stroke="#222" stroke-width="0.6"/>
<line x1="140.40" y1="483.34" x2="144.80" y2="483.34" stroke="#222" stroke-width="0.6"/>
<circle cx="142.60" cy="463.25" r="1.55" fill="#3a3a3a" stroke="#222" stroke-width="0.5"/>
<circle cx="139.80" cy="469.16" r="1.55" fill="#3a3a3a" stroke="#222" stroke-width="0.5"/>
<circle cx="144.90" cy="470.34" r="1.55" fill="#3a3a3a" stroke="#222" stroke-width="0.5"/>
<circle cx="142.60" cy="473.29" r="1.55" fill="#3a3a3a" stroke="#222" stroke-width="0.5"/>
<circle cx="142.60" cy="480.68" r="1.55" fill="none" stroke="#222" stroke-width="0.5"/>
<circle cx="142.60" cy="485.11" r="1.55" fill="none" stroke="#222" stroke-width="0.5"/>
<circle cx="159.00" cy="446.11" r="1.55" fill="#d0102a" stroke="#222" stroke-width="0.5"/>
<circle cx="162.50" cy="444.63" r="1.55" fill="#d0102a" stroke="#222" stroke-width="0.5"/>
<circle cx="162.50" cy="449.36" r="1.55" fill="#d0102a" stroke="#222" stroke-width="0.5"/>
<circle cx="159.00" cy="451.28" r="1.55" fill="#d0102a" stroke="#222" stroke-width="0.5"/>
<circle cx="158.00" cy="458.52" r="1.55" fill="none" stroke="#222" stroke-width="0.5"/>
<circle cx="161.00" cy="459.26" r="1.55" fill="none" stroke="#222" stroke-width="0.5"/>
<circle cx="164.00" cy="458.52" r="1.55" fill="none" stroke="#222" stroke-width="0.5"/>
<line x1="178.60" y1="475.21" x2="178.60" y2="492.50" stroke="#222" stroke-width="0.6"/>
<line x1="176.40" y1="475.21" x2="180.80" y2="475.21" stroke="#222" stroke-width="0.6"/>
<circle cx="178.60" cy="466.79" r="1.55" fill="#8fd4f2" stroke="#222" stroke-width="0.5"/>
<circle cx="173.80" cy="479.94" r="1.55" fill="#8fd4f2" stroke="#222" stroke-width="0.5"/>
<circle cx="178.60" cy="479.20" r="1.55" fill="#8fd4f2" stroke="#222" stroke-width="0.5"/>
<circle cx="183.40" cy="479.94" r="1.55" fill="#8fd4f2" stroke="#222" stroke-width="0.5"/>
<circle cx="176.60" cy="488.81" r="1.55" fill="none" stroke="#222" stroke-width="0.5"/>
<circle cx="180.60" cy="489.55" r="1.55" fill="none" stroke="#222" stroke-width="0.5"/>
<line x1="131.30" y1="492.50" x2="188.60" y2="492.50" stroke="#222" stroke-width="0.8"/>
<line x1="142.60" y1="492.50" x2="142.60" y2="494.10" stroke="#222" stroke-width="0.7"/>
<line x1="161.00" y1="492.50" x2="161.00" y2="494.10" stroke="#222" stroke-width="0.7"/>
<line x1="178.60" y1="492.50" x2="178.60" y2="494.10" stroke="#222" stroke-width="0.7"/>
<text x="145.80" y="496.80" font-size="9" font-weight="bold" text-anchor="end" fill="#000" transform="rotate(-90 145.79999999999998 496.8)">WT</text>
<text x="164.20" y="496.80" font-size="9" font-weight="bold" text-anchor="end" fill="#000" transform="rotate(-90 164.2 496.8)">Δ<tspan font-style="italic">cna</tspan></text>
<text x="181.80" y="496.80" font-size="9" font-weight="bold" text-anchor="end" fill="#000" transform="rotate(-90 181.79999999999998 496.8)">comp <tspan font-style="italic">cna</tspan></text>
<text x="157.40" y="422.30" font-size="11" font-weight="bold" text-anchor="middle" fill="#000">KC</text>
<path d="M142.60 442.20V435.10H178.60V442.20" fill="none" stroke="#5a5a5a" stroke-width="0.55"/>
<text x="160.60" y="434.10" font-size="4.0" font-weight="bold" text-anchor="middle" fill="#444">ns</text>
<path d="M142.60 461.05V442.20H160.10V443.80" fill="none" stroke="#5a5a5a" stroke-width="0.55"/>
<text x="151.35" y="443.10" font-size="6.0" font-weight="bold" text-anchor="middle" fill="#111">****</text>
<path d="M161.90 443.80V442.20H178.60V464.59" fill="none" stroke="#5a5a5a" stroke-width="0.55"/>
<text x="170.25" y="443.10" font-size="6.0" font-weight="bold" text-anchor="middle" fill="#111">****</text>
<line x1="211.40" y1="432.50" x2="211.40" y2="494.00" stroke="#222" stroke-width="0.8"/>
<line x1="209.80" y1="494.00" x2="211.40" y2="494.00" stroke="#222" stroke-width="0.7"/>
<text x="209.10" y="495.15" font-size="3.3" font-weight="bold" text-anchor="end" fill="#333">0</text>
<line x1="209.80" y1="473.50" x2="211.40" y2="473.50" stroke="#222" stroke-width="0.7"/>
<text x="209.10" y="474.65" font-size="3.3" font-weight="bold" text-anchor="end" fill="#333">50</text>
<line x1="209.80" y1="453.00" x2="211.40" y2="453.00" stroke="#222" stroke-width="0.7"/>
<text x="209.10" y="454.15" font-size="3.3" font-weight="bold" text-anchor="end" fill="#333">100</text>
<line x1="209.80" y1="432.50" x2="211.40" y2="432.50" stroke="#222" stroke-width="0.7"/>
<text x="209.10" y="433.65" font-size="3.3" font-weight="bold" text-anchor="end" fill="#333">150</text>
<rect x="218.00" y="480.06" width="12.20" height="13.94" fill="#4f4f51" stroke="#111" stroke-width="0.8"/>
<rect x="236.30" y="464.60" width="12.20" height="29.40" fill="#f50000" stroke="#111" stroke-width="0.8"/>
<rect x="254.70" y="489.82" width="12.20" height="4.18" fill="#6cc8f6" stroke="#111" stroke-width="0.8"/>
<circle cx="219.10" cy="465.92" r="1.55" fill="#3a3a3a" stroke="#222" stroke-width="0.5"/>
<circle cx="221.90" cy="468.42" r="1.55" fill="#3a3a3a" stroke="#222" stroke-width="0.5"/>
<circle cx="225.50" cy="466.82" r="1.55" fill="#3a3a3a" stroke="#222" stroke-width="0.5"/>
<circle cx="229.00" cy="465.50" r="1.55" fill="#3a3a3a" stroke="#222" stroke-width="0.5"/>
<circle cx="224.10" cy="485.80" r="1.55" fill="none" stroke="#222" stroke-width="0.5"/>
<circle cx="224.10" cy="489.90" r="1.55" fill="none" stroke="#222" stroke-width="0.5"/>
<line x1="242.40" y1="455.58" x2="242.40" y2="473.62" stroke="#222" stroke-width="0.6"/>
<line x1="240.20" y1="455.58" x2="244.60" y2="455.58" stroke="#222" stroke-width="0.6"/>
<line x1="240.20" y1="473.62" x2="244.60" y2="473.62" stroke="#222" stroke-width="0.6"/>
<circle cx="240.60" cy="451.77" r="1.55" fill="#d0102a" stroke="#222" stroke-width="0.5"/>
<circle cx="244.20" cy="451.77" r="1.55" fill="#d0102a" stroke="#222" stroke-width="0.5"/>
<circle cx="237.10" cy="462.84" r="1.55" fill="#d0102a" stroke="#222" stroke-width="0.5"/>
<circle cx="242.40" cy="463.66" r="1.55" fill="#d0102a" stroke="#222" stroke-width="0.5"/>
<circle cx="247.30" cy="462.02" r="1.55" fill="#d0102a" stroke="#222" stroke-width="0.5"/>
<circle cx="242.40" cy="469.40" r="1.55" fill="none" stroke="#222" stroke-width="0.5"/>
<circle cx="242.40" cy="473.50" r="1.55" fill="none" stroke="#222" stroke-width="0.5"/>
<circle cx="242.40" cy="477.60" r="1.55" fill="none" stroke="#222" stroke-width="0.5"/>
<line x1="260.80" y1="486.54" x2="260.80" y2="493.10" stroke="#222" stroke-width="0.6"/>
<line x1="258.60" y1="486.54" x2="263.00" y2="486.54" stroke="#222" stroke-width="0.6"/>
<line x1="258.60" y1="493.10" x2="263.00" y2="493.10" stroke="#222" stroke-width="0.6"/>
<circle cx="260.80" cy="483.59" r="1.55" fill="#8fd4f2" stroke="#222" stroke-width="0.5"/>
<circle cx="256.80" cy="491.42" r="1.55" fill="none" stroke="#222" stroke-width="0.5"/>
<circle cx="259.40" cy="491.42" r="1.55" fill="none" stroke="#222" stroke-width="0.5"/>
<circle cx="262.20" cy="491.42" r="1.55" fill="none" stroke="#222" stroke-width="0.5"/>
<circle cx="264.80" cy="491.42" r="1.55" fill="none" stroke="#222" stroke-width="0.5"/>
<line x1="211.40" y1="494.00" x2="271.00" y2="494.00" stroke="#222" stroke-width="0.8"/>
<line x1="224.10" y1="494.00" x2="224.10" y2="495.60" stroke="#222" stroke-width="0.7"/>
<line x1="242.40" y1="494.00" x2="242.40" y2="495.60" stroke="#222" stroke-width="0.7"/>
<line x1="260.80" y1="494.00" x2="260.80" y2="495.60" stroke="#222" stroke-width="0.7"/>
<text x="227.30" y="496.80" font-size="9" font-weight="bold" text-anchor="end" fill="#000" transform="rotate(-90 227.29999999999998 496.8)">WT</text>
<text x="245.60" y="496.80" font-size="9" font-weight="bold" text-anchor="end" fill="#000" transform="rotate(-90 245.6 496.8)">Δ<tspan font-style="italic">cna</tspan></text>
<text x="264.00" y="496.80" font-size="9" font-weight="bold" text-anchor="end" fill="#000" transform="rotate(-90 264.0 496.8)">comp <tspan font-style="italic">cna</tspan></text>
<text x="240.80" y="422.30" font-size="11" font-weight="bold" text-anchor="middle" fill="#000">GM- CSF</text>
<path d="M224.10 447.40V440.50H260.80V447.40" fill="none" stroke="#5a5a5a" stroke-width="0.55"/>
<text x="242.45" y="441.40" font-size="6.0" font-weight="bold" text-anchor="middle" fill="#111">*</text>
<path d="M224.10 463.31V447.40H241.50V449.00" fill="none" stroke="#5a5a5a" stroke-width="0.55"/>
<text x="232.80" y="448.30" font-size="6.0" font-weight="bold" text-anchor="middle" fill="#111">**</text>
<path d="M243.30 449.00V447.40H260.80V481.39" fill="none" stroke="#5a5a5a" stroke-width="0.55"/>
<text x="252.05" y="448.30" font-size="6.0" font-weight="bold" text-anchor="middle" fill="#111">****</text>
<line x1="294.30" y1="435.80" x2="294.30" y2="494.40" stroke="#222" stroke-width="0.8"/>
<line x1="292.70" y1="494.40" x2="294.30" y2="494.40" stroke="#222" stroke-width="0.7"/>
<text x="292.00" y="495.55" font-size="3.3" font-weight="bold" text-anchor="end" fill="#333">0</text>
<line x1="292.70" y1="474.87" x2="294.30" y2="474.87" stroke="#222" stroke-width="0.7"/>
<text x="292.00" y="476.02" font-size="3.3" font-weight="bold" text-anchor="end" fill="#333">500</text>
<line x1="292.70" y1="455.33" x2="294.30" y2="455.33" stroke="#222" stroke-width="0.7"/>
<text x="292.00" y="456.48" font-size="3.3" font-weight="bold" text-anchor="end" fill="#333">1000</text>
<line x1="292.70" y1="435.80" x2="294.30" y2="435.80" stroke="#222" stroke-width="0.7"/>
<text x="292.00" y="436.95" font-size="3.3" font-weight="bold" text-anchor="end" fill="#333">1500</text>
<rect x="300.10" y="478.89" width="12.20" height="15.51" fill="#4f4f51" stroke="#111" stroke-width="0.8"/>
<rect x="318.10" y="462.80" width="12.20" height="31.60" fill="#f50000" stroke="#111" stroke-width="0.8"/>
<rect x="335.70" y="486.70" width="12.20" height="7.70" fill="#6cc8f6" stroke="#111" stroke-width="0.8"/>
<line x1="306.20" y1="470.10" x2="306.20" y2="487.68" stroke="#222" stroke-width="0.6"/>
<line x1="304.00" y1="470.10" x2="308.40" y2="470.10" stroke="#222" stroke-width="0.6"/>
<line x1="304.00" y1="487.68" x2="308.40" y2="487.68" stroke="#222" stroke-width="0.6"/>
<circle cx="306.20" cy="466.70" r="1.55" fill="#3a3a3a" stroke="#222" stroke-width="0.5"/>
<circle cx="306.20" cy="470.10" r="1.55" fill="#3a3a3a" stroke="#222" stroke-width="0.5"/>
<circle cx="301.80" cy="477.80" r="1.55" fill="#3a3a3a" stroke="#222" stroke-width="0.5"/>
<circle cx="304.70" cy="477.80" r="1.55" fill="#3a3a3a" stroke="#222" stroke-width="0.5"/>
<circle cx="307.70" cy="477.80" r="1.55" fill="#3a3a3a" stroke="#222" stroke-width="0.5"/>
<circle cx="310.60" cy="477.80" r="1.55" fill="#3a3a3a" stroke="#222" stroke-width="0.5"/>
<circle cx="306.20" cy="490.49" r="1.55" fill="none" stroke="#222" stroke-width="0.5"/>
<line x1="324.20" y1="450.80" x2="324.20" y2="474.79" stroke="#222" stroke-width="0.6"/>
<line x1="322.00" y1="450.80" x2="326.40" y2="450.80" stroke="#222" stroke-width="0.6"/>
<line x1="322.00" y1="474.79" x2="326.40" y2="474.79" stroke="#222" stroke-width="0.6"/>
<circle cx="324.20" cy="440.02" r="1.55" fill="#d0102a" stroke="#222" stroke-width="0.5"/>
<circle cx="324.20" cy="451.11" r="1.55" fill="#d0102a" stroke="#222" stroke-width="0.5"/>
<circle cx="325.90" cy="460.72" r="1.55" fill="#d0102a" stroke="#222" stroke-width="0.5"/>
<circle cx="322.20" cy="469.40" r="1.55" fill="none" stroke="#222" stroke-width="0.5"/>
<circle cx="326.20" cy="470.96" r="1.55" fill="none" stroke="#222" stroke-width="0.5"/>
<circle cx="324.20" cy="474.09" r="1.55" fill="none" stroke="#222" stroke-width="0.5"/>
<line x1="341.80" y1="485.14" x2="341.80" y2="488.27" stroke="#222" stroke-width="0.6"/>
<line x1="339.60" y1="485.14" x2="344.00" y2="485.14" stroke="#222" stroke-width="0.6"/>
<line x1="339.60" y1="488.27" x2="344.00" y2="488.27" stroke="#222" stroke-width="0.6"/>
<circle cx="337.80" cy="486.39" r="1.55" fill="#8fd4f2" stroke="#222" stroke-width="0.5"/>
<circle cx="340.50" cy="486.00" r="1.55" fill="#8fd4f2" stroke="#222" stroke-width="0.5"/>
<circle cx="343.10" cy="486.00" r="1.55" fill="#8fd4f2" stroke="#222" stroke-width="0.5"/>
<circle cx="345.80" cy="486.39" r="1.55" fill="#8fd4f2" stroke="#222" stroke-width="0.5"/>
<circle cx="339.80" cy="490.10" r="1.55" fill="none" stroke="#222" stroke-width="0.5"/>
<circle cx="343.80" cy="490.10" r="1.55" fill="none" stroke="#222" stroke-width="0.5"/>
<line x1="294.30" y1="494.40" x2="353.00" y2="494.40" stroke="#222" stroke-width="0.8"/>
<line x1="306.20" y1="494.40" x2="306.20" y2="496.00" stroke="#222" stroke-width="0.7"/>
<line x1="324.20" y1="494.40" x2="324.20" y2="496.00" stroke="#222" stroke-width="0.7"/>
<line x1="341.80" y1="494.40" x2="341.80" y2="496.00" stroke="#222" stroke-width="0.7"/>
<text x="309.40" y="496.80" font-size="9" font-weight="bold" text-anchor="end" fill="#000" transform="rotate(-90 309.4 496.8)">WT</text>
<text x="327.40" y="496.80" font-size="9" font-weight="bold" text-anchor="end" fill="#000" transform="rotate(-90 327.4 496.8)">Δ<tspan font-style="italic">cna</tspan></text>
<text x="345.00" y="496.80" font-size="9" font-weight="bold" text-anchor="end" fill="#000" transform="rotate(-90 345.0 496.8)">comp <tspan font-style="italic">cna</tspan></text>
<text x="320.70" y="422.30" font-size="11" font-weight="bold" text-anchor="middle" fill="#000">MCP-1</text>
<path d="M306.20 435.60V428.70H341.80V435.60" fill="none" stroke="#5a5a5a" stroke-width="0.55"/>
<text x="324.00" y="427.70" font-size="4.0" font-weight="bold" text-anchor="middle" fill="#444">ns</text>
<path d="M306.20 464.50V435.60H323.30V437.20" fill="none" stroke="#5a5a5a" stroke-width="0.55"/>
<text x="314.75" y="436.50" font-size="6.0" font-weight="bold" text-anchor="middle" fill="#111">**</text>
<path d="M325.10 437.20V435.60H341.80V482.94" fill="none" stroke="#5a5a5a" stroke-width="0.55"/>
<text x="333.45" y="436.50" font-size="6.0" font-weight="bold" text-anchor="middle" fill="#111">****</text>
<line x1="376.70" y1="434.00" x2="376.70" y2="493.50" stroke="#222" stroke-width="0.8"/>
<line x1="375.10" y1="493.50" x2="376.70" y2="493.50" stroke="#222" stroke-width="0.7"/>
<text x="374.40" y="494.65" font-size="3.3" font-weight="bold" text-anchor="end" fill="#333">0</text>
<line x1="375.10" y1="478.62" x2="376.70" y2="478.62" stroke="#222" stroke-width="0.7"/>
<text x="374.40" y="479.77" font-size="3.3" font-weight="bold" text-anchor="end" fill="#333">1000</text>
<line x1="375.10" y1="463.75" x2="376.70" y2="463.75" stroke="#222" stroke-width="0.7"/>
<text x="374.40" y="464.90" font-size="3.3" font-weight="bold" text-anchor="end" fill="#333">2000</text>
<line x1="375.10" y1="448.88" x2="376.70" y2="448.88" stroke="#222" stroke-width="0.7"/>
<text x="374.40" y="450.02" font-size="3.3" font-weight="bold" text-anchor="end" fill="#333">3000</text>
<line x1="375.10" y1="434.00" x2="376.70" y2="434.00" stroke="#222" stroke-width="0.7"/>
<text x="374.40" y="435.15" font-size="3.3" font-weight="bold" text-anchor="end" fill="#333">4000</text>
<rect x="382.50" y="477.88" width="12.20" height="15.62" fill="#4f4f51" stroke="#111" stroke-width="0.8"/>
<rect x="400.70" y="464.94" width="12.20" height="28.56" fill="#f50000" stroke="#111" stroke-width="0.8"/>
<rect x="418.50" y="487.55" width="12.20" height="5.95" fill="#6cc8f6" stroke="#111" stroke-width="0.8"/>
<line x1="388.60" y1="470.59" x2="388.60" y2="485.17" stroke="#222" stroke-width="0.6"/>
<line x1="386.40" y1="470.59" x2="390.80" y2="470.59" stroke="#222" stroke-width="0.6"/>
<line x1="386.40" y1="485.17" x2="390.80" y2="485.17" stroke="#222" stroke-width="0.6"/>
<circle cx="384.40" cy="472.38" r="1.55" fill="#3a3a3a" stroke="#222" stroke-width="0.5"/>
<circle cx="386.40" cy="472.97" r="1.55" fill="#3a3a3a" stroke="#222" stroke-width="0.5"/>
<circle cx="388.60" cy="472.38" r="1.55" fill="#3a3a3a" stroke="#222" stroke-width="0.5"/>
<circle cx="390.80" cy="472.97" r="1.55" fill="#3a3a3a" stroke="#222" stroke-width="0.5"/>
<circle cx="392.80" cy="472.97" r="1.55" fill="#3a3a3a" stroke="#222" stroke-width="0.5"/>
<circle cx="388.60" cy="483.09" r="1.55" fill="none" stroke="#222" stroke-width="0.5"/>
<circle cx="388.60" cy="489.04" r="1.55" fill="none" stroke="#222" stroke-width="0.5"/>
<line x1="406.80" y1="455.27" x2="406.80" y2="474.61" stroke="#222" stroke-width="0.6"/>
<line x1="404.60" y1="455.27" x2="409.00" y2="455.27" stroke="#222" stroke-width="0.6"/>
<line x1="404.60" y1="474.61" x2="409.00" y2="474.61" stroke="#222" stroke-width="0.6"/>
<circle cx="406.80" cy="447.39" r="1.55" fill="#d0102a" stroke="#222" stroke-width="0.5"/>
<circle cx="406.80" cy="451.25" r="1.55" fill="#d0102a" stroke="#222" stroke-width="0.5"/>
<circle cx="406.80" cy="457.65" r="1.55" fill="#d0102a" stroke="#222" stroke-width="0.5"/>
<circle cx="402.80" cy="464.64" r="1.55" fill="#d0102a" stroke="#222" stroke-width="0.5"/>
<circle cx="410.80" cy="464.35" r="1.55" fill="#d0102a" stroke="#222" stroke-width="0.5"/>
<circle cx="411.80" cy="471.93" r="1.55" fill="#d0102a" stroke="#222" stroke-width="0.5"/>
<circle cx="406.80" cy="475.65" r="1.55" fill="none" stroke="#222" stroke-width="0.5"/>
<line x1="424.60" y1="483.09" x2="424.60" y2="492.01" stroke="#222" stroke-width="0.6"/>
<line x1="422.40" y1="483.09" x2="426.80" y2="483.09" stroke="#222" stroke-width="0.6"/>
<line x1="422.40" y1="492.01" x2="426.80" y2="492.01" stroke="#222" stroke-width="0.6"/>
<circle cx="424.60" cy="479.22" r="1.55" fill="#8fd4f2" stroke="#222" stroke-width="0.5"/>
<circle cx="419.60" cy="483.01" r="1.55" fill="#8fd4f2" stroke="#222" stroke-width="0.5"/>
<circle cx="424.60" cy="483.01" r="1.55" fill="#8fd4f2" stroke="#222" stroke-width="0.5"/>
<circle cx="429.60" cy="483.01" r="1.55" fill="#8fd4f2" stroke="#222" stroke-width="0.5"/>
<circle cx="421.60" cy="489.04" r="1.55" fill="none" stroke="#222" stroke-width="0.5"/>
<circle cx="424.60" cy="489.78" r="1.55" fill="none" stroke="#222" stroke-width="0.5"/>
<circle cx="427.60" cy="489.04" r="1.55" fill="none" stroke="#222" stroke-width="0.5"/>
<line x1="376.70" y1="493.50" x2="436.00" y2="493.50" stroke="#222" stroke-width="0.8"/>
<line x1="388.60" y1="493.50" x2="388.60" y2="495.10" stroke="#222" stroke-width="0.7"/>
<line x1="406.80" y1="493.50" x2="406.80" y2="495.10" stroke="#222" stroke-width="0.7"/>
<line x1="424.60" y1="493.50" x2="424.60" y2="495.10" stroke="#222" stroke-width="0.7"/>
<text x="391.80" y="496.80" font-size="9" font-weight="bold" text-anchor="end" fill="#000" transform="rotate(-90 391.8 496.8)">WT</text>
<text x="410.00" y="496.80" font-size="9" font-weight="bold" text-anchor="end" fill="#000" transform="rotate(-90 410.0 496.8)">Δ<tspan font-style="italic">cna</tspan></text>
<text x="427.80" y="496.80" font-size="9" font-weight="bold" text-anchor="end" fill="#000" transform="rotate(-90 427.8 496.8)">comp <tspan font-style="italic">cna</tspan></text>
<text x="396.40" y="422.30" font-size="11" font-weight="bold" text-anchor="middle" fill="#000">IL- 1β</text>
<path d="M388.60 442.60V436.40H424.60V442.60" fill="none" stroke="#5a5a5a" stroke-width="0.55"/>
<text x="406.60" y="437.30" font-size="6.0" font-weight="bold" text-anchor="middle" fill="#111">*</text>
<path d="M388.60 468.39V442.60H405.90V444.20" fill="none" stroke="#5a5a5a" stroke-width="0.55"/>
<text x="397.25" y="443.50" font-size="6.0" font-weight="bold" text-anchor="middle" fill="#111">**</text>
<path d="M407.70 444.20V442.60H424.60V477.02" fill="none" stroke="#5a5a5a" stroke-width="0.55"/>
<text x="416.15" y="443.50" font-size="6.0" font-weight="bold" text-anchor="middle" fill="#111">****</text>
<line x1="459.60" y1="435.70" x2="459.60" y2="493.50" stroke="#222" stroke-width="0.8"/>
<line x1="458.00" y1="493.50" x2="459.60" y2="493.50" stroke="#222" stroke-width="0.7"/>
<text x="457.30" y="494.65" font-size="3.3" font-weight="bold" text-anchor="end" fill="#333">0</text>
<line x1="458.00" y1="474.23" x2="459.60" y2="474.23" stroke="#222" stroke-width="0.7"/>
<text x="457.30" y="475.38" font-size="3.3" font-weight="bold" text-anchor="end" fill="#333">5000</text>
<line x1="458.00" y1="454.97" x2="459.60" y2="454.97" stroke="#222" stroke-width="0.7"/>
<text x="457.30" y="456.12" font-size="3.3" font-weight="bold" text-anchor="end" fill="#333">10000</text>
<line x1="458.00" y1="435.70" x2="459.60" y2="435.70" stroke="#222" stroke-width="0.7"/>
<text x="457.30" y="436.85" font-size="3.3" font-weight="bold" text-anchor="end" fill="#333">15000</text>
<rect x="465.30" y="472.11" width="12.20" height="21.39" fill="#4f4f51" stroke="#111" stroke-width="0.8"/>
<rect x="483.00" y="460.21" width="12.20" height="33.29" fill="#f50000" stroke="#111" stroke-width="0.8"/>
<rect x="500.70" y="485.91" width="12.20" height="7.59" fill="#6cc8f6" stroke="#111" stroke-width="0.8"/>
<line x1="471.40" y1="456.70" x2="471.40" y2="487.53" stroke="#222" stroke-width="0.6"/>
<line x1="469.20" y1="456.70" x2="473.60" y2="456.70" stroke="#222" stroke-width="0.6"/>
<line x1="469.20" y1="487.53" x2="473.60" y2="487.53" stroke="#222" stroke-width="0.6"/>
<circle cx="471.40" cy="456.62" r="1.55" fill="#3a3a3a" stroke="#222" stroke-width="0.5"/>
<circle cx="469.80" cy="459.82" r="1.55" fill="#3a3a3a" stroke="#222" stroke-width="0.5"/>
<circle cx="473.60" cy="459.82" r="1.55" fill="#3a3a3a" stroke="#222" stroke-width="0.5"/>
<circle cx="471.40" cy="464.91" r="1.55" fill="#3a3a3a" stroke="#222" stroke-width="0.5"/>
<circle cx="471.40" cy="481.94" r="1.55" fill="none" stroke="#222" stroke-width="0.5"/>
<circle cx="469.40" cy="483.87" r="1.55" fill="none" stroke="#222" stroke-width="0.5"/>
<line x1="489.10" y1="455.58" x2="489.10" y2="464.83" stroke="#222" stroke-width="0.6"/>
<line x1="486.90" y1="455.58" x2="491.30" y2="455.58" stroke="#222" stroke-width="0.6"/>
<line x1="486.90" y1="464.83" x2="491.30" y2="464.83" stroke="#222" stroke-width="0.6"/>
<circle cx="484.90" cy="455.62" r="1.55" fill="#d0102a" stroke="#222" stroke-width="0.5"/>
<circle cx="487.60" cy="455.16" r="1.55" fill="#d0102a" stroke="#222" stroke-width="0.5"/>
<circle cx="490.60" cy="455.35" r="1.55" fill="#d0102a" stroke="#222" stroke-width="0.5"/>
<circle cx="493.30" cy="455.04" r="1.55" fill="#d0102a" stroke="#222" stroke-width="0.5"/>
<circle cx="489.10" cy="464.60" r="1.55" fill="none" stroke="#222" stroke-width="0.5"/>
<circle cx="489.10" cy="468.45" r="1.55" fill="none" stroke="#222" stroke-width="0.5"/>
<circle cx="489.10" cy="472.31" r="1.55" fill="none" stroke="#222" stroke-width="0.5"/>
<line x1="506.80" y1="479.63" x2="506.80" y2="492.19" stroke="#222" stroke-width="0.6"/>
<line x1="504.60" y1="479.63" x2="509.00" y2="479.63" stroke="#222" stroke-width="0.6"/>
<line x1="504.60" y1="492.19" x2="509.00" y2="492.19" stroke="#222" stroke-width="0.6"/>
<circle cx="506.80" cy="473.39" r="1.55" fill="#8fd4f2" stroke="#222" stroke-width="0.5"/>
<circle cx="506.80" cy="477.78" r="1.55" fill="#8fd4f2" stroke="#222" stroke-width="0.5"/>
<circle cx="502.80" cy="484.64" r="1.55" fill="#8fd4f2" stroke="#222" stroke-width="0.5"/>
<circle cx="506.80" cy="484.25" r="1.55" fill="#8fd4f2" stroke="#222" stroke-width="0.5"/>
<circle cx="510.80" cy="484.64" r="1.55" fill="#8fd4f2" stroke="#222" stroke-width="0.5"/>
<circle cx="506.80" cy="489.65" r="1.55" fill="none" stroke="#222" stroke-width="0.5"/>
<line x1="459.60" y1="493.50" x2="517.70" y2="493.50" stroke="#222" stroke-width="0.8"/>
<line x1="471.40" y1="493.50" x2="471.40" y2="495.10" stroke="#222" stroke-width="0.7"/>
<line x1="489.10" y1="493.50" x2="489.10" y2="495.10" stroke="#222" stroke-width="0.7"/>
<line x1="506.80" y1="493.50" x2="506.80" y2="495.10" stroke="#222" stroke-width="0.7"/>
<text x="474.60" y="496.80" font-size="9" font-weight="bold" text-anchor="end" fill="#000" transform="rotate(-90 474.59999999999997 496.8)">WT</text>
<text x="492.30" y="496.80" font-size="9" font-weight="bold" text-anchor="end" fill="#000" transform="rotate(-90 492.3 496.8)">Δ<tspan font-style="italic">cna</tspan></text>
<text x="510.00" y="496.80" font-size="9" font-weight="bold" text-anchor="end" fill="#000" transform="rotate(-90 510.0 496.8)">comp <tspan font-style="italic">cna</tspan></text>
<text x="487.60" y="422.30" font-size="11" font-weight="bold" text-anchor="middle" fill="#000">G- CSF</text>
<path d="M471.40 449.90V443.20H506.80V449.90" fill="none" stroke="#5a5a5a" stroke-width="0.55"/>
<text x="489.10" y="444.10" font-size="6.0" font-weight="bold" text-anchor="middle" fill="#111">**</text>
<path d="M471.40 454.42V449.90H488.20V451.50" fill="none" stroke="#5a5a5a" stroke-width="0.55"/>
<text x="479.80" y="450.80" font-size="6.0" font-weight="bold" text-anchor="middle" fill="#111">*</text>
<path d="M490.00 451.50V449.90H506.80V471.19" fill="none" stroke="#5a5a5a" stroke-width="0.55"/>
<text x="498.40" y="450.80" font-size="6.0" font-weight="bold" text-anchor="middle" fill="#111">****</text>
<line x1="538.30" y1="433.20" x2="538.30" y2="494.40" stroke="#222" stroke-width="0.8"/>
<line x1="536.70" y1="494.40" x2="538.30" y2="494.40" stroke="#222" stroke-width="0.7"/>
<text x="536.00" y="495.55" font-size="3.3" font-weight="bold" text-anchor="end" fill="#333">0</text>
<line x1="536.70" y1="479.10" x2="538.30" y2="479.10" stroke="#222" stroke-width="0.7"/>
<text x="536.00" y="480.25" font-size="3.3" font-weight="bold" text-anchor="end" fill="#333">200</text>
<line x1="536.70" y1="463.80" x2="538.30" y2="463.80" stroke="#222" stroke-width="0.7"/>
<text x="536.00" y="464.95" font-size="3.3" font-weight="bold" text-anchor="end" fill="#333">400</text>
<line x1="536.70" y1="448.50" x2="538.30" y2="448.50" stroke="#222" stroke-width="0.7"/>
<text x="536.00" y="449.65" font-size="3.3" font-weight="bold" text-anchor="end" fill="#333">600</text>
<line x1="536.70" y1="433.20" x2="538.30" y2="433.20" stroke="#222" stroke-width="0.7"/>
<text x="536.00" y="434.35" font-size="3.3" font-weight="bold" text-anchor="end" fill="#333">800</text>
<rect x="544.40" y="467.70" width="12.20" height="26.70" fill="#4f4f51" stroke="#111" stroke-width="0.8"/>
<rect x="562.90" y="453.24" width="12.20" height="41.16" fill="#f50000" stroke="#111" stroke-width="0.8"/>
<rect x="581.40" y="488.28" width="12.20" height="6.12" fill="#6cc8f6" stroke="#111" stroke-width="0.8"/>
<line x1="550.50" y1="459.29" x2="550.50" y2="476.12" stroke="#222" stroke-width="0.6"/>
<line x1="548.30" y1="459.29" x2="552.70" y2="459.29" stroke="#222" stroke-width="0.6"/>
<line x1="548.30" y1="476.12" x2="552.70" y2="476.12" stroke="#222" stroke-width="0.6"/>
<circle cx="545.60" cy="457.83" r="1.55" fill="#3a3a3a" stroke="#222" stroke-width="0.5"/>
<circle cx="550.50" cy="457.83" r="1.55" fill="#3a3a3a" stroke="#222" stroke-width="0.5"/>
<circle cx="550.50" cy="459.97" r="1.55" fill="#3a3a3a" stroke="#222" stroke-width="0.5"/>
<circle cx="545.50" cy="467.70" r="1.55" fill="#3a3a3a" stroke="#222" stroke-width="0.5"/>
<circle cx="555.50" cy="467.70" r="1.55" fill="#3a3a3a" stroke="#222" stroke-width="0.5"/>
<circle cx="550.50" cy="479.10" r="1.55" fill="none" stroke="#222" stroke-width="0.5"/>
<circle cx="550.50" cy="486.75" r="1.55" fill="none" stroke="#222" stroke-width="0.5"/>
<line x1="569.00" y1="444.22" x2="569.00" y2="462.27" stroke="#222" stroke-width="0.6"/>
<line x1="566.80" y1="444.22" x2="571.20" y2="444.22" stroke="#222" stroke-width="0.6"/>
<line x1="566.80" y1="462.27" x2="571.20" y2="462.27" stroke="#222" stroke-width="0.6"/>
<circle cx="567.30" cy="440.01" r="1.55" fill="#d0102a" stroke="#222" stroke-width="0.5"/>
<circle cx="570.80" cy="441.00" r="1.55" fill="#d0102a" stroke="#222" stroke-width="0.5"/>
<circle cx="569.00" cy="446.97" r="1.55" fill="#d0102a" stroke="#222" stroke-width="0.5"/>
<circle cx="565.00" cy="452.17" r="1.55" fill="#d0102a" stroke="#222" stroke-width="0.5"/>
<circle cx="573.00" cy="452.17" r="1.55" fill="#d0102a" stroke="#222" stroke-width="0.5"/>
<circle cx="569.00" cy="461.50" r="1.55" fill="none" stroke="#222" stroke-width="0.5"/>
<circle cx="566.00" cy="463.80" r="1.55" fill="none" stroke="#222" stroke-width="0.5"/>
<circle cx="572.00" cy="462.27" r="1.55" fill="none" stroke="#222" stroke-width="0.5"/>
<line x1="587.50" y1="485.98" x2="587.50" y2="490.57" stroke="#222" stroke-width="0.6"/>
<line x1="585.30" y1="485.98" x2="589.70" y2="485.98" stroke="#222" stroke-width="0.6"/>
<line x1="585.30" y1="490.57" x2="589.70" y2="490.57" stroke="#222" stroke-width="0.6"/>
<circle cx="583.50" cy="485.98" r="1.55" fill="#8fd4f2" stroke="#222" stroke-width="0.5"/>
<circle cx="586.10" cy="485.98" r="1.55" fill="#8fd4f2" stroke="#222" stroke-width="0.5"/>
<circle cx="588.90" cy="485.98" r="1.55" fill="#8fd4f2" stroke="#222" stroke-width="0.5"/>
<circle cx="591.50" cy="485.98" r="1.55" fill="#8fd4f2" stroke="#222" stroke-width="0.5"/>
<circle cx="592.00" cy="484.61" r="1.55" fill="#8fd4f2" stroke="#222" stroke-width="0.5"/>
<circle cx="585.50" cy="489.81" r="1.55" fill="none" stroke="#222" stroke-width="0.5"/>
<circle cx="589.50" cy="489.81" r="1.55" fill="none" stroke="#222" stroke-width="0.5"/>
<line x1="538.30" y1="494.40" x2="599.50" y2="494.40" stroke="#222" stroke-width="0.8"/>
<line x1="550.50" y1="494.40" x2="550.50" y2="496.00" stroke="#222" stroke-width="0.7"/>
<line x1="569.00" y1="494.40" x2="569.00" y2="496.00" stroke="#222" stroke-width="0.7"/>
<line x1="587.50" y1="494.40" x2="587.50" y2="496.00" stroke="#222" stroke-width="0.7"/>
<text x="553.70" y="496.80" font-size="9" font-weight="bold" text-anchor="end" fill="#000" transform="rotate(-90 553.7 496.8)">WT</text>
<text x="572.20" y="496.80" font-size="9" font-weight="bold" text-anchor="end" fill="#000" transform="rotate(-90 572.2 496.8)">Δ<tspan font-style="italic">cna</tspan></text>
<text x="590.70" y="496.80" font-size="9" font-weight="bold" text-anchor="end" fill="#000" transform="rotate(-90 590.7 496.8)">comp <tspan font-style="italic">cna</tspan></text>
<text x="564.00" y="422.30" font-size="11" font-weight="bold" text-anchor="middle" fill="#000">IL- 6</text>
<path d="M550.50 434.90V429.70H587.50V434.90" fill="none" stroke="#5a5a5a" stroke-width="0.55"/>
<text x="569.00" y="430.60" font-size="6.0" font-weight="bold" text-anchor="middle" fill="#111">****</text>
<path d="M550.50 455.63V434.90H568.10V436.50" fill="none" stroke="#5a5a5a" stroke-width="0.55"/>
<text x="559.30" y="435.80" font-size="6.0" font-weight="bold" text-anchor="middle" fill="#111">***</text>
<path d="M569.90 436.50V434.90H587.50V482.41" fill="none" stroke="#5a5a5a" stroke-width="0.55"/>
<text x="578.70" y="435.80" font-size="6.0" font-weight="bold" text-anchor="middle" fill="#111">****</text>
<line x1="625.50" y1="437.60" x2="625.50" y2="495.80" stroke="#222" stroke-width="0.8"/>
<line x1="623.90" y1="495.80" x2="625.50" y2="495.80" stroke="#222" stroke-width="0.7"/>
<text x="623.20" y="496.95" font-size="3.3" font-weight="bold" text-anchor="end" fill="#333">0</text>
<line x1="623.90" y1="481.25" x2="625.50" y2="481.25" stroke="#222" stroke-width="0.7"/>
<text x="623.20" y="482.40" font-size="3.3" font-weight="bold" text-anchor="end" fill="#333">5000</text>
<line x1="623.90" y1="466.70" x2="625.50" y2="466.70" stroke="#222" stroke-width="0.7"/>
<text x="623.20" y="467.85" font-size="3.3" font-weight="bold" text-anchor="end" fill="#333">10000</text>
<line x1="623.90" y1="452.15" x2="625.50" y2="452.15" stroke="#222" stroke-width="0.7"/>
<text x="623.20" y="453.30" font-size="3.3" font-weight="bold" text-anchor="end" fill="#333">15000</text>
<line x1="623.90" y1="437.60" x2="625.50" y2="437.60" stroke="#222" stroke-width="0.7"/>
<text x="623.20" y="438.75" font-size="3.3" font-weight="bold" text-anchor="end" fill="#333">20000</text>
<rect x="630.90" y="481.83" width="12.20" height="13.97" fill="#4f4f51" stroke="#111" stroke-width="0.8"/>
<rect x="648.90" y="457.53" width="12.20" height="38.27" fill="#f50000" stroke="#111" stroke-width="0.8"/>
<rect x="666.40" y="479.59" width="12.20" height="16.21" fill="#6cc8f6" stroke="#111" stroke-width="0.8"/>
<line x1="637.00" y1="474.62" x2="637.00" y2="489.05" stroke="#222" stroke-width="0.6"/>
<line x1="634.80" y1="474.62" x2="639.20" y2="474.62" stroke="#222" stroke-width="0.6"/>
<line x1="634.80" y1="489.05" x2="639.20" y2="489.05" stroke="#222" stroke-width="0.6"/>
<circle cx="637.00" cy="470.10" r="1.55" fill="#3a3a3a" stroke="#222" stroke-width="0.5"/>
<circle cx="634.30" cy="477.29" r="1.55" fill="#3a3a3a" stroke="#222" stroke-width="0.5"/>
<circle cx="639.30" cy="477.29" r="1.55" fill="#3a3a3a" stroke="#222" stroke-width="0.5"/>
<circle cx="637.00" cy="482.12" r="1.55" fill="none" stroke="#222" stroke-width="0.5"/>
<circle cx="637.00" cy="489.98" r="1.55" fill="none" stroke="#222" stroke-width="0.5"/>
<line x1="655.00" y1="446.48" x2="655.00" y2="468.59" stroke="#222" stroke-width="0.6"/>
<line x1="652.80" y1="446.48" x2="657.20" y2="446.48" stroke="#222" stroke-width="0.6"/>
<line x1="652.80" y1="468.59" x2="657.20" y2="468.59" stroke="#222" stroke-width="0.6"/>
<circle cx="653.20" cy="443.80" r="1.55" fill="#d0102a" stroke="#222" stroke-width="0.5"/>
<circle cx="656.80" cy="443.80" r="1.55" fill="#d0102a" stroke="#222" stroke-width="0.5"/>
<circle cx="650.50" cy="456.11" r="1.55" fill="#d0102a" stroke="#222" stroke-width="0.5"/>
<circle cx="653.50" cy="456.81" r="1.55" fill="#d0102a" stroke="#222" stroke-width="0.5"/>
<circle cx="656.50" cy="456.81" r="1.55" fill="#d0102a" stroke="#222" stroke-width="0.5"/>
<circle cx="659.50" cy="456.11" r="1.55" fill="#d0102a" stroke="#222" stroke-width="0.5"/>
<circle cx="653.50" cy="472.52" r="1.55" fill="none" stroke="#222" stroke-width="0.5"/>
<circle cx="656.50" cy="472.52" r="1.55" fill="none" stroke="#222" stroke-width="0.5"/>
<line x1="672.50" y1="472.52" x2="672.50" y2="486.66" stroke="#222" stroke-width="0.6"/>
<line x1="670.30" y1="472.52" x2="674.70" y2="472.52" stroke="#222" stroke-width="0.6"/>
<line x1="670.30" y1="486.66" x2="674.70" y2="486.66" stroke="#222" stroke-width="0.6"/>
<circle cx="671.00" cy="471.06" r="1.55" fill="#8fd4f2" stroke="#222" stroke-width="0.5"/>
<circle cx="674.10" cy="472.81" r="1.55" fill="#8fd4f2" stroke="#222" stroke-width="0.5"/>
<circle cx="671.30" cy="474.56" r="1.55" fill="#8fd4f2" stroke="#222" stroke-width="0.5"/>
<circle cx="674.00" cy="477.29" r="1.55" fill="#8fd4f2" stroke="#222" stroke-width="0.5"/>
<circle cx="671.30" cy="486.20" r="1.55" fill="none" stroke="#222" stroke-width="0.5"/>
<circle cx="674.00" cy="486.20" r="1.55" fill="none" stroke="#222" stroke-width="0.5"/>
<circle cx="672.50" cy="481.25" r="1.55" fill="none" stroke="#222" stroke-width="0.5"/>
<line x1="625.50" y1="495.80" x2="681.00" y2="495.80" stroke="#222" stroke-width="0.8"/>
<line x1="637.00" y1="495.80" x2="637.00" y2="497.40" stroke="#222" stroke-width="0.7"/>
<line x1="655.00" y1="495.80" x2="655.00" y2="497.40" stroke="#222" stroke-width="0.7"/>
<line x1="672.50" y1="495.80" x2="672.50" y2="497.40" stroke="#222" stroke-width="0.7"/>
<text x="640.20" y="496.80" font-size="9" font-weight="bold" text-anchor="end" fill="#000" transform="rotate(-90 640.2 496.8)">WT</text>
<text x="658.20" y="496.80" font-size="9" font-weight="bold" text-anchor="end" fill="#000" transform="rotate(-90 658.2 496.8)">Δ<tspan font-style="italic">cna</tspan></text>
<text x="675.70" y="496.80" font-size="9" font-weight="bold" text-anchor="end" fill="#000" transform="rotate(-90 675.7 496.8)">comp <tspan font-style="italic">cna</tspan></text>
<text x="650.00" y="422.30" font-size="11" font-weight="bold" text-anchor="middle" fill="#000">TIMP-1</text>
<path d="M637.00 439.00V433.10H672.50V439.00" fill="none" stroke="#5a5a5a" stroke-width="0.55"/>
<text x="654.75" y="432.10" font-size="4.0" font-weight="bold" text-anchor="middle" fill="#444">ns</text>
<path d="M637.00 467.90V439.00H654.10V440.60" fill="none" stroke="#5a5a5a" stroke-width="0.55"/>
<text x="645.55" y="439.90" font-size="6.0" font-weight="bold" text-anchor="middle" fill="#111">****</text>
<path d="M655.90 440.60V439.00H672.50V468.87" fill="none" stroke="#5a5a5a" stroke-width="0.55"/>
<text x="664.20" y="439.90" font-size="6.0" font-weight="bold" text-anchor="middle" fill="#111">****</text>
<text x="32.40" y="466.00" font-size="9.3" font-weight="bold" text-anchor="middle" fill="#000" transform="rotate(-90 32.4 466.0)">Conc pg/mL</text>
<defs>
<filter id="bl" x="-20%" y="-20%" width="140%" height="140%"><feGaussianBlur stdDeviation="0.45"/></filter>
<filter id="wspk" x="0" y="0" width="100%" height="100%" color-interpolation-filters="sRGB"><feTurbulence type="fractalNoise" baseFrequency="0.4" numOctaves="2" seed="7" result="n"/>
<feColorMatrix in="n" type="matrix" values="0 0 0 0 1  0 0 0 0 1  0 0 0 0 1  0 0 0 -9 4.0" result="c"/>
<feComposite in="c" in2="SourceAlpha" operator="in"/></filter>
<filter id="pspk" x="0" y="0" width="100%" height="100%" color-interpolation-filters="sRGB"><feTurbulence type="fractalNoise" baseFrequency="0.45" numOctaves="2" seed="11" result="n"/>
<feColorMatrix in="n" type="matrix" values="0 0 0 0 0.85  0 0 0 0 0.40  0 0 0 0 0.78  9 0 0 0 -4.9" result="c"/>
<feComposite in="c" in2="SourceAlpha" operator="in"/></filter>
<filter id="vspk" x="0" y="0" width="100%" height="100%" color-interpolation-filters="sRGB"><feTurbulence type="fractalNoise" baseFrequency="0.45" numOctaves="2" seed="5" result="n"/>
<feColorMatrix in="n" type="matrix" values="0 0 0 0 0.50  0 0 0 0 0.28  0 0 0 0 0.70  9 0 0 0 -4.9" result="c"/>
<feComposite in="c" in2="SourceAlpha" operator="in"/></filter>
<clipPath id="c1"><rect x="34.3" y="13.9" width="115.5" height="46.7"/></clipPath>
<clipPath id="c2"><rect x="162.4" y="13.8" width="115.5" height="46.5"/></clipPath>
<clipPath id="c3"><rect x="34.4" y="65.0" width="115.3" height="46.4"/></clipPath>
<clipPath id="c4"><rect x="162.5" y="64.9" width="115.4" height="46.7"/></clipPath>
</defs>
<rect x="34.30" y="13.90" width="115.50" height="46.70" fill="#fff"/>
<g clip-path="url(#c1)"><polygon points="34.5,48.8 37.0,47.2 40.1,45.8 43.0,46.2 46.3,45.0 49.0,43.4 51.0,43.8 53.4,41.4 56.0,40.6 58.0,40.9 60.5,38.7 63.0,38.2 65.0,37.4 67.6,35.6 70.0,35.2 72.5,33.4 75.6,31.6 78.0,31.2 79.5,28.6 81.4,27.6 83.5,28.8 86.2,28.5 88.0,29.6 90.0,29.4 93.0,29.9 95.5,31.4 98.9,31.2 101.0,32.6 104.0,32.2 107.7,33.0 110.0,34.6 113.0,34.4 116.6,36.1 120.0,36.2 123.7,37.4 126.0,39.4 129.0,41.4 131.5,43.2 133.5,45.8 135.0,48.0 136.1,50.3 137.5,52.5 138.8,54.7 140.0,57.0 141.5,59.8 34.5,59.8" fill="#ea9cd8"/><polygon points="60.0,60.6 66.0,53.0 76.0,48.0 88.0,45.0 100.0,44.5 112.0,46.0 122.0,49.5 130.0,54.0 134.0,60.6" fill="#f8eef6"/><polygon points="34.5,54.0 40.0,53.0 46.0,55.5 50.0,60.6 34.5,60.6" fill="#f4d6ee"/><polygon points="60.0,45.5 64.0,42.5 70.0,41.8 74.0,43.0 70.0,46.0 64.0,47.0" fill="#fbf2f9"/><polygon points="50.0,50.0 55.0,48.5 58.0,50.5 54.0,52.5" fill="#fbf2f9"/><polygon points="92.0,36.5 98.0,35.6 104.0,37.5 100.0,39.5 94.0,39.0" fill="#fbf2f9"/><polygon points="108.0,40.0 112.0,39.0 115.0,41.5 111.0,43.0" fill="#fbf2f9"/><polygon points="76.0,38.0 80.0,36.4 84.0,37.5 80.0,39.4" fill="#fbf2f9"/><polygon points="40.0,56.5 44.0,55.6 46.0,58.5 41.0,59.0" fill="#fbf2f9"/><polygon points="124.0,44.0 127.0,45.0 126.0,48.0 123.0,47.0" fill="#fbf2f9"/><polygon points="34.5,48.8 37.0,47.2 40.1,45.8 43.0,46.2 46.3,45.0 49.0,43.4 51.0,43.8 53.4,41.4 56.0,40.6 58.0,40.9 60.5,38.7 63.0,38.2 65.0,37.4 67.6,35.6 70.0,35.2 72.5,33.4 75.6,31.6 78.0,31.2 79.5,28.6 81.4,27.6 83.5,28.8 86.2,28.5 88.0,29.6 90.0,29.4 93.0,29.9 95.5,31.4 98.9,31.2 101.0,32.6 104.0,32.2 107.7,33.0 110.0,34.6 113.0,34.4 116.6,36.1 120.0,36.2 123.7,37.4 126.0,39.4 129.0,41.4 131.5,43.2 133.5,45.8 135.0,48.0 136.1,50.3 137.5,52.5 138.8,54.7 140.0,57.0 141.5,59.8 34.5,59.8" fill="#000" filter="url(#wspk)" opacity="0.55"/><polygon points="60.0,60.6 66.0,53.0 76.0,48.0 88.0,45.0 100.0,44.5 112.0,46.0 122.0,49.5 130.0,54.0 134.0,60.6" fill="#000" filter="url(#pspk)" opacity="0.4"/><g filter="url(#bl)" opacity="0.85"><ellipse cx="46" cy="52.5" rx="3.25" ry="1.88" fill="#8a5aa8" transform="rotate(-20 46 52.5)"/><ellipse cx="57" cy="48.8" rx="3.50" ry="1.75" fill="#9a68b6" transform="rotate(-15 57 48.8)"/><ellipse cx="75.5" cy="42.8" rx="2.75" ry="1.88" fill="#7e4c9e" transform="rotate(0 75.5 42.8)"/><ellipse cx="80.5" cy="42.2" rx="3.00" ry="2.12" fill="#7e4c9e" transform="rotate(0 80.5 42.2)"/><ellipse cx="85.5" cy="41.2" rx="2.75" ry="2.00" fill="#8450a4" transform="rotate(-10 85.5 41.2)"/><ellipse cx="104" cy="41.5" rx="1.62" ry="3.25" fill="#8a58a8" transform="rotate(-35 104 41.5)"/><ellipse cx="108.5" cy="46.5" rx="1.62" ry="3.00" fill="#8a58a8" transform="rotate(-30 108.5 46.5)"/><ellipse cx="117.5" cy="44.8" rx="1.62" ry="3.25" fill="#9262ae" transform="rotate(-20 117.5 44.8)"/><ellipse cx="121.5" cy="48.5" rx="1.50" ry="2.75" fill="#9a6ab4" transform="rotate(-15 121.5 48.5)"/><ellipse cx="128.5" cy="47" rx="1.50" ry="3.25" fill="#a070b8" transform="rotate(-10 128.5 47)"/><ellipse cx="94" cy="38" rx="1.75" ry="1.38" fill="#9a66b2" transform="rotate(0 94 38)"/><ellipse cx="40.5" cy="55.5" rx="1.75" ry="1.38" fill="#9a6ab4" transform="rotate(0 40.5 55.5)"/><ellipse cx="66" cy="49.5" rx="1.88" ry="1.50" fill="#a070b8" transform="rotate(0 66 49.5)"/><ellipse cx="52" cy="55.5" rx="2.25" ry="1.38" fill="#b088c8" transform="rotate(0 52 55.5)"/></g><polyline points="34.5,48.8 37.0,47.2 40.1,45.8 43.0,46.2 46.3,45.0 49.0,43.4 51.0,43.8 53.4,41.4 56.0,40.6 58.0,40.9 60.5,38.7 63.0,38.2 65.0,37.4 67.6,35.6 70.0,35.2 72.5,33.4 75.6,31.6 78.0,31.2 79.5,28.6 81.4,27.6 83.5,28.8 86.2,28.5 88.0,29.6 90.0,29.4 93.0,29.9 95.5,31.4 98.9,31.2 101.0,32.6 104.0,32.2 107.7,33.0 110.0,34.6 113.0,34.4 116.6,36.1 120.0,36.2 123.7,37.4 126.0,39.4 129.0,41.4 131.5,43.2 133.5,45.8 135.0,48.0 136.1,50.3 137.5,52.5 138.8,54.7 140.0,57.0 141.5,59.8" fill="none" stroke="#7a4494" stroke-width="1.1" stroke-linejoin="round"/></g>
<rect x="36.50" y="15.20" width="32.90" height="15.10" fill="#fff" stroke="#555" stroke-width="0.7"/>
<path d="M38.2 22.6 Q40 20.2 46 20 Q52 19.6 56 18 Q62 16.4 66 17.4 Q69.2 19 68.2 21.6 Q66 24.2 58 24.6 Q52 25 48 26.6 Q43 28.2 40 26.2 Q37.6 24.6 38.2 22.6 Z" fill="#f2c2e8" stroke="#e894d8" stroke-width="0.6"/><path d="M41 24.4 Q46 22 54 22.4 Q60 22.4 66 19.8" fill="none" stroke="#fbeaf6" stroke-width="1.1"/><path d="M42 25.6 Q47 24.2 52 23.8" fill="none" stroke="#e070c8" stroke-width="0.7"/><path d="M56 19.6 Q61 18.4 65 18.6" fill="none" stroke="#f8e0f2" stroke-width="0.8"/>
<rect x="35.20" y="14.80" width="113.70" height="44.90" fill="none" stroke="#111" stroke-width="1.8"/>
<line x1="133.20" y1="57.20" x2="145.90" y2="57.20" stroke="#111" stroke-width="1.0"/>
<text x="139.60" y="55.70" font-size="5.3" font-weight="bold" text-anchor="middle" fill="#111">5 mm</text>
<text x="33.00" y="36.00" font-size="9.5" font-weight="bold" text-anchor="middle" fill="#000" transform="rotate(-90 33.0 36.0)">Saline</text>
<rect x="34.40" y="65.00" width="115.30" height="46.40" fill="#fff"/>
<g clip-path="url(#c3)"><polygon points="38.8,111.0 40.5,107.0 43.0,102.9 45.0,100.5 47.5,97.4 50.0,95.0 53.0,92.0 56.5,89.0 60.2,85.7 63.5,83.5 67.4,81.1 70.5,79.8 73.8,78.4 77.0,77.8 80.1,76.6 84.0,76.0 87.4,75.2 90.0,75.9 93.0,75.7 97.3,76.1 100.0,77.2 103.6,78.0 107.0,78.6 110.9,79.8 114.0,81.2 117.2,82.0 121.0,83.6 124.5,84.8 128.0,86.5 130.8,87.5 133.5,89.5 136.2,91.1 138.5,93.5 140.8,95.6 143.0,98.5 145.3,101.1 147.0,103.0 148.0,104.7 149.7,107.0 149.7,111.0" fill="#f3def1"/><clipPath id="t2"><polygon points="38.8,111.0 40.5,107.0 43.0,102.9 45.0,100.5 47.5,97.4 50.0,95.0 53.0,92.0 56.5,89.0 60.2,85.7 63.5,83.5 67.4,81.1 70.5,79.8 73.8,78.4 77.0,77.8 80.1,76.6 84.0,76.0 87.4,75.2 90.0,75.9 93.0,75.7 97.3,76.1 100.0,77.2 103.6,78.0 107.0,78.6 110.9,79.8 114.0,81.2 117.2,82.0 121.0,83.6 124.5,84.8 128.0,86.5 130.8,87.5 133.5,89.5 136.2,91.1 138.5,93.5 140.8,95.6 143.0,98.5 145.3,101.1 147.0,103.0 148.0,104.7 149.7,107.0 149.7,111.0"/></clipPath><g clip-path="url(#t2)"><polyline points="36.0,114.0 38.8,111.0 40.5,107.0 43.0,102.9 45.0,100.5 47.5,97.4 50.0,95.0 53.0,92.0 56.5,89.0 60.2,85.7 63.5,83.5 67.4,81.1 70.5,79.8 73.8,78.4 77.0,77.8 80.1,76.6 84.0,76.0 87.4,75.2 90.0,75.9 93.0,75.7 97.3,76.1 100.0,77.2 103.6,78.0 107.0,78.6 110.9,79.8 114.0,81.2 117.2,82.0 121.0,83.6 124.5,84.8 128.0,86.5 130.8,87.5 133.5,89.5 136.2,91.1 138.5,93.5 140.8,95.6 143.0,98.5 145.3,101.1 147.0,103.0 148.0,104.7 149.7,107.0 152.0,110.0" fill="none" stroke="#e4a2d8" stroke-width="16" stroke-linejoin="round"/><polyline points="36.0,114.0 38.8,111.0 40.5,107.0 43.0,102.9 45.0,100.5 47.5,97.4 50.0,95.0 53.0,92.0 56.5,89.0 60.2,85.7 63.5,83.5 67.4,81.1 70.5,79.8 73.8,78.4 77.0,77.8 80.1,76.6 84.0,76.0 87.4,75.2 90.0,75.9 93.0,75.7 97.3,76.1 100.0,77.2 103.6,78.0 107.0,78.6 110.9,79.8 114.0,81.2 117.2,82.0 121.0,83.6 124.5,84.8 128.0,86.5 130.8,87.5 133.5,89.5 136.2,91.1 138.5,93.5 140.8,95.6 143.0,98.5 145.3,101.1 147.0,103.0 148.0,104.7 149.7,107.0 152.0,110.0" fill="none" stroke="#d682cc" stroke-width="6" stroke-linejoin="round"/></g><polygon points="58.0,111.0 64.0,101.0 74.0,92.5 88.0,87.5 104.0,88.0 116.0,92.0 126.0,100.0 133.0,111.0" fill="#f2e2f0"/><polygon points="38.8,111.0 40.5,107.0 43.0,102.9 45.0,100.5 47.5,97.4 50.0,95.0 53.0,92.0 56.5,89.0 60.2,85.7 63.5,83.5 67.4,81.1 70.5,79.8 73.8,78.4 77.0,77.8 80.1,76.6 84.0,76.0 87.4,75.2 90.0,75.9 93.0,75.7 97.3,76.1 100.0,77.2 103.6,78.0 107.0,78.6 110.9,79.8 114.0,81.2 117.2,82.0 121.0,83.6 124.5,84.8 128.0,86.5 130.8,87.5 133.5,89.5 136.2,91.1 138.5,93.5 140.8,95.6 143.0,98.5 145.3,101.1 147.0,103.0 148.0,104.7 149.7,107.0 149.7,111.0" fill="#000" filter="url(#pspk)" opacity="0.45"/><polygon points="38.8,111.0 40.5,107.0 43.0,102.9 45.0,100.5 47.5,97.4 50.0,95.0 53.0,92.0 56.5,89.0 60.2,85.7 63.5,83.5 67.4,81.1 70.5,79.8 73.8,78.4 77.0,77.8 80.1,76.6 84.0,76.0 87.4,75.2 90.0,75.9 93.0,75.7 97.3,76.1 100.0,77.2 103.6,78.0 107.0,78.6 110.9,79.8 114.0,81.2 117.2,82.0 121.0,83.6 124.5,84.8 128.0,86.5 130.8,87.5 133.5,89.5 136.2,91.1 138.5,93.5 140.8,95.6 143.0,98.5 145.3,101.1 147.0,103.0 148.0,104.7 149.7,107.0 149.7,111.0" fill="#000" filter="url(#wspk)" opacity="0.45"/><g filter="url(#bl)"><line x1="50" y1="97" x2="52" y2="103" stroke="#8048a2" stroke-width="1.0" stroke-linecap="round"/><line x1="56" y1="91.5" x2="58" y2="97" stroke="#8048a2" stroke-width="1.0" stroke-linecap="round"/><line x1="65" y1="85" x2="66" y2="90" stroke="#8048a2" stroke-width="1.0" stroke-linecap="round"/><line x1="72" y1="81.5" x2="71.5" y2="86.5" stroke="#8048a2" stroke-width="0.9" stroke-linecap="round"/><line x1="80" y1="79.5" x2="79" y2="85" stroke="#8048a2" stroke-width="1.0" stroke-linecap="round"/><line x1="86" y1="79" x2="84.5" y2="84" stroke="#8048a2" stroke-width="0.9" stroke-linecap="round"/><line x1="94" y1="78.5" x2="92" y2="85" stroke="#8048a2" stroke-width="1.2" stroke-linecap="round"/><line x1="99" y1="80" x2="97" y2="86.5" stroke="#8048a2" stroke-width="1.3" stroke-linecap="round"/><line x1="105" y1="81" x2="103" y2="88" stroke="#8048a2" stroke-width="1.3" stroke-linecap="round"/><line x1="111" y1="82.5" x2="110" y2="88.5" stroke="#8048a2" stroke-width="1.2" stroke-linecap="round"/><line x1="118" y1="85" x2="117" y2="91" stroke="#8048a2" stroke-width="1.2" stroke-linecap="round"/><line x1="124" y1="88" x2="122" y2="94" stroke="#8048a2" stroke-width="1.2" stroke-linecap="round"/><line x1="130" y1="90.5" x2="127.5" y2="96" stroke="#8048a2" stroke-width="1.2" stroke-linecap="round"/><line x1="135" y1="94" x2="132" y2="99" stroke="#8048a2" stroke-width="1.1" stroke-linecap="round"/><line x1="140" y1="98.5" x2="136.5" y2="102.5" stroke="#8048a2" stroke-width="1.0" stroke-linecap="round"/><line x1="144" y1="103" x2="140.5" y2="106" stroke="#8048a2" stroke-width="0.9" stroke-linecap="round"/><line x1="45" y1="103" x2="47.5" y2="107" stroke="#8048a2" stroke-width="0.9" stroke-linecap="round"/></g><path d="M99.5 101.5 Q106 97 113 95 Q117 94 119 95.2" fill="none" stroke="#d040a8" stroke-width="0.9"/><path d="M108.5 99 Q111 104 112 111" fill="none" stroke="#d868b8" stroke-width="0.6"/><polyline points="38.8,111.0 40.5,107.0 43.0,102.9 45.0,100.5 47.5,97.4 50.0,95.0 53.0,92.0 56.5,89.0 60.2,85.7 63.5,83.5 67.4,81.1 70.5,79.8 73.8,78.4 77.0,77.8 80.1,76.6 84.0,76.0 87.4,75.2 90.0,75.9 93.0,75.7 97.3,76.1 100.0,77.2 103.6,78.0 107.0,78.6 110.9,79.8 114.0,81.2 117.2,82.0 121.0,83.6 124.5,84.8 128.0,86.5 130.8,87.5 133.5,89.5 136.2,91.1 138.5,93.5 140.8,95.6 143.0,98.5 145.3,101.1 147.0,103.0 148.0,104.7 149.7,107.0" fill="none" stroke="#5c2e8a" stroke-width="1.0" stroke-linejoin="round"/></g>
<rect x="36.30" y="66.20" width="21.00" height="15.30" fill="#fff" stroke="#555" stroke-width="0.7"/>
<path d="M39.6 72.4 Q41 69.6 43.6 68.9 Q47 68.4 49.4 69.6 Q53 70.6 54.6 72.3 Q52 73.2 49.2 73.1 Q45 72.6 41.6 72.9 Z" fill="#e6bce6" stroke="#dca8e0" stroke-width="0.4"/><path d="M42 71.4 Q46 70 50.5 71.2" fill="none" stroke="#f6e6f6" stroke-width="0.6"/><path d="M38.6 78.6 L38.2 75.6 Q39 74.6 41 74.4 L49.4 73.2" fill="none" stroke="#d832aa" stroke-width="1.6" stroke-linecap="round" stroke-linejoin="round"/><path d="M47 74.6 L50.8 74.4 L50.6 76.4 L48.4 77.6 L47 76.6 Z" fill="#d02a9e"/>
<rect x="35.30" y="65.90" width="113.50" height="44.60" fill="none" stroke="#111" stroke-width="1.8"/>
<line x1="133.10" y1="108.00" x2="145.80" y2="108.00" stroke="#111" stroke-width="1.0"/>
<text x="139.50" y="106.50" font-size="5.3" font-weight="bold" text-anchor="middle" fill="#111">5 mm</text>
<text x="32.60" y="87.20" font-size="9.5" font-weight="bold" text-anchor="middle" fill="#000" transform="rotate(-90 32.6 87.2)">WT</text>
<rect x="162.40" y="13.80" width="115.50" height="46.50" fill="#fff"/>
<g clip-path="url(#c2)"><polygon points="162.4,45.0 180.0,45.0 200.0,46.0 240.0,45.0 262.0,43.0 277.9,41.0 277.9,60.3 162.4,60.3" fill="#8a5abb"/><polygon points="162.4,40.0 166.0,38.5 172.0,37.0 177.0,35.0 181.0,33.5 185.0,34.5 190.0,36.5 192.0,40.0 190.0,46.0 186.0,50.0 178.0,53.0 170.0,54.0 162.4,54.0" fill="#6a2a92"/><polygon points="180.0,46.0 205.0,46.5 235.0,45.0 262.0,42.0 266.0,48.0 240.0,49.5 210.0,50.5 185.0,51.0 172.0,52.0" fill="#7440aa"/><polygon points="176.0,41.0 186.0,38.5 200.0,38.8 214.0,39.4 228.0,39.6 240.0,38.8 250.0,37.2 258.0,36.0 264.0,38.0 264.0,43.0 250.0,45.0 235.0,46.0 220.0,46.5 205.0,47.0 190.0,47.5 178.0,47.0" fill="#dc1c9c"/><polygon points="194.0,35.8 204.0,37.6 214.0,38.6 226.0,38.6 238.0,37.2 246.0,34.5 249.0,36.6 240.0,39.0 226.0,39.8 212.0,39.8 200.0,39.2 192.0,37.8" fill="#f2c8e8"/><polygon points="246.0,24.0 249.0,19.0 253.0,16.8 258.0,17.0 262.0,19.0 266.0,23.0 265.0,27.0 260.0,30.0 254.0,31.0 249.0,31.0" fill="#7c3caa"/><polygon points="186.0,25.5 190.0,26.0 196.0,30.0 204.0,33.0 214.0,34.6 224.0,34.8 234.0,33.5 242.0,30.5 246.0,26.0 249.0,21.0 252.0,18.0 256.0,17.5 258.0,21.0 254.0,25.0 250.0,30.0 246.0,34.0 238.0,37.0 226.0,38.4 214.0,38.4 204.0,37.5 196.0,35.5 190.0,32.5 186.0,29.0" fill="#e650b8"/><polygon points="196.0,31.5 206.0,34.6 216.0,35.8 226.0,35.8 236.0,34.6 244.0,31.0 245.0,33.0 236.0,36.2 226.0,37.2 214.0,37.2 204.0,36.2 196.0,33.5" fill="#f07ccc"/><polygon points="178.5,31.0 181.5,27.5 185.5,25.8 189.5,28.0 192.0,33.0 190.0,37.0 184.0,38.5 179.0,37.0" fill="#7a2e9e"/><polygon points="262.0,28.5 268.0,26.5 277.9,25.0 277.9,60.3 268.0,60.3 265.5,50.0 264.0,40.0" fill="#a385ca"/><polygon points="263.0,29.5 269.0,28.0 273.0,33.0 269.0,41.0 265.0,40.0" fill="#ece2f4"/><polygon points="255.0,31.0 262.0,30.0 264.0,40.0 262.0,44.0 258.0,38.0" fill="#c8b4e0"/><ellipse cx="253" cy="22.5" rx="1.4" ry="0.8" fill="#f4eaf8"/><ellipse cx="258.5" cy="25.5" rx="1.1" ry="0.7" fill="#f4eaf8"/><ellipse cx="250" cy="27" rx="1.0" ry="0.6" fill="#f4eaf8"/><ellipse cx="261" cy="21.5" rx="0.8" ry="0.6" fill="#f4eaf8"/><polyline points="162.4,51.8 168.0,51.5 172.0,52.6 178.0,51.8 184.0,53.0 190.0,53.6 196.0,52.2 202.0,51.0 210.0,51.6 218.0,50.6 224.0,51.8 232.0,53.0 238.0,51.5 246.0,52.5 252.0,53.4 258.0,52.6 264.0,54.0" fill="none" stroke="#ffffff" stroke-width="1.1" stroke-linejoin="round"/><polyline points="196.0,55.5 206.0,54.5 214.0,55.5 222.0,54.8" fill="none" stroke="#e8dcf2" stroke-width="0.7" stroke-linejoin="round"/><polygon points="162.4,40.0 178.0,31.0 186.0,25.0 196.0,30.0 214.0,34.5 234.0,33.5 246.0,24.0 253.0,16.5 266.0,22.0 277.9,24.0 277.9,60.3 162.4,60.3" fill="#000" filter="url(#wspk)" opacity="0.35"/><polygon points="162.4,40.0 178.0,31.0 186.0,25.0 196.0,30.0 214.0,34.5 234.0,33.5 246.0,24.0 253.0,16.5 266.0,22.0 277.9,24.0 277.9,60.3 162.4,60.3" fill="#000" filter="url(#vspk)" opacity="0.4"/></g>
<rect x="164.20" y="14.70" width="19.30" height="13.60" fill="#fff" stroke="#555" stroke-width="0.7"/>
<path d="M165 20 Q166.5 18 170 17.8 L172 17 L176 17.6 L179 16.8 Q181.6 17.4 181.8 19.4 L181.2 22 L182 24.6 Q179 25.8 175 25.4 L170 25.8 Q166 25.6 165.2 24 Q164.6 22 165 20 Z" fill="#8c6ad0" stroke="#b49ae0" stroke-width="0.5"/><path d="M171 18.8 Q175 17.6 178.5 18.6" fill="none" stroke="#d83cb0" stroke-width="1.1"/><path d="M165.5 20.5 L168 20.2" fill="none" stroke="#e070c8" stroke-width="0.8"/><ellipse cx="174.4" cy="23.2" rx="3.6" ry="1.1" fill="#e8e2f6"/><path d="M167 22 Q169 21 172 21.2" fill="none" stroke="#5a48b8" stroke-width="0.8"/>
<rect x="163.30" y="14.70" width="113.70" height="44.70" fill="none" stroke="#111" stroke-width="1.8"/>
<line x1="261.30" y1="56.90" x2="274.00" y2="56.90" stroke="#111" stroke-width="1.0"/>
<text x="267.70" y="55.40" font-size="5.3" font-weight="bold" text-anchor="middle" fill="#111">5 mm</text>
<text x="161.00" y="37.90" font-size="9.5" font-weight="bold" text-anchor="middle" fill="#000" transform="rotate(-90 161.0 37.9)">Δ<tspan font-style="italic">cna</tspan></text>
<rect x="162.50" y="64.90" width="115.40" height="46.70" fill="#fff"/>
<g clip-path="url(#c4)"><polygon points="162.6,86.0 277.9,73.4 277.9,111.6 162.5,111.6" fill="#f8eef6"/><polygon points="162.6,86.0 166.0,85.8 170.0,87.0 173.7,87.0 176.5,85.6 179.1,85.7 182.0,84.6 185.5,84.8 188.5,83.4 191.8,83.4 195.0,82.4 199.1,82.5 202.5,81.2 206.3,81.1 209.0,80.4 211.8,80.2 215.0,79.2 218.0,78.9 221.5,77.8 225.2,76.6 229.0,75.6 232.5,74.8 236.0,74.0 239.8,73.4 243.5,72.4 247.0,71.6 251.0,71.0 254.3,70.7 258.0,70.6 261.5,70.7 265.0,71.2 268.8,72.1 272.5,72.8 277.4,73.4 277.9,90.3 259.4,89.3 244.2,89.3 230.9,91.2 217.6,92.2 202.4,93.1 189.2,95.0 177.8,96.9 170.0,96.8 164.0,96.5 162.5,96.5" fill="#a65cba"/><polygon points="163.0,91.0 176.0,90.0 190.0,89.0 205.0,88.0 218.0,87.0 230.0,85.0 242.0,83.0 254.0,82.5 266.0,83.0 277.9,84.0 277.9,88.5 262.0,87.8 250.0,87.8 236.0,89.6 220.0,91.0 204.0,92.0 188.0,93.8 176.0,95.5 163.0,95.5" fill="#d064c0"/><polyline points="162.6,86.0 166.0,85.8 170.0,87.0 173.7,87.0 176.5,85.6 179.1,85.7 182.0,84.6 185.5,84.8 188.5,83.4 191.8,83.4 195.0,82.4 199.1,82.5 202.5,81.2 206.3,81.1 209.0,80.4 211.8,80.2 215.0,79.2 218.0,78.9 221.5,77.8 225.2,76.6 229.0,75.6 232.5,74.8 236.0,74.0 239.8,73.4 243.5,72.4 247.0,71.6 251.0,71.0 254.3,70.7 258.0,70.6 261.5,70.7 265.0,71.2 268.8,72.1 272.5,72.8 277.4,73.4" fill="none" stroke="#8a4aac" stroke-width="2.6" stroke-linejoin="round"/><polygon points="240.0,77.0 256.0,74.0 272.0,75.5 277.4,76.0 277.4,84.0 262.0,82.0 248.0,81.0" fill="#9c5cb8"/><polygon points="162.5,96.5 178.0,97.0 189.0,95.5 188.0,100.0 183.0,106.0 177.0,109.5 168.0,110.5 162.5,110.5" fill="#cc94d6"/><polygon points="165.0,101.0 171.0,100.5 174.0,103.5 169.0,105.0" fill="#9a66b8"/><polygon points="256.0,96.0 266.0,93.0 277.4,92.0 277.4,110.8 270.0,110.8 262.0,104.0" fill="#e6cfea"/><circle cx="242" cy="98" r="2.2" fill="#ffffff" stroke="#e0c8e8" stroke-width="0.3"/><circle cx="250" cy="97" r="1.6" fill="#ffffff" stroke="#e0c8e8" stroke-width="0.3"/><circle cx="258" cy="100" r="2" fill="#ffffff" stroke="#e0c8e8" stroke-width="0.3"/><circle cx="232" cy="101" r="1.8" fill="#ffffff" stroke="#e0c8e8" stroke-width="0.3"/><circle cx="222" cy="99" r="1.4" fill="#ffffff" stroke="#e0c8e8" stroke-width="0.3"/><circle cx="246" cy="104" r="2.2" fill="#ffffff" stroke="#e0c8e8" stroke-width="0.3"/><circle cx="236" cy="106" r="1.6" fill="#ffffff" stroke="#e0c8e8" stroke-width="0.3"/><circle cx="228" cy="96.5" r="1.2" fill="#ffffff" stroke="#e0c8e8" stroke-width="0.3"/><circle cx="214" cy="100" r="1.2" fill="#ffffff" stroke="#e0c8e8" stroke-width="0.3"/><circle cx="205" cy="103" r="1.6" fill="#ffffff" stroke="#e0c8e8" stroke-width="0.3"/><circle cx="196" cy="100" r="1.2" fill="#ffffff" stroke="#e0c8e8" stroke-width="0.3"/><circle cx="266" cy="99" r="1.6" fill="#ffffff" stroke="#e0c8e8" stroke-width="0.3"/><circle cx="254" cy="92.5" r="1.5" fill="#ffffff" stroke="#e0c8e8" stroke-width="0.3"/><circle cx="262" cy="95" r="1.3" fill="#ffffff" stroke="#e0c8e8" stroke-width="0.3"/><circle cx="240" cy="93" r="1.2" fill="#ffffff" stroke="#e0c8e8" stroke-width="0.3"/><circle cx="217" cy="105" r="1.5" fill="#ffffff" stroke="#e0c8e8" stroke-width="0.3"/><circle cx="209" cy="97" r="1.1" fill="#ffffff" stroke="#e0c8e8" stroke-width="0.3"/><circle cx="190" cy="104" r="1.4" fill="#ffffff" stroke="#e0c8e8" stroke-width="0.3"/><circle cx="200" cy="108" r="1.2" fill="#ffffff" stroke="#e0c8e8" stroke-width="0.3"/><circle cx="226" cy="108" r="1.3" fill="#ffffff" stroke="#e0c8e8" stroke-width="0.3"/><circle cx="270" cy="104" r="1.4" fill="#ffffff" stroke="#e0c8e8" stroke-width="0.3"/><polygon points="162.6,98.0 200.0,93.0 240.0,89.0 277.9,88.0 277.9,111.6 162.5,111.6" fill="#000" filter="url(#pspk)" opacity="0.32"/><polygon points="162.6,86.0 166.0,85.8 170.0,87.0 173.7,87.0 176.5,85.6 179.1,85.7 182.0,84.6 185.5,84.8 188.5,83.4 191.8,83.4 195.0,82.4 199.1,82.5 202.5,81.2 206.3,81.1 209.0,80.4 211.8,80.2 215.0,79.2 218.0,78.9 221.5,77.8 225.2,76.6 229.0,75.6 232.5,74.8 236.0,74.0 239.8,73.4 243.5,72.4 247.0,71.6 251.0,71.0 254.3,70.7 258.0,70.6 261.5,70.7 265.0,71.2 268.8,72.1 272.5,72.8 277.4,73.4 277.9,90.3 259.4,89.3 244.2,89.3 230.9,91.2 217.6,92.2 202.4,93.1 189.2,95.0 177.8,96.9 170.0,96.8 164.0,96.5 162.5,96.5" fill="#000" filter="url(#wspk)" opacity="0.5"/></g>
<rect x="164.40" y="67.50" width="21.80" height="9.80" fill="#fff" stroke="#555" stroke-width="0.7"/>
<path d="M164.8 72.6 Q168 71 174 70.2 Q180 70.4 185.2 73.8 L184 74.6 Q178 75.4 172 76.2 Q167 76 164.8 74.2 Z" fill="#dcc6ec"/><path d="M164.8 72.6 Q168 71.2 174 70.4 Q180 70.6 185.2 73.8" fill="none" stroke="#a848c0" stroke-width="0.9"/><path d="M170 73.2 Q174 72.6 178 73.6" fill="none" stroke="#9a80d0" stroke-width="0.8"/>
<rect x="163.40" y="65.80" width="113.60" height="44.90" fill="none" stroke="#111" stroke-width="1.8"/>
<line x1="261.30" y1="108.20" x2="274.00" y2="108.20" stroke="#111" stroke-width="1.0"/>
<text x="267.70" y="106.70" font-size="5.3" font-weight="bold" text-anchor="middle" fill="#111">5 mm</text>
<text x="161.00" y="88.90" font-size="9.5" font-weight="bold" text-anchor="middle" fill="#000" transform="rotate(-90 161.0 88.9)">comp <tspan font-style="italic">cna</tspan></text>
<g stroke="#b8a8a4" stroke-width="0.35" fill="#f7efee"><path d="M311.6 59.7 L309.0 57.400000000000006 M317.6 59.7 L320.20000000000005 57.400000000000006 M311.40000000000003 69.2 L308.6 72.2 L307.6 72.2 M317.8 69.2 L320.6 72.2 L321.6 72.2" fill="none" stroke="#b8a0a0" stroke-width="0.7" stroke-linecap="round"/><path d="M314.6 70.7 Q314.8 77.2 315.20000000000005 83.7" fill="none" stroke="#c8b0b0" stroke-width="0.7"/><path d="M314.6 56.2 C317.40000000000003 56.2 319.0 59.2 319.0 63.2 C319.20000000000005 67.2 318.20000000000005 71.2 314.6 71.7 C311.0 71.2 310.0 67.2 310.20000000000005 63.2 C310.20000000000005 59.2 311.8 56.2 314.6 56.2 Z"/><ellipse cx="314.6" cy="55.800000000000004" rx="2.3" ry="2.5"/><circle cx="312.70000000000005" cy="54.400000000000006" r="0.9"/><circle cx="316.5" cy="54.400000000000006" r="0.9"/><ellipse cx="314.6" cy="65.5" rx="3.3" ry="4.6" fill="#eaa2ae" stroke="none" opacity="0.85"/></g>
<g stroke="#b8a8a4" stroke-width="0.35" fill="#f7efee"><path d="M332.2 59.7 L329.59999999999997 57.400000000000006 M338.2 59.7 L340.8 57.400000000000006 M332.0 69.2 L329.2 72.2 L328.2 72.2 M338.4 69.2 L341.2 72.2 L342.2 72.2" fill="none" stroke="#b8a0a0" stroke-width="0.7" stroke-linecap="round"/><path d="M335.2 70.7 Q335.4 77.2 335.8 83.7" fill="none" stroke="#c8b0b0" stroke-width="0.7"/><path d="M335.2 56.2 C338.0 56.2 339.59999999999997 59.2 339.59999999999997 63.2 C339.8 67.2 338.8 71.2 335.2 71.7 C331.59999999999997 71.2 330.59999999999997 67.2 330.8 63.2 C330.8 59.2 332.4 56.2 335.2 56.2 Z"/><ellipse cx="335.2" cy="55.800000000000004" rx="2.3" ry="2.5"/><circle cx="333.3" cy="54.400000000000006" r="0.9"/><circle cx="337.09999999999997" cy="54.400000000000006" r="0.9"/><ellipse cx="335.2" cy="65.5" rx="3.3" ry="4.6" fill="#eaa2ae" stroke="none" opacity="0.85"/></g><path d="M338.4 62.7 L343.0 58.6" stroke="#6a7a6a" stroke-width="1.2" stroke-linecap="round"/><path d="M337.4 63.7 L338.59999999999997 62.6" stroke="#888" stroke-width="0.4"/>
<g stroke="#b8a8a4" stroke-width="0.35" fill="#f7efee"><path d="M461.9 62.1 L459.29999999999995 59.800000000000004 M467.9 62.1 L470.5 59.800000000000004 M461.7 71.6 L458.9 74.6 L457.9 74.6 M468.09999999999997 71.6 L470.9 74.6 L471.9 74.6" fill="none" stroke="#b8a0a0" stroke-width="0.7" stroke-linecap="round"/><path d="M464.9 73.1 Q465.09999999999997 79.6 465.5 86.1" fill="none" stroke="#c8b0b0" stroke-width="0.7"/><path d="M464.9 58.6 C467.7 58.6 469.29999999999995 61.6 469.29999999999995 65.6 C469.5 69.6 468.5 73.6 464.9 74.1 C461.29999999999995 73.6 460.29999999999995 69.6 460.5 65.6 C460.5 61.6 462.09999999999997 58.6 464.9 58.6 Z"/><ellipse cx="464.9" cy="58.2" rx="2.3" ry="2.5"/><circle cx="463.0" cy="56.800000000000004" r="0.9"/><circle cx="466.79999999999995" cy="56.800000000000004" r="0.9"/><ellipse cx="464.9" cy="67.9" rx="3.3" ry="4.6" fill="#eaa2ae" stroke="none" opacity="0.85"/><path d="M464.0 61.6 L465.79999999999995 61.6 L465.59999999999997 66.6 L464.2 66.6 Z" fill="#a02030" stroke="none"/></g>
<g stroke="#b8a8a4" stroke-width="0.35" fill="#f7efee"><path d="M488.8 62.1 L486.2 59.800000000000004 M494.8 62.1 L497.40000000000003 59.800000000000004 M488.6 71.6 L485.8 74.6 L484.8 74.6 M495.0 71.6 L497.8 74.6 L498.8 74.6" fill="none" stroke="#b8a0a0" stroke-width="0.7" stroke-linecap="round"/><path d="M491.8 73.1 Q492.0 79.6 492.40000000000003 86.1" fill="none" stroke="#c8b0b0" stroke-width="0.7"/><path d="M491.8 58.6 C494.6 58.6 496.2 61.6 496.2 65.6 C496.40000000000003 69.6 495.40000000000003 73.6 491.8 74.1 C488.2 73.6 487.2 69.6 487.40000000000003 65.6 C487.40000000000003 61.6 489.0 58.6 491.8 58.6 Z"/><ellipse cx="491.8" cy="58.2" rx="2.3" ry="2.5"/><circle cx="489.90000000000003" cy="56.800000000000004" r="0.9"/><circle cx="493.7" cy="56.800000000000004" r="0.9"/><ellipse cx="491.8" cy="67.9" rx="3.3" ry="4.6" fill="#eaa2ae" stroke="none" opacity="0.85"/><path d="M490.90000000000003 61.6 L492.7 61.6 L492.5 66.6 L491.1 66.6 Z" fill="#a02030" stroke="none"/></g>
<circle cx="469" cy="58.8" r="1.1" fill="#5ab0a8"/>
<rect x="309.20" y="90.90" width="253.40" height="2.70" fill="#e6e6f6" stroke="#8686aa" stroke-width="0.6"/>
<line x1="314.40" y1="85.20" x2="314.40" y2="99.20" stroke="#333" stroke-width="0.6"/>
<line x1="335.20" y1="85.20" x2="335.20" y2="99.20" stroke="#333" stroke-width="0.6"/>
<line x1="465.30" y1="85.20" x2="465.30" y2="99.20" stroke="#333" stroke-width="0.6"/>
<line x1="492.00" y1="85.20" x2="492.00" y2="99.20" stroke="#333" stroke-width="0.6"/>
<line x1="520.30" y1="85.20" x2="520.30" y2="99.20" stroke="#333" stroke-width="0.6"/>
<line x1="553.70" y1="85.20" x2="553.70" y2="99.20" stroke="#333" stroke-width="0.6"/>
<path d="M341.6 84.2 V80.6 H452.2 V84.2" fill="none" stroke="#555" stroke-width="0.5"/>
<text x="318.30" y="31.00" font-size="5.0" font-weight="normal" text-anchor="start" fill="#1a1a1a">Inoculate 10<tspan font-size="3.2" dy="-1.8">5</tspan></text>
<text x="318.30" y="36.80" font-size="5.0" font-weight="normal" text-anchor="start" fill="#1a1a1a">bacteria intradermally</text>
<text x="312.30" y="51.00" font-size="5.0" font-weight="normal" text-anchor="middle" fill="#1a1a1a">Shave/Depilate</text>
<text x="391.80" y="57.00" font-size="5.0" font-weight="normal" text-anchor="middle" fill="#1a1a1a">Weigh, take pictures of abscesses</text>
<text x="396.30" y="86.40" font-size="5.0" font-weight="normal" text-anchor="middle" fill="#1a1a1a">Day 1 - 7</text>
<text x="462.40" y="54.00" font-size="5.0" font-weight="normal" text-anchor="middle" fill="#1a1a1a">Perfuse with heparin</text>
<text x="522.90" y="49.70" font-size="5.0" font-weight="normal" text-anchor="middle" fill="#1a1a1a">Gentle Macs</text>
<text x="523.00" y="55.40" font-size="5.0" font-weight="normal" text-anchor="middle" fill="#1a1a1a">tissue disruption</text>
<text x="314.70" y="107.40" font-size="5.0" font-weight="normal" text-anchor="middle" fill="#1a1a1a">Day -1</text>
<text x="335.00" y="107.40" font-size="5.0" font-weight="normal" text-anchor="middle" fill="#1a1a1a">Day 0</text>
<text x="465.00" y="111.00" font-size="5.0" font-weight="normal" text-anchor="middle" fill="#1a1a1a">Day 7</text>
<text x="491.80" y="108.00" font-size="5.0" font-weight="normal" text-anchor="middle" fill="#1a1a1a">Excise</text>
<text x="491.80" y="113.40" font-size="5.0" font-weight="normal" text-anchor="middle" fill="#1a1a1a">abscess</text>
<text x="553.50" y="106.60" font-size="5.0" font-weight="normal" text-anchor="middle" fill="#1a1a1a">Staining and</text>
<text x="554.50" y="112.20" font-size="5.0" font-weight="normal" text-anchor="middle" fill="#1a1a1a">flow cytometry</text>
<path d="M380.2 71.2 Q380.2 70 381.4 70 L383 70 L384 68.6 L387.2 68.6 L388.2 70 L389.2 70 Q390.2 70 390.2 71.2 L390.2 76.4 Q390.2 77.6 389 77.6 L381.4 77.6 Q380.2 77.6 380.2 76.4 Z" fill="#333"/><circle cx="385.2" cy="73.8" r="2.6" fill="#4a4a4a" stroke="#1a1a1a" stroke-width="0.6"/><circle cx="385.2" cy="73.8" r="1.2" fill="#2a2a2a"/>
<path d="M398.2 72.6 L414.8 72.6 L414.2 75.4 L412 77.2 L400.5 77.2 L398.6 75.4 Z" fill="#d8dadc" stroke="#9a9ea2" stroke-width="0.4"/><path d="M398.6 73.2 L403 73.2 L403.5 76.8 L400.5 76.8 L398.8 75.2 Z" fill="#5a5e62"/><rect x="403" y="69.8" width="7.4" height="3" fill="#e0e4e4" stroke="#a0a4a6" stroke-width="0.3"/><path d="M402.4 62.2 L410.8 62.2 L410.6 70 L402.6 70 Z" fill="#eef4f2" stroke="#b8bcbc" stroke-width="0.4"/><rect x="404.2" y="63.6" width="4.8" height="5.6" fill="#dcf0e8"/>
<path d="M508.6 64.8 L512 63.4 L524.6 63.6 L525 70 L516 72.5 L515.6 76.2 L509.4 73.4 Z" fill="#f2642a"/><path d="M508.4 65 L510.6 64.4 L511 74.2 L509.2 73.4 Z" fill="#f6c21e"/><path d="M515.4 69.6 L525.2 68.2 L531.8 74.6 L530.4 76 L516 76.8 Z" fill="#f8c81e"/><path d="M520.2 69.6 L526.6 69 L529 72.4 L521.4 73.2 Z" fill="#4a5468"/><path d="M512 63.4 L512.4 61.2 M514.6 63.4 L515 61 M517.2 63.4 L517.6 61.2 M519.8 63.4 L520.2 61 M522.4 63.4 L522.8 61.4" stroke="#f4e8e8" stroke-width="0.9"/>
<g fill="none" stroke="#3f5f8c" stroke-width="0.7"><path d="M547.2 64.6 V72.4 L551.1 74.9 V80.6"/><path d="M559.4 64.6 V72.4 L555.6 74.9 V80.6"/><path d="M551.6 61 V71.4"/><path d="M555.1 61 V71.4"/></g><path d="M553.35 61.5 V80.4" stroke="#2a8ae0" stroke-width="0.9" stroke-dasharray="0.9 1.6"/>
</svg>
</body></html>
